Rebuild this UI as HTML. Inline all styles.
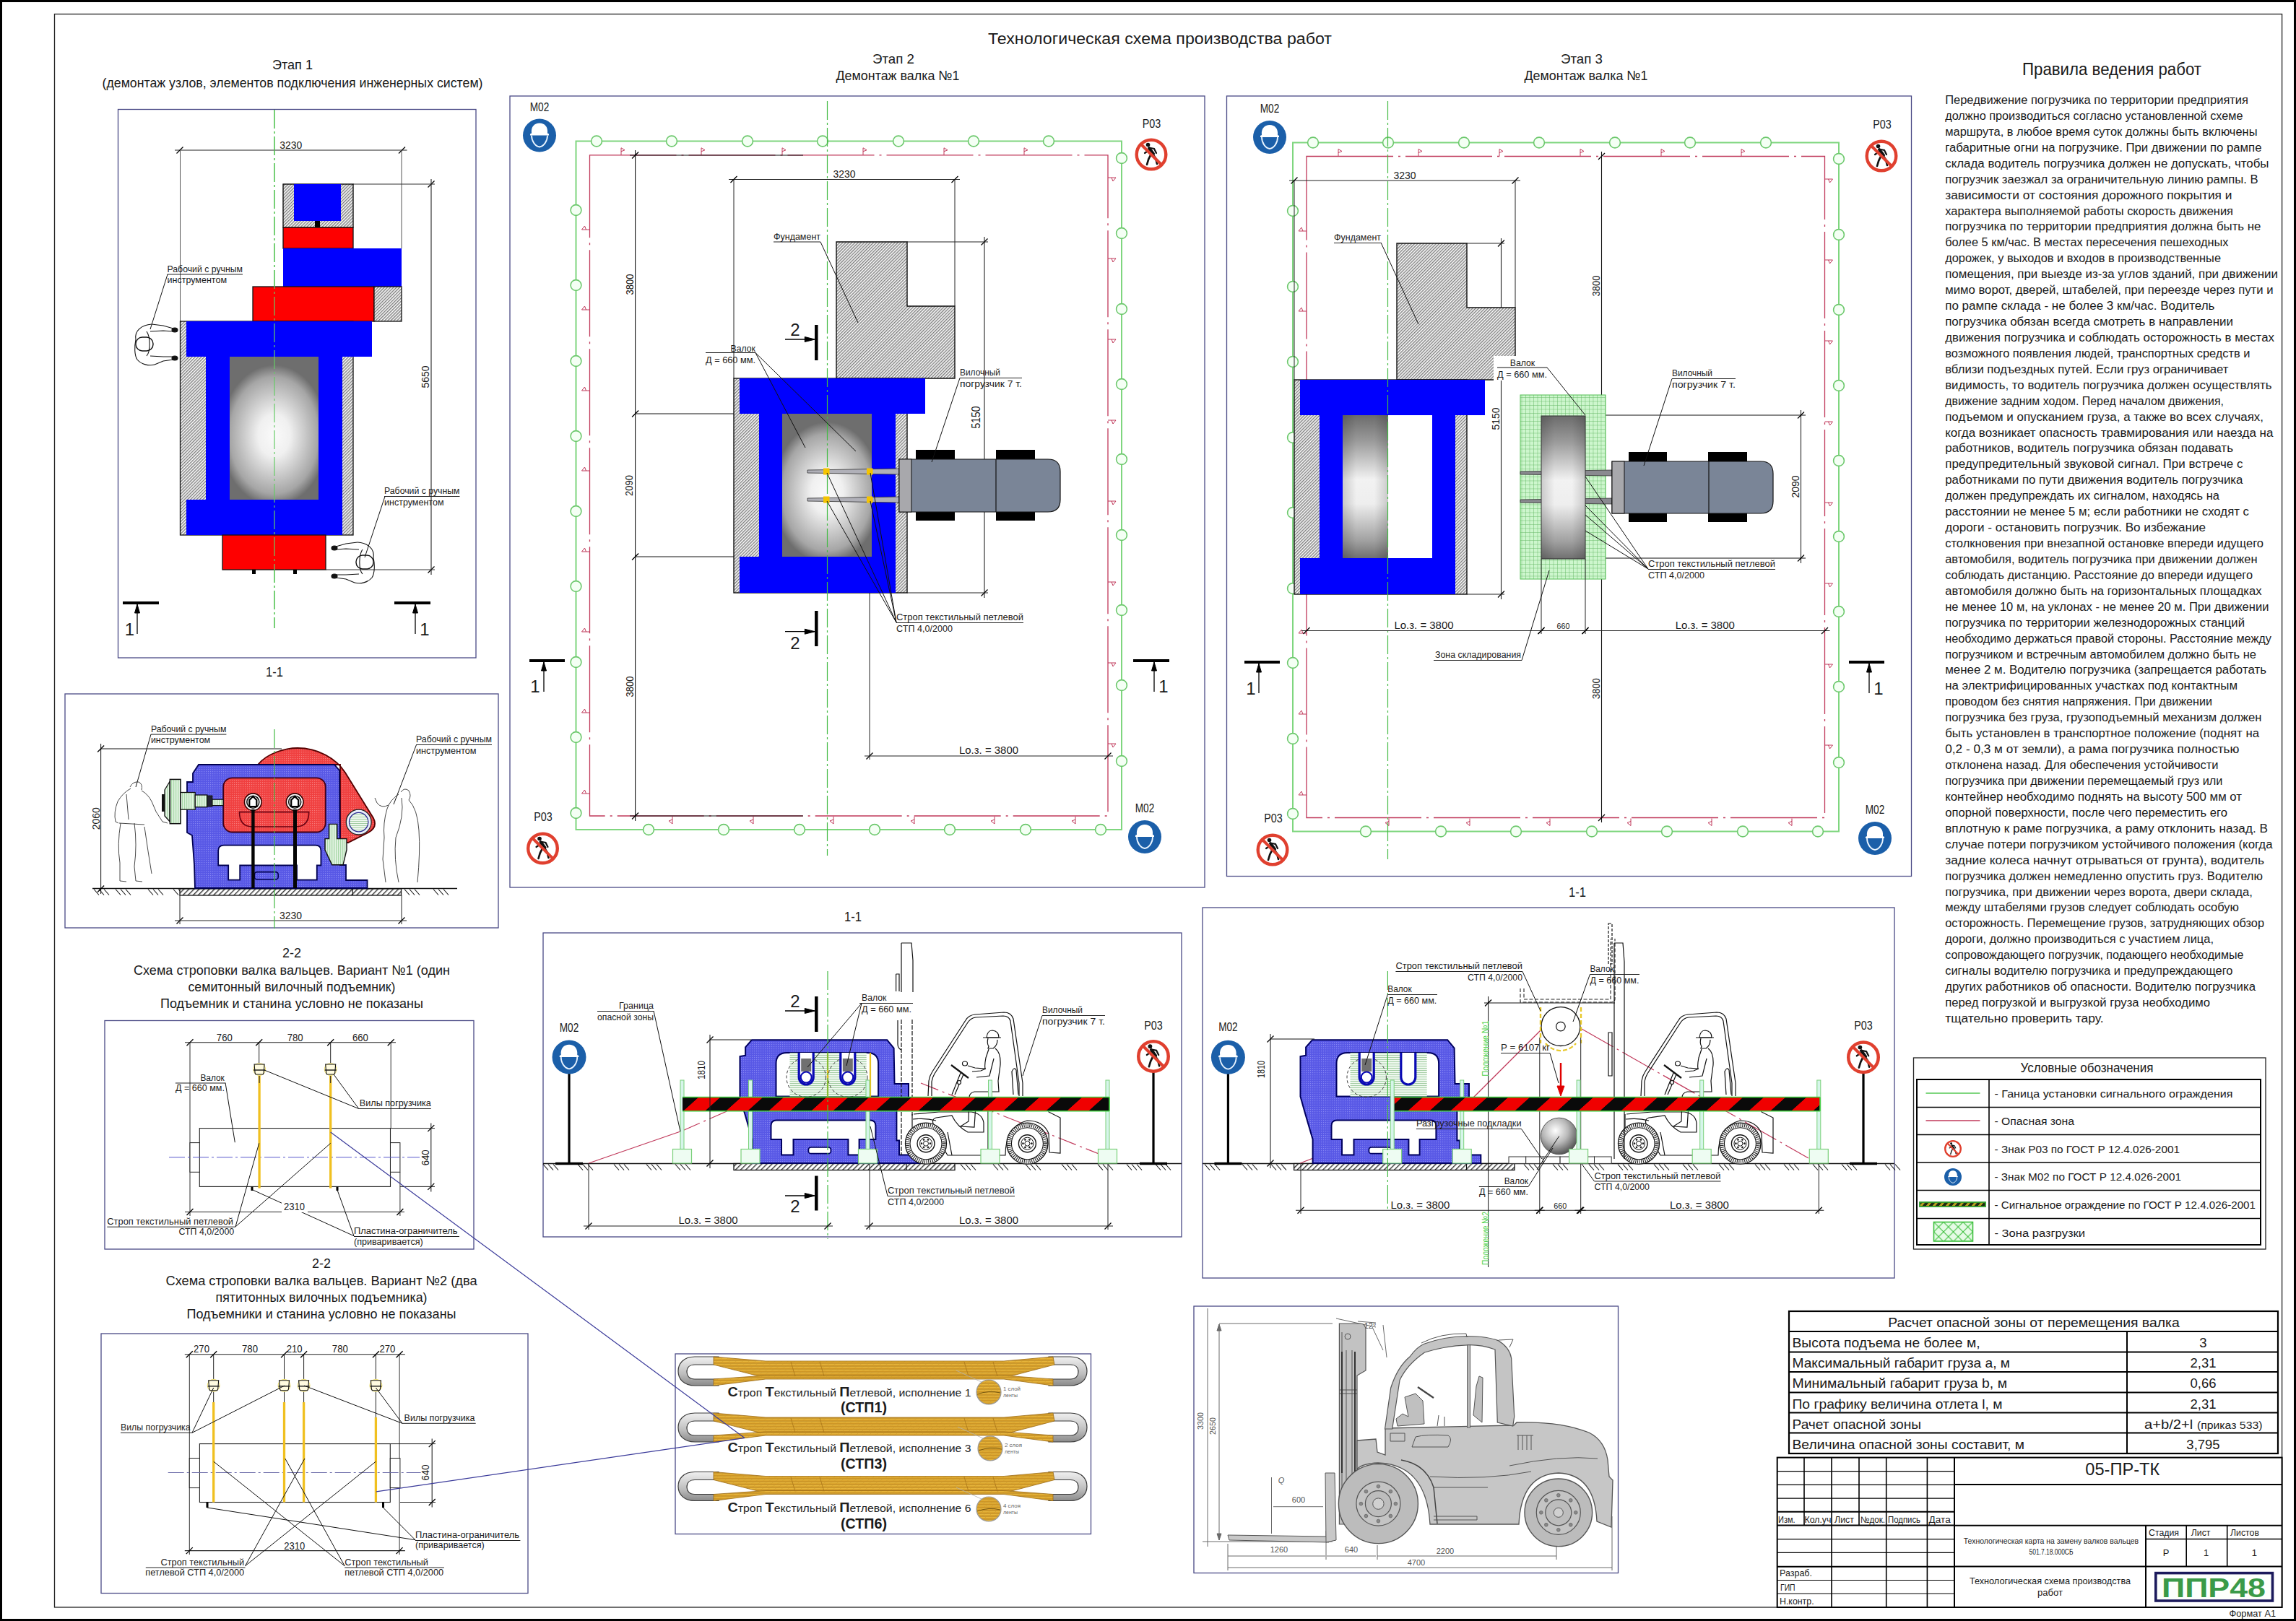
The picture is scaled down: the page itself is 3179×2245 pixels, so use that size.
<!DOCTYPE html>
<html><head><meta charset="utf-8"><style>
html,body{margin:0;padding:0;background:#fff;overflow:hidden;}
svg{display:block;}
text{font-family:"Liberation Sans",sans-serif;}
</style></head><body>
<svg width="3179" height="2245" viewBox="0 0 3179 2245">
<defs>
<pattern id="hatch" width="3" height="3" patternUnits="userSpaceOnUse" patternTransform="rotate(45)">
<rect width="3" height="3" fill="#ffffff"/><rect x="0" y="0" width="1.4" height="3" fill="#7c7c7c"/></pattern>
<radialGradient id="roll" cx="0.5" cy="0.55" r="0.6" gradientTransform="translate(0.5 0.55) scale(1 0.82) translate(-0.5 -0.55)"><stop offset="0" stop-color="#fafafa"/><stop offset="0.3" stop-color="#f0f0f0"/><stop offset="0.83" stop-color="#a6a6a6"/><stop offset="1" stop-color="#6e6e6e"/></radialGradient>
<linearGradient id="rollv" x1="0" y1="0" x2="0" y2="1"><stop offset="0" stop-color="#6c6c6c"/><stop offset="0.18" stop-color="#9a9a9a"/><stop offset="0.45" stop-color="#f2f2f2"/><stop offset="0.62" stop-color="#eeeeee"/><stop offset="0.88" stop-color="#a0a0a0"/><stop offset="1" stop-color="#707070"/></linearGradient>
<linearGradient id="rolledge" x1="0" y1="0" x2="1" y2="0"><stop offset="0" stop-color="#000" stop-opacity="0.16"/><stop offset="0.3" stop-color="#000" stop-opacity="0"/><stop offset="0.7" stop-color="#000" stop-opacity="0"/><stop offset="1" stop-color="#000" stop-opacity="0.16"/></linearGradient>
<linearGradient id="rollh" x1="0" y1="0" x2="1" y2="0"><stop offset="0" stop-color="#6a6a6a"/><stop offset="0.5" stop-color="#f6f6f6"/><stop offset="1" stop-color="#6a6a6a"/></linearGradient>
</defs>
<rect x="0" y="0" width="3179" height="2245" fill="#ffffff" stroke="none" stroke-width="1" />
<rect x="0" y="0" width="3179" height="3" fill="#000" stroke="none" stroke-width="1" />
<rect x="0" y="0" width="3" height="2245" fill="#000" stroke="none" stroke-width="1" />
<rect x="3176" y="0" width="3" height="2245" fill="#000" stroke="none" stroke-width="1" />
<rect x="0" y="2242" width="3179" height="3" fill="#000" stroke="none" stroke-width="1" />
<rect x="75.5" y="19.5" width="3084.1" height="2206.5" fill="none" stroke="#222" stroke-width="1.3" />
<text x="1606" y="60.5" font-size="22.5" font-family="Liberation Sans" text-anchor="middle" textLength="476" lengthAdjust="spacingAndGlyphs" fill="#1a1a1a" >Технологическая схема производства работ</text>
<text x="405" y="96" font-size="19" font-family="Liberation Sans" text-anchor="middle" textLength="56" lengthAdjust="spacingAndGlyphs" fill="#1a1a1a" >Этап 1</text>
<text x="405" y="121" font-size="19" font-family="Liberation Sans" text-anchor="middle" textLength="527" lengthAdjust="spacingAndGlyphs" fill="#1a1a1a" >(демонтаж узлов, элементов подключения инженерных систем)</text>
<text x="1237" y="88" font-size="19" font-family="Liberation Sans" text-anchor="middle" textLength="58" lengthAdjust="spacingAndGlyphs" fill="#1a1a1a" >Этап 2</text>
<text x="1243" y="111" font-size="19" font-family="Liberation Sans" text-anchor="middle" textLength="171" lengthAdjust="spacingAndGlyphs" fill="#1a1a1a" >Демонтаж валка №1</text>
<text x="2190" y="88" font-size="19" font-family="Liberation Sans" text-anchor="middle" textLength="58" lengthAdjust="spacingAndGlyphs" fill="#1a1a1a" >Этап 3</text>
<text x="2196" y="111" font-size="19" font-family="Liberation Sans" text-anchor="middle" textLength="171" lengthAdjust="spacingAndGlyphs" fill="#1a1a1a" >Демонтаж валка №1</text>
<text x="2924" y="104" font-size="24" font-family="Liberation Sans" text-anchor="middle" textLength="248" lengthAdjust="spacingAndGlyphs" fill="#1a1a1a" >Правила ведения работ</text>
<rect x="163.5" y="151.5" width="495.5" height="759.5" fill="none" stroke="#4a4a86" stroke-width="1.3" />
<rect x="90" y="961" width="600" height="324" fill="none" stroke="#4a4a86" stroke-width="1.3" />
<rect x="145" y="1413.5" width="511" height="316.5" fill="none" stroke="#4a4a86" stroke-width="1.3" />
<rect x="140" y="1847" width="591" height="359.5" fill="none" stroke="#4a4a86" stroke-width="1.3" />
<rect x="706" y="133" width="962" height="1096" fill="none" stroke="#4a4a86" stroke-width="1.3" />
<rect x="1698.5" y="133" width="948" height="1080.5" fill="none" stroke="#4a4a86" stroke-width="1.3" />
<rect x="752" y="1292" width="884" height="421" fill="none" stroke="#4a4a86" stroke-width="1.3" />
<rect x="1665" y="1257" width="958" height="513" fill="none" stroke="#4a4a86" stroke-width="1.3" />
<rect x="935" y="1875" width="575.5" height="249.5" fill="none" stroke="#4a4a86" stroke-width="1.3" />
<rect x="1653" y="1809" width="587.5" height="369.5" fill="none" stroke="#4a4a86" stroke-width="1.3" />
<line x1="380" y1="152" x2="380" y2="870" stroke="#44bb44" stroke-width="1.2" stroke-dasharray="26,4,3,4" />
<line x1="242" y1="208" x2="563.5" y2="208" stroke="#222" stroke-width="1.1" />
<line x1="244.5" y1="212.5" x2="253.5" y2="203.5" stroke="#000" stroke-width="1.3" />
<line x1="552" y1="212.5" x2="561" y2="203.5" stroke="#000" stroke-width="1.3" />
<text x="402.75" y="205.8" font-size="15.5" font-family="Liberation Sans" text-anchor="middle" textLength="31" lengthAdjust="spacingAndGlyphs" fill="#1a1a1a" >3230</text>
<line x1="249.5" y1="208" x2="249.5" y2="445" stroke="#555" stroke-width="1" />
<line x1="556" y1="208" x2="556" y2="344" stroke="#555" stroke-width="1" />
<line x1="597" y1="248" x2="597" y2="796" stroke="#222" stroke-width="1.1" />
<line x1="592.5" y1="259.5" x2="601.5" y2="250.5" stroke="#000" stroke-width="1.3" />
<line x1="592.5" y1="793.5" x2="601.5" y2="784.5" stroke="#000" stroke-width="1.3" />
<text x="594.2" y="522" font-size="15.5" font-family="Liberation Sans" text-anchor="middle" textLength="31" lengthAdjust="spacingAndGlyphs" transform="rotate(-90 594.2 522)" fill="#1a1a1a" >5650</text>
<line x1="489" y1="255" x2="602" y2="255" stroke="#333" stroke-width="1" />
<line x1="451" y1="789" x2="602" y2="789" stroke="#333" stroke-width="1" />
<rect x="392" y="255" width="97" height="60" fill="url(#hatch)" stroke="#000" stroke-width="1.3" />
<rect x="407" y="255" width="65" height="51" fill="#0000fe" stroke="none" stroke-width="1" />
<rect x="436" y="306" width="7" height="9" fill="#000" stroke="none" stroke-width="1" />
<rect x="392" y="315" width="97" height="29" fill="#fe0000" stroke="#111" stroke-width="1.3" />
<rect x="392" y="344" width="164" height="53" fill="#0000fe" stroke="none" stroke-width="1" />
<rect x="350" y="397" width="168" height="48" fill="#fe0000" stroke="#111" stroke-width="1.3" />
<rect x="518" y="397" width="38" height="48" fill="url(#hatch)" stroke="#111" stroke-width="1.3" />
<rect x="249.5" y="445" width="239.5" height="296" fill="url(#hatch)" stroke="#111" stroke-width="1.3" />
<rect x="258" y="445" width="257" height="49" fill="#0000fe" stroke="none" stroke-width="1" />
<rect x="285" y="494" width="33" height="198" fill="#0000fe" stroke="none" stroke-width="1" />
<rect x="441" y="494" width="33" height="198" fill="#0000fe" stroke="none" stroke-width="1" />
<rect x="318" y="494" width="123" height="198" fill="url(#roll)" stroke="none" stroke-width="1" />
<rect x="258" y="692" width="216" height="49" fill="#0000fe" stroke="none" stroke-width="1" />
<rect x="308" y="741" width="143" height="48" fill="#fe0000" stroke="#111" stroke-width="1.3" />
<rect x="349" y="789" width="5" height="6" fill="#000" stroke="none" stroke-width="1" />
<rect x="406" y="789" width="5" height="6" fill="#000" stroke="none" stroke-width="1" />
<line x1="380" y1="152" x2="380" y2="870" stroke="#66cc66" stroke-width="1.2" stroke-dasharray="26,4,3,4" />
<g transform="translate(200,476) scale(1,1)" fill="none" stroke="#111" stroke-width="1.1">
<path d="M 10,-27 C -4,-26 -14,-18 -12,-6 C -14,4 -14,16 -10,22 C -4,29 6,31 14,29"/>
<path d="M 10,-27 L 26,-25 L 40,-21 M 8,-17 L 26,-18 L 40,-17 M 14,29 L 26,24 L 40,22 M 8,17 L 26,18 L 40,18"/>
<rect x="-12" y="-9" width="24" height="19" rx="9" fill="#fff" stroke-width="1.4"/>
<path d="M 3,-17 C 8,-10 9,10 3,17" />
<ellipse cx="42" cy="-19" rx="4" ry="3" fill="#111"/><ellipse cx="42" cy="20" rx="4" ry="3" fill="#111"/>
</g>
<g transform="translate(505,778) scale(-1,1)" fill="none" stroke="#111" stroke-width="1.1">
<path d="M 10,-27 C -4,-26 -14,-18 -12,-6 C -14,4 -14,16 -10,22 C -4,29 6,31 14,29"/>
<path d="M 10,-27 L 26,-25 L 40,-21 M 8,-17 L 26,-18 L 40,-17 M 14,29 L 26,24 L 40,22 M 8,17 L 26,18 L 40,18"/>
<rect x="-12" y="-9" width="24" height="19" rx="9" fill="#fff" stroke-width="1.4"/>
<path d="M 3,-17 C 8,-10 9,10 3,17" />
<ellipse cx="42" cy="-19" rx="4" ry="3" fill="#111"/><ellipse cx="42" cy="20" rx="4" ry="3" fill="#111"/>
</g>
<text x="231.5" y="376.5" font-size="12.5" font-family="Liberation Sans" textLength="104.5" lengthAdjust="spacingAndGlyphs" fill="#1a1a1a" >Рабочий с ручным</text>
<text x="231.5" y="392" font-size="12.5" font-family="Liberation Sans" textLength="82.5" lengthAdjust="spacingAndGlyphs" fill="#1a1a1a" >инструментом</text>
<line x1="231.5" y1="380" x2="336" y2="380" stroke="#222" stroke-width="1" />
<line x1="232" y1="380" x2="208" y2="456" stroke="#111" stroke-width="1" />
<text x="532" y="684" font-size="12.5" font-family="Liberation Sans" textLength="104.5" lengthAdjust="spacingAndGlyphs" fill="#1a1a1a" >Рабочий с ручным</text>
<text x="532" y="699.5" font-size="12.5" font-family="Liberation Sans" textLength="82.5" lengthAdjust="spacingAndGlyphs" fill="#1a1a1a" >инструментом</text>
<line x1="532" y1="687.5" x2="636.5" y2="687.5" stroke="#222" stroke-width="1" />
<line x1="533" y1="687.5" x2="505" y2="772" stroke="#111" stroke-width="1" />
<line x1="170" y1="835" x2="220" y2="835" stroke="#000" stroke-width="4" />
<line x1="190" y1="837" x2="190" y2="878" stroke="#000" stroke-width="1.3" />
<polygon points="186.5,849 190,837 193.5,849" fill="#000" stroke="#000" stroke-width="1" />
<text x="179.5" y="880" font-size="24" font-family="Liberation Sans" text-anchor="middle" fill="#1a1a1a" >1</text>
<line x1="546" y1="835" x2="596" y2="835" stroke="#000" stroke-width="4" />
<line x1="575" y1="837" x2="575" y2="878" stroke="#000" stroke-width="1.3" />
<polygon points="571.5,849 575,837 578.5,849" fill="#000" stroke="#000" stroke-width="1" />
<text x="588" y="880" font-size="24" font-family="Liberation Sans" text-anchor="middle" fill="#1a1a1a" >1</text>
<text x="380" y="937" font-size="19" font-family="Liberation Sans" text-anchor="middle" textLength="24" lengthAdjust="spacingAndGlyphs" fill="#1a1a1a" >1-1</text>
<g transform="translate(747,187.5) scale(1.0)">
<circle r="23" fill="#1b5fa9"/>
<path d="M -11,-3 C -12,-12 -7,-17 0,-17 C 7,-17 12,-12 11,-3 L 13,-2 L 13,0 L -13,0 L -13,-2 Z" fill="#fff"/>
<path d="M -11,0 C -11,8 -6,15 0,16 C 6,15 11,8 11,0" fill="none" stroke="#e8f4ff" stroke-width="1.8"/>
</g>
<text x="747" y="154" font-size="16" font-family="Liberation Sans" text-anchor="middle" textLength="26.5" lengthAdjust="spacingAndGlyphs" fill="#1a1a1a" >М02</text>
<g transform="translate(1594,214) scale(1.0)">
<circle r="20.3" fill="#fff" stroke="#e0402f" stroke-width="4.4"/>
<g stroke="#111" stroke-linecap="round" fill="none"><path d="M -3,-9 L 3,-1" stroke-width="4"/><path d="M -1,-9 L 4,-8 L 7,-2" stroke-width="2.2"/><path d="M -3,-6 L -9,-2" stroke-width="2.2"/><path d="M 0,-1 C -3,4 -5,9 -6,14" stroke-width="2.6"/><path d="M 2,-1 L 6,5 L 8,13" stroke-width="2.6"/></g>
<circle cx="-4.5" cy="-13.5" r="2.8" fill="#111"/>
<line x1="-14" y1="-14" x2="14" y2="14" stroke="#e0402f" stroke-width="4"/>
</g>
<text x="1594.5" y="176.5" font-size="16" font-family="Liberation Sans" text-anchor="middle" textLength="25.5" lengthAdjust="spacingAndGlyphs" fill="#1a1a1a" >Р03</text>
<g transform="translate(751.5,1175) scale(1.0)">
<circle r="20.3" fill="#fff" stroke="#e0402f" stroke-width="4.4"/>
<g stroke="#111" stroke-linecap="round" fill="none"><path d="M -3,-9 L 3,-1" stroke-width="4"/><path d="M -1,-9 L 4,-8 L 7,-2" stroke-width="2.2"/><path d="M -3,-6 L -9,-2" stroke-width="2.2"/><path d="M 0,-1 C -3,4 -5,9 -6,14" stroke-width="2.6"/><path d="M 2,-1 L 6,5 L 8,13" stroke-width="2.6"/></g>
<circle cx="-4.5" cy="-13.5" r="2.8" fill="#111"/>
<line x1="-14" y1="-14" x2="14" y2="14" stroke="#e0402f" stroke-width="4"/>
</g>
<text x="752" y="1137" font-size="16" font-family="Liberation Sans" text-anchor="middle" textLength="25.5" lengthAdjust="spacingAndGlyphs" fill="#1a1a1a" >Р03</text>
<g transform="translate(1585,1159) scale(1.0)">
<circle r="23" fill="#1b5fa9"/>
<path d="M -11,-3 C -12,-12 -7,-17 0,-17 C 7,-17 12,-12 11,-3 L 13,-2 L 13,0 L -13,0 L -13,-2 Z" fill="#fff"/>
<path d="M -11,0 C -11,8 -6,15 0,16 C 6,15 11,8 11,0" fill="none" stroke="#e8f4ff" stroke-width="1.8"/>
</g>
<text x="1585" y="1125" font-size="16" font-family="Liberation Sans" text-anchor="middle" textLength="26.5" lengthAdjust="spacingAndGlyphs" fill="#1a1a1a" >М02</text>
<rect x="816.5" y="214.8" width="717.5" height="915.2" fill="none" stroke="#c0385a" stroke-width="1.3" stroke-dasharray="120,7,3,7"/>
<polyline points="860,214.8 860,204.8 865,207.8 860,209.8" fill="none" stroke="#c0385a" stroke-width="1" />
<polyline points="971,214.8 971,204.8 976,207.8 971,209.8" fill="none" stroke="#c0385a" stroke-width="1" />
<polyline points="1083,214.8 1083,204.8 1088,207.8 1083,209.8" fill="none" stroke="#c0385a" stroke-width="1" />
<polyline points="1195,214.8 1195,204.8 1200,207.8 1195,209.8" fill="none" stroke="#c0385a" stroke-width="1" />
<polyline points="1307,214.8 1307,204.8 1312,207.8 1307,209.8" fill="none" stroke="#c0385a" stroke-width="1" />
<polyline points="1418,214.8 1418,204.8 1423,207.8 1418,209.8" fill="none" stroke="#c0385a" stroke-width="1" />
<polyline points="931,1131 931,1141 926,1137 931,1135" fill="none" stroke="#c0385a" stroke-width="1" />
<polyline points="1043,1131 1043,1141 1038,1137 1043,1135" fill="none" stroke="#c0385a" stroke-width="1" />
<polyline points="1154,1131 1154,1141 1149,1137 1154,1135" fill="none" stroke="#c0385a" stroke-width="1" />
<polyline points="1266,1131 1266,1141 1261,1137 1266,1135" fill="none" stroke="#c0385a" stroke-width="1" />
<polyline points="1377,1131 1377,1141 1372,1137 1377,1135" fill="none" stroke="#c0385a" stroke-width="1" />
<polyline points="1489,1131 1489,1141 1484,1137 1489,1135" fill="none" stroke="#c0385a" stroke-width="1" />
<polyline points="816.5,318 805.5,318 809.5,313 811.5,318" fill="none" stroke="#c0385a" stroke-width="1" />
<polyline points="816.5,429 805.5,429 809.5,424 811.5,429" fill="none" stroke="#c0385a" stroke-width="1" />
<polyline points="816.5,541 805.5,541 809.5,536 811.5,541" fill="none" stroke="#c0385a" stroke-width="1" />
<polyline points="816.5,652 805.5,652 809.5,647 811.5,652" fill="none" stroke="#c0385a" stroke-width="1" />
<polyline points="816.5,764 805.5,764 809.5,759 811.5,764" fill="none" stroke="#c0385a" stroke-width="1" />
<polyline points="816.5,875 805.5,875 809.5,870 811.5,875" fill="none" stroke="#c0385a" stroke-width="1" />
<polyline points="816.5,987 805.5,987 809.5,982 811.5,987" fill="none" stroke="#c0385a" stroke-width="1" />
<polyline points="816.5,1099 805.5,1099 809.5,1094 811.5,1099" fill="none" stroke="#c0385a" stroke-width="1" />
<polyline points="1534,246 1545,246 1541,251 1539,246" fill="none" stroke="#c0385a" stroke-width="1" />
<polyline points="1534,358 1545,358 1541,363 1539,358" fill="none" stroke="#c0385a" stroke-width="1" />
<polyline points="1534,470 1545,470 1541,475 1539,470" fill="none" stroke="#c0385a" stroke-width="1" />
<polyline points="1534,582 1545,582 1541,587 1539,582" fill="none" stroke="#c0385a" stroke-width="1" />
<polyline points="1534,694 1545,694 1541,699 1539,694" fill="none" stroke="#c0385a" stroke-width="1" />
<polyline points="1534,806 1545,806 1541,811 1539,806" fill="none" stroke="#c0385a" stroke-width="1" />
<polyline points="1534,918 1545,918 1541,923 1539,918" fill="none" stroke="#c0385a" stroke-width="1" />
<polyline points="1534,1030 1545,1030 1541,1035 1539,1030" fill="none" stroke="#c0385a" stroke-width="1" />
<rect x="797.5" y="195.5" width="755.5" height="953.5" fill="none" stroke="#7fd67f" stroke-width="2" />
<circle cx="826" cy="195.5" r="7.4" fill="#f4fff4" stroke="#6cc86c" stroke-width="1.6" />
<circle cx="930" cy="195.5" r="7.4" fill="#f4fff4" stroke="#6cc86c" stroke-width="1.6" />
<circle cx="1035" cy="195.5" r="7.4" fill="#f4fff4" stroke="#6cc86c" stroke-width="1.6" />
<circle cx="1139" cy="195.5" r="7.4" fill="#f4fff4" stroke="#6cc86c" stroke-width="1.6" />
<circle cx="1244" cy="195.5" r="7.4" fill="#f4fff4" stroke="#6cc86c" stroke-width="1.6" />
<circle cx="1348" cy="195.5" r="7.4" fill="#f4fff4" stroke="#6cc86c" stroke-width="1.6" />
<circle cx="1452" cy="195.5" r="7.4" fill="#f4fff4" stroke="#6cc86c" stroke-width="1.6" />
<circle cx="898" cy="1149" r="7.4" fill="#f4fff4" stroke="#6cc86c" stroke-width="1.6" />
<circle cx="1002" cy="1149" r="7.4" fill="#f4fff4" stroke="#6cc86c" stroke-width="1.6" />
<circle cx="1107" cy="1149" r="7.4" fill="#f4fff4" stroke="#6cc86c" stroke-width="1.6" />
<circle cx="1211" cy="1149" r="7.4" fill="#f4fff4" stroke="#6cc86c" stroke-width="1.6" />
<circle cx="1315" cy="1149" r="7.4" fill="#f4fff4" stroke="#6cc86c" stroke-width="1.6" />
<circle cx="1420" cy="1149" r="7.4" fill="#f4fff4" stroke="#6cc86c" stroke-width="1.6" />
<circle cx="1524" cy="1149" r="7.4" fill="#f4fff4" stroke="#6cc86c" stroke-width="1.6" />
<circle cx="797.5" cy="291" r="7.4" fill="#f4fff4" stroke="#6cc86c" stroke-width="1.6" />
<circle cx="797.5" cy="395" r="7.4" fill="#f4fff4" stroke="#6cc86c" stroke-width="1.6" />
<circle cx="797.5" cy="500" r="7.4" fill="#f4fff4" stroke="#6cc86c" stroke-width="1.6" />
<circle cx="797.5" cy="604" r="7.4" fill="#f4fff4" stroke="#6cc86c" stroke-width="1.6" />
<circle cx="797.5" cy="708" r="7.4" fill="#f4fff4" stroke="#6cc86c" stroke-width="1.6" />
<circle cx="797.5" cy="812" r="7.4" fill="#f4fff4" stroke="#6cc86c" stroke-width="1.6" />
<circle cx="797.5" cy="917" r="7.4" fill="#f4fff4" stroke="#6cc86c" stroke-width="1.6" />
<circle cx="797.5" cy="1021" r="7.4" fill="#f4fff4" stroke="#6cc86c" stroke-width="1.6" />
<circle cx="797.5" cy="1126" r="7.4" fill="#f4fff4" stroke="#6cc86c" stroke-width="1.6" />
<circle cx="1553" cy="219" r="7.4" fill="#f4fff4" stroke="#6cc86c" stroke-width="1.6" />
<circle cx="1553" cy="323" r="7.4" fill="#f4fff4" stroke="#6cc86c" stroke-width="1.6" />
<circle cx="1553" cy="428" r="7.4" fill="#f4fff4" stroke="#6cc86c" stroke-width="1.6" />
<circle cx="1553" cy="532" r="7.4" fill="#f4fff4" stroke="#6cc86c" stroke-width="1.6" />
<circle cx="1553" cy="636" r="7.4" fill="#f4fff4" stroke="#6cc86c" stroke-width="1.6" />
<circle cx="1553" cy="741" r="7.4" fill="#f4fff4" stroke="#6cc86c" stroke-width="1.6" />
<circle cx="1553" cy="845" r="7.4" fill="#f4fff4" stroke="#6cc86c" stroke-width="1.6" />
<circle cx="1553" cy="949" r="7.4" fill="#f4fff4" stroke="#6cc86c" stroke-width="1.6" />
<circle cx="1553" cy="1054" r="7.4" fill="#f4fff4" stroke="#6cc86c" stroke-width="1.6" />
<line x1="872" y1="215" x2="1112" y2="215" stroke="#111" stroke-width="1.2" />
<line x1="872" y1="1130" x2="1112" y2="1130" stroke="#111" stroke-width="1.2" />
<line x1="879.6" y1="208" x2="879.6" y2="1137" stroke="#111" stroke-width="1.1" />
<line x1="875.1" y1="219.5" x2="884.1" y2="210.5" stroke="#000" stroke-width="1.3" />
<line x1="875.1" y1="577.5" x2="884.1" y2="568.5" stroke="#000" stroke-width="1.3" />
<line x1="875.1" y1="775.5" x2="884.1" y2="766.5" stroke="#000" stroke-width="1.3" />
<line x1="875.1" y1="1134.5" x2="884.1" y2="1125.5" stroke="#000" stroke-width="1.3" />
<text x="876.5" y="394" font-size="15" font-family="Liberation Sans" text-anchor="middle" textLength="29" lengthAdjust="spacingAndGlyphs" transform="rotate(-90 876.5 394)" fill="#1a1a1a" >3800</text>
<text x="876.5" y="672.4" font-size="15" font-family="Liberation Sans" text-anchor="middle" textLength="29" lengthAdjust="spacingAndGlyphs" transform="rotate(-90 876.5 672.4)" fill="#1a1a1a" >2090</text>
<text x="876.5" y="951" font-size="15" font-family="Liberation Sans" text-anchor="middle" textLength="29" lengthAdjust="spacingAndGlyphs" transform="rotate(-90 876.5 951)" fill="#1a1a1a" >3800</text>
<line x1="879.6" y1="573" x2="1024" y2="573" stroke="#111" stroke-width="1" />
<line x1="879.6" y1="771" x2="1016" y2="771" stroke="#111" stroke-width="1" />
<line x1="1009" y1="248.5" x2="1329" y2="248.5" stroke="#222" stroke-width="1.1" />
<line x1="1011.5" y1="253" x2="1020.5" y2="244" stroke="#000" stroke-width="1.3" />
<line x1="1317.5" y1="253" x2="1326.5" y2="244" stroke="#000" stroke-width="1.3" />
<text x="1169" y="246.2" font-size="15.5" font-family="Liberation Sans" text-anchor="middle" textLength="31" lengthAdjust="spacingAndGlyphs" fill="#1a1a1a" >3230</text>
<line x1="1016" y1="248.5" x2="1016" y2="524" stroke="#222" stroke-width="1" />
<line x1="1322" y1="248.5" x2="1322" y2="424" stroke="#222" stroke-width="1" />
<line x1="1363" y1="328" x2="1363" y2="828" stroke="#222" stroke-width="1.1" />
<line x1="1358.5" y1="339.5" x2="1367.5" y2="330.5" stroke="#000" stroke-width="1.3" />
<line x1="1358.5" y1="825.5" x2="1367.5" y2="816.5" stroke="#000" stroke-width="1.3" />
<text x="1357" y="578" font-size="16" font-family="Liberation Sans" text-anchor="middle" textLength="31" lengthAdjust="spacingAndGlyphs" transform="rotate(-90 1357 578)" fill="#1a1a1a" >5150</text>
<line x1="1256" y1="335" x2="1368" y2="335" stroke="#222" stroke-width="1" />
<line x1="1256" y1="821" x2="1368" y2="821" stroke="#222" stroke-width="1" />
<line x1="1197" y1="1047" x2="1541" y2="1047" stroke="#222" stroke-width="1.1" />
<line x1="1199.5" y1="1051.5" x2="1208.5" y2="1042.5" stroke="#000" stroke-width="1.3" />
<line x1="1529.5" y1="1051.5" x2="1538.5" y2="1042.5" stroke="#000" stroke-width="1.3" />
<text x="1369" y="1044" font-size="15" font-family="Liberation Sans" text-anchor="middle" textLength="82" lengthAdjust="spacingAndGlyphs" fill="#1a1a1a" >Lo.з. = 3800</text>
<line x1="1204" y1="720" x2="1204" y2="1052" stroke="#222" stroke-width="1" />
<polygon points="1158,335 1256,335 1256,424 1322,424 1322,524 1158,524" fill="url(#hatch)" stroke="#111" stroke-width="1.4" />
<rect x="1016" y="524" width="240" height="297" fill="url(#hatch)" stroke="#111" stroke-width="1.4" />
<rect x="1024" y="524" width="257" height="49" fill="#0000fe" stroke="none" stroke-width="1" />
<rect x="1051" y="573" width="32" height="198" fill="#0000fe" stroke="none" stroke-width="1" />
<rect x="1207" y="573" width="33" height="198" fill="#0000fe" stroke="none" stroke-width="1" />
<rect x="1083" y="573" width="124" height="198" fill="url(#roll)" stroke="none" stroke-width="1" />
<rect x="1024" y="771" width="216" height="50" fill="#0000fe" stroke="none" stroke-width="1" />
<line x1="1145.5" y1="140" x2="1145.5" y2="1185" stroke="#44bb44" stroke-width="1.2" stroke-dasharray="26,4,3,4" />
<polygon points="1118,651 1245,649 1245,657 1118,655" fill="#b0b0b8" stroke="#333" stroke-width="0.8" />
<polygon points="1118,690 1245,688 1245,696 1118,694" fill="#b0b0b8" stroke="#333" stroke-width="0.8" />
<rect x="1140" y="648.5" width="8.5" height="9" fill="#f5c400" stroke="none" stroke-width="1" />
<rect x="1200" y="648.5" width="8.5" height="9" fill="#f5c400" stroke="none" stroke-width="1" />
<rect x="1140" y="687.5" width="8.5" height="9" fill="#f5c400" stroke="none" stroke-width="1" />
<rect x="1200" y="687.5" width="8.5" height="9" fill="#f5c400" stroke="none" stroke-width="1" />
<rect x="1268" y="623" width="54" height="13" fill="#000" stroke="none" stroke-width="1" />
<rect x="1268" y="709" width="54" height="12" fill="#000" stroke="none" stroke-width="1" />
<rect x="1379" y="623" width="54" height="13" fill="#000" stroke="none" stroke-width="1" />
<rect x="1379" y="709" width="54" height="12" fill="#000" stroke="none" stroke-width="1" />
<path d="M 1245,636 L 1451,636 Q 1468,636 1468,653 L 1468,692 Q 1468,709 1451,709 L 1245,709 Z" fill="#7a8597" stroke="#111" stroke-width="1.2" />
<rect x="1245" y="636" width="17" height="73" fill="#a8a8ac" stroke="#111" stroke-width="1" />
<line x1="1379" y1="636" x2="1379" y2="709" stroke="#111" stroke-width="1.2" />
<text x="1071" y="331.5" font-size="12.5" font-family="Liberation Sans" textLength="65" lengthAdjust="spacingAndGlyphs" fill="#1a1a1a" >Фундамент</text>
<text x="1071" y="347" font-size="12.5" font-family="Liberation Sans" fill="#1a1a1a" ></text>
<line x1="1071" y1="335" x2="1136" y2="335" stroke="#222" stroke-width="1" />
<line x1="1136" y1="335" x2="1188" y2="447" stroke="#111" stroke-width="1" />
<text x="1011.5" y="486.5" font-size="12.5" font-family="Liberation Sans" textLength="34.5" lengthAdjust="spacingAndGlyphs" fill="#1a1a1a" >Валок</text>
<line x1="977" y1="488.5" x2="1046" y2="488.5" stroke="#111" stroke-width="1" />
<text x="977" y="503" font-size="12.5" font-family="Liberation Sans" textLength="69" lengthAdjust="spacingAndGlyphs" fill="#1a1a1a" >Д = 660 мм.</text>
<line x1="1046" y1="488.5" x2="1115" y2="620" stroke="#111" stroke-width="1" />
<line x1="1046" y1="488.5" x2="1185" y2="625" stroke="#111" stroke-width="1" />
<text x="1329" y="520" font-size="12.5" font-family="Liberation Sans" textLength="56" lengthAdjust="spacingAndGlyphs" fill="#1a1a1a" >Вилочный</text>
<text x="1329" y="535.5" font-size="12.5" font-family="Liberation Sans" textLength="86" lengthAdjust="spacingAndGlyphs" fill="#1a1a1a" >погрузчик 7 т.</text>
<line x1="1329" y1="523.5" x2="1415" y2="523.5" stroke="#222" stroke-width="1" />
<line x1="1329" y1="523.5" x2="1290" y2="640" stroke="#111" stroke-width="1" />
<text x="1241" y="859" font-size="12.5" font-family="Liberation Sans" textLength="176" lengthAdjust="spacingAndGlyphs" fill="#1a1a1a" >Строп текстильный петлевой</text>
<text x="1241" y="874.5" font-size="12.5" font-family="Liberation Sans" textLength="78" lengthAdjust="spacingAndGlyphs" fill="#1a1a1a" >СТП 4,0/2000</text>
<line x1="1241" y1="862.5" x2="1417" y2="862.5" stroke="#222" stroke-width="1" />
<line x1="1241" y1="862" x2="1145" y2="655" stroke="#111" stroke-width="1" />
<line x1="1241" y1="862" x2="1145" y2="694" stroke="#111" stroke-width="1" />
<line x1="1241" y1="862" x2="1205" y2="655" stroke="#111" stroke-width="1" />
<line x1="1241" y1="862" x2="1205" y2="694" stroke="#111" stroke-width="1" />
<line x1="733" y1="915" x2="782" y2="915" stroke="#000" stroke-width="4" />
<line x1="753" y1="917" x2="753" y2="958" stroke="#000" stroke-width="1.3" />
<polygon points="749.5,929 753,917 756.5,929" fill="#000" stroke="#000" stroke-width="1" />
<text x="741" y="958.5" font-size="24" font-family="Liberation Sans" text-anchor="middle" fill="#1a1a1a" >1</text>
<line x1="1569" y1="915" x2="1619" y2="915" stroke="#000" stroke-width="4" />
<line x1="1598" y1="917" x2="1598" y2="958" stroke="#000" stroke-width="1.3" />
<polygon points="1594.5,929 1598,917 1601.5,929" fill="#000" stroke="#000" stroke-width="1" />
<text x="1611" y="958.5" font-size="24" font-family="Liberation Sans" text-anchor="middle" fill="#1a1a1a" >1</text>
<line x1="1130.3" y1="450" x2="1130.3" y2="499" stroke="#000" stroke-width="4.5" />
<line x1="1087" y1="470" x2="1127.3" y2="470" stroke="#000" stroke-width="1.3" />
<polygon points="1114.3,466.5 1128.3,470 1114.3,473.5" fill="#000" stroke="#000" stroke-width="1" />
<text x="1101" y="465" font-size="24" font-family="Liberation Sans" text-anchor="middle" fill="#1a1a1a" >2</text>
<line x1="1130.3" y1="846" x2="1130.3" y2="895" stroke="#000" stroke-width="4.5" />
<line x1="1087" y1="874.7" x2="1127.3" y2="874.7" stroke="#000" stroke-width="1.3" />
<polygon points="1114.3,871.2 1128.3,874.7 1114.3,878.2" fill="#000" stroke="#000" stroke-width="1" />
<text x="1101" y="898.6" font-size="24" font-family="Liberation Sans" text-anchor="middle" fill="#1a1a1a" >2</text>
<g transform="translate(1758,190) scale(1.0)">
<circle r="23" fill="#1b5fa9"/>
<path d="M -11,-3 C -12,-12 -7,-17 0,-17 C 7,-17 12,-12 11,-3 L 13,-2 L 13,0 L -13,0 L -13,-2 Z" fill="#fff"/>
<path d="M -11,0 C -11,8 -6,15 0,16 C 6,15 11,8 11,0" fill="none" stroke="#e8f4ff" stroke-width="1.8"/>
</g>
<text x="1758" y="156" font-size="16" font-family="Liberation Sans" text-anchor="middle" textLength="26.5" lengthAdjust="spacingAndGlyphs" fill="#1a1a1a" >М02</text>
<g transform="translate(2605,216) scale(1.0)">
<circle r="20.3" fill="#fff" stroke="#e0402f" stroke-width="4.4"/>
<g stroke="#111" stroke-linecap="round" fill="none"><path d="M -3,-9 L 3,-1" stroke-width="4"/><path d="M -1,-9 L 4,-8 L 7,-2" stroke-width="2.2"/><path d="M -3,-6 L -9,-2" stroke-width="2.2"/><path d="M 0,-1 C -3,4 -5,9 -6,14" stroke-width="2.6"/><path d="M 2,-1 L 6,5 L 8,13" stroke-width="2.6"/></g>
<circle cx="-4.5" cy="-13.5" r="2.8" fill="#111"/>
<line x1="-14" y1="-14" x2="14" y2="14" stroke="#e0402f" stroke-width="4"/>
</g>
<text x="2606" y="178" font-size="16" font-family="Liberation Sans" text-anchor="middle" textLength="25.5" lengthAdjust="spacingAndGlyphs" fill="#1a1a1a" >Р03</text>
<g transform="translate(1762,1177) scale(1.0)">
<circle r="20.3" fill="#fff" stroke="#e0402f" stroke-width="4.4"/>
<g stroke="#111" stroke-linecap="round" fill="none"><path d="M -3,-9 L 3,-1" stroke-width="4"/><path d="M -1,-9 L 4,-8 L 7,-2" stroke-width="2.2"/><path d="M -3,-6 L -9,-2" stroke-width="2.2"/><path d="M 0,-1 C -3,4 -5,9 -6,14" stroke-width="2.6"/><path d="M 2,-1 L 6,5 L 8,13" stroke-width="2.6"/></g>
<circle cx="-4.5" cy="-13.5" r="2.8" fill="#111"/>
<line x1="-14" y1="-14" x2="14" y2="14" stroke="#e0402f" stroke-width="4"/>
</g>
<text x="1763" y="1139" font-size="16" font-family="Liberation Sans" text-anchor="middle" textLength="25.5" lengthAdjust="spacingAndGlyphs" fill="#1a1a1a" >Р03</text>
<g transform="translate(2596,1161) scale(1.0)">
<circle r="23" fill="#1b5fa9"/>
<path d="M -11,-3 C -12,-12 -7,-17 0,-17 C 7,-17 12,-12 11,-3 L 13,-2 L 13,0 L -13,0 L -13,-2 Z" fill="#fff"/>
<path d="M -11,0 C -11,8 -6,15 0,16 C 6,15 11,8 11,0" fill="none" stroke="#e8f4ff" stroke-width="1.8"/>
</g>
<text x="2596" y="1127" font-size="16" font-family="Liberation Sans" text-anchor="middle" textLength="26.5" lengthAdjust="spacingAndGlyphs" fill="#1a1a1a" >М02</text>
<rect x="1809" y="216.5" width="717.5" height="916" fill="none" stroke="#c0385a" stroke-width="1.3" stroke-dasharray="120,7,3,7"/>
<polyline points="1853,216.5 1853,206.5 1858,209.5 1853,211.5" fill="none" stroke="#c0385a" stroke-width="1" />
<polyline points="1964,216.5 1964,206.5 1969,209.5 1964,211.5" fill="none" stroke="#c0385a" stroke-width="1" />
<polyline points="2076,216.5 2076,206.5 2081,209.5 2076,211.5" fill="none" stroke="#c0385a" stroke-width="1" />
<polyline points="2188,216.5 2188,206.5 2193,209.5 2188,211.5" fill="none" stroke="#c0385a" stroke-width="1" />
<polyline points="2300,216.5 2300,206.5 2305,209.5 2300,211.5" fill="none" stroke="#c0385a" stroke-width="1" />
<polyline points="2411,216.5 2411,206.5 2416,209.5 2411,211.5" fill="none" stroke="#c0385a" stroke-width="1" />
<polyline points="1923,1133.5 1923,1143.5 1918,1139.5 1923,1137.5" fill="none" stroke="#c0385a" stroke-width="1" />
<polyline points="2035,1133.5 2035,1143.5 2030,1139.5 2035,1137.5" fill="none" stroke="#c0385a" stroke-width="1" />
<polyline points="2146,1133.5 2146,1143.5 2141,1139.5 2146,1137.5" fill="none" stroke="#c0385a" stroke-width="1" />
<polyline points="2258,1133.5 2258,1143.5 2253,1139.5 2258,1137.5" fill="none" stroke="#c0385a" stroke-width="1" />
<polyline points="2370,1133.5 2370,1143.5 2365,1139.5 2370,1137.5" fill="none" stroke="#c0385a" stroke-width="1" />
<polyline points="2481,1133.5 2481,1143.5 2476,1139.5 2481,1137.5" fill="none" stroke="#c0385a" stroke-width="1" />
<polyline points="1809,320 1798,320 1802,315 1804,320" fill="none" stroke="#c0385a" stroke-width="1" />
<polyline points="1809,431 1798,431 1802,426 1804,431" fill="none" stroke="#c0385a" stroke-width="1" />
<polyline points="1809,543 1798,543 1802,538 1804,543" fill="none" stroke="#c0385a" stroke-width="1" />
<polyline points="1809,654 1798,654 1802,649 1804,654" fill="none" stroke="#c0385a" stroke-width="1" />
<polyline points="1809,766 1798,766 1802,761 1804,766" fill="none" stroke="#c0385a" stroke-width="1" />
<polyline points="1809,877 1798,877 1802,872 1804,877" fill="none" stroke="#c0385a" stroke-width="1" />
<polyline points="1809,989 1798,989 1802,984 1804,989" fill="none" stroke="#c0385a" stroke-width="1" />
<polyline points="1809,1101 1798,1101 1802,1096 1804,1101" fill="none" stroke="#c0385a" stroke-width="1" />
<polyline points="2526.5,248 2537.5,248 2533.5,253 2531.5,248" fill="none" stroke="#c0385a" stroke-width="1" />
<polyline points="2526.5,360 2537.5,360 2533.5,365 2531.5,360" fill="none" stroke="#c0385a" stroke-width="1" />
<polyline points="2526.5,472 2537.5,472 2533.5,477 2531.5,472" fill="none" stroke="#c0385a" stroke-width="1" />
<polyline points="2526.5,584 2537.5,584 2533.5,589 2531.5,584" fill="none" stroke="#c0385a" stroke-width="1" />
<polyline points="2526.5,696 2537.5,696 2533.5,701 2531.5,696" fill="none" stroke="#c0385a" stroke-width="1" />
<polyline points="2526.5,808 2537.5,808 2533.5,813 2531.5,808" fill="none" stroke="#c0385a" stroke-width="1" />
<polyline points="2526.5,920 2537.5,920 2533.5,925 2531.5,920" fill="none" stroke="#c0385a" stroke-width="1" />
<polyline points="2526.5,1032 2537.5,1032 2533.5,1037 2531.5,1032" fill="none" stroke="#c0385a" stroke-width="1" />
<rect x="1790" y="197.5" width="756" height="954" fill="none" stroke="#7fd67f" stroke-width="2" />
<circle cx="1818" cy="197.5" r="7.4" fill="#f4fff4" stroke="#6cc86c" stroke-width="1.6" />
<circle cx="1922" cy="197.5" r="7.4" fill="#f4fff4" stroke="#6cc86c" stroke-width="1.6" />
<circle cx="2027" cy="197.5" r="7.4" fill="#f4fff4" stroke="#6cc86c" stroke-width="1.6" />
<circle cx="2131" cy="197.5" r="7.4" fill="#f4fff4" stroke="#6cc86c" stroke-width="1.6" />
<circle cx="2236" cy="197.5" r="7.4" fill="#f4fff4" stroke="#6cc86c" stroke-width="1.6" />
<circle cx="2340" cy="197.5" r="7.4" fill="#f4fff4" stroke="#6cc86c" stroke-width="1.6" />
<circle cx="2445" cy="197.5" r="7.4" fill="#f4fff4" stroke="#6cc86c" stroke-width="1.6" />
<circle cx="1891" cy="1151.5" r="7.4" fill="#f4fff4" stroke="#6cc86c" stroke-width="1.6" />
<circle cx="1995" cy="1151.5" r="7.4" fill="#f4fff4" stroke="#6cc86c" stroke-width="1.6" />
<circle cx="2099" cy="1151.5" r="7.4" fill="#f4fff4" stroke="#6cc86c" stroke-width="1.6" />
<circle cx="2204" cy="1151.5" r="7.4" fill="#f4fff4" stroke="#6cc86c" stroke-width="1.6" />
<circle cx="2308" cy="1151.5" r="7.4" fill="#f4fff4" stroke="#6cc86c" stroke-width="1.6" />
<circle cx="2413" cy="1151.5" r="7.4" fill="#f4fff4" stroke="#6cc86c" stroke-width="1.6" />
<circle cx="2517" cy="1151.5" r="7.4" fill="#f4fff4" stroke="#6cc86c" stroke-width="1.6" />
<circle cx="1790" cy="292" r="7.4" fill="#f4fff4" stroke="#6cc86c" stroke-width="1.6" />
<circle cx="1790" cy="397" r="7.4" fill="#f4fff4" stroke="#6cc86c" stroke-width="1.6" />
<circle cx="1790" cy="501" r="7.4" fill="#f4fff4" stroke="#6cc86c" stroke-width="1.6" />
<circle cx="1790" cy="606" r="7.4" fill="#f4fff4" stroke="#6cc86c" stroke-width="1.6" />
<circle cx="1790" cy="710" r="7.4" fill="#f4fff4" stroke="#6cc86c" stroke-width="1.6" />
<circle cx="1790" cy="815" r="7.4" fill="#f4fff4" stroke="#6cc86c" stroke-width="1.6" />
<circle cx="1790" cy="918" r="7.4" fill="#f4fff4" stroke="#6cc86c" stroke-width="1.6" />
<circle cx="1790" cy="1023" r="7.4" fill="#f4fff4" stroke="#6cc86c" stroke-width="1.6" />
<circle cx="1790" cy="1127" r="7.4" fill="#f4fff4" stroke="#6cc86c" stroke-width="1.6" />
<circle cx="2546" cy="220" r="7.4" fill="#f4fff4" stroke="#6cc86c" stroke-width="1.6" />
<circle cx="2546" cy="325" r="7.4" fill="#f4fff4" stroke="#6cc86c" stroke-width="1.6" />
<circle cx="2546" cy="429" r="7.4" fill="#f4fff4" stroke="#6cc86c" stroke-width="1.6" />
<circle cx="2546" cy="534" r="7.4" fill="#f4fff4" stroke="#6cc86c" stroke-width="1.6" />
<circle cx="2546" cy="638" r="7.4" fill="#f4fff4" stroke="#6cc86c" stroke-width="1.6" />
<circle cx="2546" cy="743" r="7.4" fill="#f4fff4" stroke="#6cc86c" stroke-width="1.6" />
<circle cx="2546" cy="847" r="7.4" fill="#f4fff4" stroke="#6cc86c" stroke-width="1.6" />
<circle cx="2546" cy="951" r="7.4" fill="#f4fff4" stroke="#6cc86c" stroke-width="1.6" />
<circle cx="2546" cy="1056" r="7.4" fill="#f4fff4" stroke="#6cc86c" stroke-width="1.6" />
<line x1="2217.5" y1="210" x2="2217.5" y2="1139" stroke="#111" stroke-width="1.1" />
<line x1="2213" y1="221" x2="2222" y2="212" stroke="#000" stroke-width="1.3" />
<line x1="2213" y1="579.5" x2="2222" y2="570.5" stroke="#000" stroke-width="1.3" />
<line x1="2213" y1="1137" x2="2222" y2="1128" stroke="#000" stroke-width="1.3" />
<text x="2215" y="396" font-size="15" font-family="Liberation Sans" text-anchor="middle" textLength="29" lengthAdjust="spacingAndGlyphs" transform="rotate(-90 2215 396)" fill="#1a1a1a" >3800</text>
<text x="2215" y="953.7" font-size="15" font-family="Liberation Sans" text-anchor="middle" textLength="29" lengthAdjust="spacingAndGlyphs" transform="rotate(-90 2215 953.7)" fill="#1a1a1a" >3800</text>
<line x1="2195" y1="575" x2="2500" y2="575" stroke="#111" stroke-width="1" />
<line x1="2195" y1="773" x2="2500" y2="773" stroke="#111" stroke-width="1" />
<line x1="2493.5" y1="568" x2="2493.5" y2="780" stroke="#222" stroke-width="1.1" />
<line x1="2489" y1="579.5" x2="2498" y2="570.5" stroke="#000" stroke-width="1.3" />
<line x1="2489" y1="777.5" x2="2498" y2="768.5" stroke="#000" stroke-width="1.3" />
<text x="2490.5" y="674" font-size="15.5" font-family="Liberation Sans" text-anchor="middle" textLength="31" lengthAdjust="spacingAndGlyphs" transform="rotate(-90 2490.5 674)" fill="#1a1a1a" >2090</text>
<line x1="1785" y1="250" x2="2105" y2="250" stroke="#222" stroke-width="1.1" />
<line x1="1787.5" y1="254.5" x2="1796.5" y2="245.5" stroke="#000" stroke-width="1.3" />
<line x1="2093.5" y1="254.5" x2="2102.5" y2="245.5" stroke="#000" stroke-width="1.3" />
<text x="1945" y="247.5" font-size="15.5" font-family="Liberation Sans" text-anchor="middle" textLength="31" lengthAdjust="spacingAndGlyphs" fill="#1a1a1a" >3230</text>
<line x1="1792" y1="250" x2="1792" y2="526" stroke="#222" stroke-width="1" />
<line x1="2098" y1="250" x2="2098" y2="426" stroke="#222" stroke-width="1" />
<line x1="2078.5" y1="330" x2="2078.5" y2="830" stroke="#222" stroke-width="1.1" />
<line x1="2074" y1="341.5" x2="2083" y2="332.5" stroke="#000" stroke-width="1.3" />
<line x1="2074" y1="827.5" x2="2083" y2="818.5" stroke="#000" stroke-width="1.3" />
<text x="2076.3" y="580" font-size="15.5" font-family="Liberation Sans" text-anchor="middle" textLength="31" lengthAdjust="spacingAndGlyphs" transform="rotate(-90 2076.3 580)" fill="#1a1a1a" >5150</text>
<line x1="2031" y1="337" x2="2083" y2="337" stroke="#222" stroke-width="1" />
<line x1="2031" y1="823" x2="2083" y2="823" stroke="#222" stroke-width="1" />
<polygon points="1934,337 2031,337 2031,426 2098,426 2098,526 1934,526" fill="url(#hatch)" stroke="#111" stroke-width="1.4" />
<rect x="1792" y="526" width="239" height="297" fill="url(#hatch)" stroke="#111" stroke-width="1.4" />
<rect x="1800" y="526" width="256" height="49" fill="#0000fe" stroke="none" stroke-width="1" />
<rect x="1827" y="575" width="32" height="198" fill="#0000fe" stroke="none" stroke-width="1" />
<rect x="1983" y="575" width="32" height="198" fill="#0000fe" stroke="none" stroke-width="1" />
<rect x="1859" y="575" width="63" height="198" fill="url(#rollv)" stroke="none" stroke-width="1" />
<rect x="1859" y="575" width="63" height="198" fill="url(#rolledge)" stroke="none" stroke-width="1" />
<rect x="1922" y="575" width="61" height="198" fill="#fff" stroke="none" stroke-width="1" />
<rect x="1800" y="773" width="215" height="50" fill="#0000fe" stroke="none" stroke-width="1" />
<line x1="1921.5" y1="140" x2="1921.5" y2="1190" stroke="#44bb44" stroke-width="1.2" stroke-dasharray="26,4,3,4" />
<pattern id="ggrid" width="5.5" height="5.5" patternUnits="userSpaceOnUse"><rect width="5.5" height="5.5" fill="#cdf6cd"/><path d="M0,0 H5.5 M0,0 V5.5" stroke="#62b862" stroke-width="0.9"/></pattern>
<rect x="2105" y="547" width="118" height="255" fill="url(#ggrid)" stroke="#55c055" stroke-width="1" />
<polygon points="2105,653 2232,651 2232,659 2105,657" fill="#8a8a90" stroke="#333" stroke-width="0.8" />
<polygon points="2105,692 2232,690 2232,698 2105,696" fill="#8a8a90" stroke="#333" stroke-width="0.8" />
<rect x="2134" y="576" width="61" height="198" fill="url(#rollv)" stroke="none" stroke-width="1" />
<rect x="2134" y="576" width="61" height="198" fill="url(#rolledge)" stroke="#333" stroke-width="1" />
<rect x="2255" y="626" width="53" height="13" fill="#000" stroke="none" stroke-width="1" />
<rect x="2255" y="711" width="53" height="12" fill="#000" stroke="none" stroke-width="1" />
<rect x="2365" y="626" width="54" height="13" fill="#000" stroke="none" stroke-width="1" />
<rect x="2365" y="711" width="54" height="12" fill="#000" stroke="none" stroke-width="1" />
<path d="M 2232,639 L 2438,639 Q 2455,639 2455,656 L 2455,694 Q 2455,711 2438,711 L 2232,711 Z" fill="#7a8597" stroke="#111" stroke-width="1.2" />
<rect x="2232" y="639" width="17" height="72" fill="#a8a8ac" stroke="#111" stroke-width="1" />
<line x1="2366" y1="639" x2="2366" y2="711" stroke="#111" stroke-width="1.2" />
<line x1="1802" y1="873.5" x2="2141" y2="873.5" stroke="#222" stroke-width="1.1" />
<line x1="1804.5" y1="878" x2="1813.5" y2="869" stroke="#000" stroke-width="1.3" />
<line x1="2129.5" y1="878" x2="2138.5" y2="869" stroke="#000" stroke-width="1.3" />
<text x="1971.5" y="870.5" font-size="15" font-family="Liberation Sans" text-anchor="middle" textLength="82" lengthAdjust="spacingAndGlyphs" fill="#1a1a1a" >Lo.з. = 3800</text>
<line x1="2127" y1="873.5" x2="2202" y2="873.5" stroke="#222" stroke-width="1.1" />
<line x1="2129.5" y1="878" x2="2138.5" y2="869" stroke="#000" stroke-width="1.3" />
<line x1="2190.5" y1="878" x2="2199.5" y2="869" stroke="#000" stroke-width="1.3" />
<text x="2164.5" y="870.5" font-size="11" font-family="Liberation Sans" text-anchor="middle" textLength="18" lengthAdjust="spacingAndGlyphs" fill="#1a1a1a" >660</text>
<line x1="2188" y1="873.5" x2="2533.5" y2="873.5" stroke="#222" stroke-width="1.1" />
<line x1="2190.5" y1="878" x2="2199.5" y2="869" stroke="#000" stroke-width="1.3" />
<line x1="2522" y1="878" x2="2531" y2="869" stroke="#000" stroke-width="1.3" />
<text x="2360.75" y="870.5" font-size="15" font-family="Liberation Sans" text-anchor="middle" textLength="82" lengthAdjust="spacingAndGlyphs" fill="#1a1a1a" >Lo.з. = 3800</text>
<line x1="2134" y1="774" x2="2134" y2="878" stroke="#222" stroke-width="1" />
<line x1="2195" y1="774" x2="2195" y2="878" stroke="#222" stroke-width="1" />
<text x="1987" y="911" font-size="12.5" font-family="Liberation Sans" textLength="119" lengthAdjust="spacingAndGlyphs" fill="#1a1a1a" >Зона складирования</text>
<text x="1987" y="926.5" font-size="12.5" font-family="Liberation Sans" fill="#1a1a1a" ></text>
<line x1="1985" y1="914.5" x2="2107" y2="914.5" stroke="#222" stroke-width="1" />
<line x1="2107" y1="914.5" x2="2145" y2="790" stroke="#111" stroke-width="1" />
<rect x="2068" y="493" width="78" height="34" fill="#fff" stroke="none" stroke-width="1" />
<text x="2108" y="507" font-size="12.5" font-family="Liberation Sans" text-anchor="middle" textLength="34.5" lengthAdjust="spacingAndGlyphs" fill="#1a1a1a" >Валок</text>
<line x1="2073" y1="509" x2="2142" y2="509" stroke="#111" stroke-width="1" />
<text x="2073" y="523" font-size="12.5" font-family="Liberation Sans" textLength="69" lengthAdjust="spacingAndGlyphs" fill="#1a1a1a" >Д = 660 мм.</text>
<line x1="2142" y1="509" x2="2195" y2="575" stroke="#111" stroke-width="1" />
<text x="2315" y="521" font-size="12.5" font-family="Liberation Sans" textLength="56" lengthAdjust="spacingAndGlyphs" fill="#1a1a1a" >Вилочный</text>
<text x="2315" y="536.5" font-size="12.5" font-family="Liberation Sans" textLength="88" lengthAdjust="spacingAndGlyphs" fill="#1a1a1a" >погрузчик 7 т.</text>
<line x1="2315" y1="524.5" x2="2403" y2="524.5" stroke="#222" stroke-width="1" />
<line x1="2315" y1="524.5" x2="2276" y2="645" stroke="#111" stroke-width="1" />
<text x="2282" y="785" font-size="12.5" font-family="Liberation Sans" textLength="176" lengthAdjust="spacingAndGlyphs" fill="#1a1a1a" >Строп текстильный петлевой</text>
<text x="2282" y="800.5" font-size="12.5" font-family="Liberation Sans" textLength="78" lengthAdjust="spacingAndGlyphs" fill="#1a1a1a" >СТП 4,0/2000</text>
<line x1="2282" y1="788.5" x2="2458" y2="788.5" stroke="#222" stroke-width="1" />
<line x1="2282" y1="788" x2="2195" y2="660" stroke="#111" stroke-width="1" />
<line x1="2282" y1="788" x2="2195" y2="700" stroke="#111" stroke-width="1" />
<line x1="2282" y1="788" x2="2195" y2="713" stroke="#111" stroke-width="1" />
<line x1="2282" y1="788" x2="2195" y2="735" stroke="#111" stroke-width="1" />
<text x="1847" y="333" font-size="12.5" font-family="Liberation Sans" textLength="65" lengthAdjust="spacingAndGlyphs" fill="#1a1a1a" >Фундамент</text>
<text x="1847" y="348.5" font-size="12.5" font-family="Liberation Sans" fill="#1a1a1a" ></text>
<line x1="1847" y1="336.5" x2="1912" y2="336.5" stroke="#222" stroke-width="1" />
<line x1="1912" y1="336" x2="1964" y2="449" stroke="#111" stroke-width="1" />
<line x1="1723" y1="917" x2="1772" y2="917" stroke="#000" stroke-width="4" />
<line x1="1743" y1="919" x2="1743" y2="960" stroke="#000" stroke-width="1.3" />
<polygon points="1739.5,931 1743,919 1746.5,931" fill="#000" stroke="#000" stroke-width="1" />
<text x="1732" y="962" font-size="24" font-family="Liberation Sans" text-anchor="middle" fill="#1a1a1a" >1</text>
<line x1="2560" y1="917" x2="2609" y2="917" stroke="#000" stroke-width="4" />
<line x1="2588" y1="919" x2="2588" y2="960" stroke="#000" stroke-width="1.3" />
<polygon points="2584.5,931 2588,919 2591.5,931" fill="#000" stroke="#000" stroke-width="1" />
<text x="2601" y="962" font-size="24" font-family="Liberation Sans" text-anchor="middle" fill="#1a1a1a" >1</text>
<text x="2693.2" y="144" font-size="15.8" font-family="Liberation Sans" textLength="419.8" lengthAdjust="spacingAndGlyphs" fill="#1a1a1a" >Передвижение погрузчика по территории предприятия</text>
<text x="2693.2" y="165.93" font-size="15.8" font-family="Liberation Sans" textLength="412.3" lengthAdjust="spacingAndGlyphs" fill="#1a1a1a" >должно производиться согласно установленной схеме</text>
<text x="2693.2" y="187.86" font-size="15.8" font-family="Liberation Sans" textLength="432.3" lengthAdjust="spacingAndGlyphs" fill="#1a1a1a" >маршрута, в любое время суток должны быть включены</text>
<text x="2693.2" y="209.79" font-size="15.8" font-family="Liberation Sans" textLength="438.3" lengthAdjust="spacingAndGlyphs" fill="#1a1a1a" >габаритные огни на погрузчике. При движении по рампе</text>
<text x="2693.2" y="231.72" font-size="15.8" font-family="Liberation Sans" textLength="448.3" lengthAdjust="spacingAndGlyphs" fill="#1a1a1a" >склада водитель погрузчика должен не допускать, чтобы</text>
<text x="2693.2" y="253.65" font-size="15.8" font-family="Liberation Sans" textLength="433.3" lengthAdjust="spacingAndGlyphs" fill="#1a1a1a" >погрузчик заезжал за ограничительную линию рампы. В</text>
<text x="2693.2" y="275.58" font-size="15.8" font-family="Liberation Sans" textLength="397.3" lengthAdjust="spacingAndGlyphs" fill="#1a1a1a" >зависимости от состояния дорожного покрытия и</text>
<text x="2693.2" y="297.51" font-size="15.8" font-family="Liberation Sans" textLength="398.8" lengthAdjust="spacingAndGlyphs" fill="#1a1a1a" >характера выполняемой работы скорость движения</text>
<text x="2693.2" y="319.44" font-size="15.8" font-family="Liberation Sans" textLength="437.3" lengthAdjust="spacingAndGlyphs" fill="#1a1a1a" >погрузчика по территории предприятия должна быть не</text>
<text x="2693.2" y="341.37" font-size="15.8" font-family="Liberation Sans" textLength="392.3" lengthAdjust="spacingAndGlyphs" fill="#1a1a1a" >более 5 км/час. В местах пересечения пешеходных</text>
<text x="2693.2" y="363.3" font-size="15.8" font-family="Liberation Sans" textLength="381.8" lengthAdjust="spacingAndGlyphs" fill="#1a1a1a" >дорожек, у выходов и входов в производственные</text>
<text x="2693.2" y="385.23" font-size="15.8" font-family="Liberation Sans" textLength="460.8" lengthAdjust="spacingAndGlyphs" fill="#1a1a1a" >помещения, при выезде из-за углов зданий, при движении</text>
<text x="2693.2" y="407.16" font-size="15.8" font-family="Liberation Sans" textLength="454.3" lengthAdjust="spacingAndGlyphs" fill="#1a1a1a" >мимо ворот, дверей, штабелей, при переезде через пути и</text>
<text x="2693.2" y="429.09" font-size="15.8" font-family="Liberation Sans" textLength="373.3" lengthAdjust="spacingAndGlyphs" fill="#1a1a1a" >по рампе склада - не более 3 км/час. Водитель</text>
<text x="2693.2" y="451.02" font-size="15.8" font-family="Liberation Sans" textLength="398.8" lengthAdjust="spacingAndGlyphs" fill="#1a1a1a" >погрузчика обязан всегда смотреть в направлении</text>
<text x="2693.2" y="472.95" font-size="15.8" font-family="Liberation Sans" textLength="455.8" lengthAdjust="spacingAndGlyphs" fill="#1a1a1a" >движения погрузчика и соблюдать осторожность в местах</text>
<text x="2693.2" y="494.88" font-size="15.8" font-family="Liberation Sans" textLength="422.3" lengthAdjust="spacingAndGlyphs" fill="#1a1a1a" >возможного появления людей, транспортных средств и</text>
<text x="2693.2" y="516.81" font-size="15.8" font-family="Liberation Sans" textLength="392.3" lengthAdjust="spacingAndGlyphs" fill="#1a1a1a" >вблизи подъездных путей. Если груз ограничивает</text>
<text x="2693.2" y="538.74" font-size="15.8" font-family="Liberation Sans" textLength="452.3" lengthAdjust="spacingAndGlyphs" fill="#1a1a1a" >видимость, то водитель погрузчика должен осуществлять</text>
<text x="2693.2" y="560.67" font-size="15.8" font-family="Liberation Sans" textLength="385.8" lengthAdjust="spacingAndGlyphs" fill="#1a1a1a" >движение задним ходом. Перед началом движения,</text>
<text x="2693.2" y="582.6" font-size="15.8" font-family="Liberation Sans" textLength="440.8" lengthAdjust="spacingAndGlyphs" fill="#1a1a1a" >подъемом и опусканием груза, а также во всех случаях,</text>
<text x="2693.2" y="604.53" font-size="15.8" font-family="Liberation Sans" textLength="454.3" lengthAdjust="spacingAndGlyphs" fill="#1a1a1a" >когда возникает опасность травмирования или наезда на</text>
<text x="2693.2" y="626.46" font-size="15.8" font-family="Liberation Sans" textLength="398.8" lengthAdjust="spacingAndGlyphs" fill="#1a1a1a" >работников, водитель погрузчика обязан подавать</text>
<text x="2693.2" y="648.39" font-size="15.8" font-family="Liberation Sans" textLength="412.3" lengthAdjust="spacingAndGlyphs" fill="#1a1a1a" >предупредительный звуковой сигнал. При встрече с</text>
<text x="2693.2" y="670.32" font-size="15.8" font-family="Liberation Sans" textLength="412.3" lengthAdjust="spacingAndGlyphs" fill="#1a1a1a" >работниками по пути движения водитель погрузчика</text>
<text x="2693.2" y="692.25" font-size="15.8" font-family="Liberation Sans" textLength="379.8" lengthAdjust="spacingAndGlyphs" fill="#1a1a1a" >должен предупреждать их сигналом, находясь на</text>
<text x="2693.2" y="714.18" font-size="15.8" font-family="Liberation Sans" textLength="420.8" lengthAdjust="spacingAndGlyphs" fill="#1a1a1a" >расстоянии не менее 5 м; если работники не сходят с</text>
<text x="2693.2" y="736.11" font-size="15.8" font-family="Liberation Sans" textLength="360.8" lengthAdjust="spacingAndGlyphs" fill="#1a1a1a" >дороги - остановить погрузчик. Во избежание</text>
<text x="2693.2" y="758.04" font-size="15.8" font-family="Liberation Sans" textLength="440.8" lengthAdjust="spacingAndGlyphs" fill="#1a1a1a" >столкновения при внезапной остановке впереди идущего</text>
<text x="2693.2" y="779.97" font-size="15.8" font-family="Liberation Sans" textLength="432.3" lengthAdjust="spacingAndGlyphs" fill="#1a1a1a" >автомобиля, водитель погрузчика при движении должен</text>
<text x="2693.2" y="801.9" font-size="15.8" font-family="Liberation Sans" textLength="425.8" lengthAdjust="spacingAndGlyphs" fill="#1a1a1a" >соблюдать дистанцию. Расстояние до впереди идущего</text>
<text x="2693.2" y="823.83" font-size="15.8" font-family="Liberation Sans" textLength="438.3" lengthAdjust="spacingAndGlyphs" fill="#1a1a1a" >автомобиля должно быть на горизонтальных площадках</text>
<text x="2693.2" y="845.76" font-size="15.8" font-family="Liberation Sans" textLength="448.3" lengthAdjust="spacingAndGlyphs" fill="#1a1a1a" >не менее 10 м, на уклонах - не менее 20 м. При движении</text>
<text x="2693.2" y="867.69" font-size="15.8" font-family="Liberation Sans" textLength="414.8" lengthAdjust="spacingAndGlyphs" fill="#1a1a1a" >погрузчика по территории железнодорожных станций</text>
<text x="2693.2" y="889.62" font-size="15.8" font-family="Liberation Sans" textLength="451.8" lengthAdjust="spacingAndGlyphs" fill="#1a1a1a" >необходимо держаться правой стороны. Расстояние между</text>
<text x="2693.2" y="911.55" font-size="15.8" font-family="Liberation Sans" textLength="430.8" lengthAdjust="spacingAndGlyphs" fill="#1a1a1a" >погрузчиком и встречным автомобилем должно быть не</text>
<text x="2693.2" y="933.48" font-size="15.8" font-family="Liberation Sans" textLength="444.8" lengthAdjust="spacingAndGlyphs" fill="#1a1a1a" >менее 2 м. Водителю погрузчика (запрещается работать</text>
<text x="2693.2" y="955.41" font-size="15.8" font-family="Liberation Sans" textLength="404.8" lengthAdjust="spacingAndGlyphs" fill="#1a1a1a" >на электрифицированных участках под контактным</text>
<text x="2693.2" y="977.34" font-size="15.8" font-family="Liberation Sans" textLength="369.8" lengthAdjust="spacingAndGlyphs" fill="#1a1a1a" >проводом без снятия напряжения. При движении</text>
<text x="2693.2" y="999.27" font-size="15.8" font-family="Liberation Sans" textLength="438.3" lengthAdjust="spacingAndGlyphs" fill="#1a1a1a" >погрузчика без груза, грузоподъемный механизм должен</text>
<text x="2693.2" y="1021.2" font-size="15.8" font-family="Liberation Sans" textLength="434.8" lengthAdjust="spacingAndGlyphs" fill="#1a1a1a" >быть установлен в транспортное положение (поднят на</text>
<text x="2693.2" y="1043.13" font-size="15.8" font-family="Liberation Sans" textLength="407.3" lengthAdjust="spacingAndGlyphs" fill="#1a1a1a" >0,2 - 0,3 м от земли), а рама погрузчика полностью</text>
<text x="2693.2" y="1065.06" font-size="15.8" font-family="Liberation Sans" textLength="378.3" lengthAdjust="spacingAndGlyphs" fill="#1a1a1a" >отклонена назад. Для обеспечения устойчивости</text>
<text x="2693.2" y="1086.99" font-size="15.8" font-family="Liberation Sans" textLength="384.3" lengthAdjust="spacingAndGlyphs" fill="#1a1a1a" >погрузчика при движении перемещаемый груз или</text>
<text x="2693.2" y="1108.92" font-size="15.8" font-family="Liberation Sans" textLength="410.8" lengthAdjust="spacingAndGlyphs" fill="#1a1a1a" >контейнер необходимо поднять на высоту 500 мм от</text>
<text x="2693.2" y="1130.85" font-size="15.8" font-family="Liberation Sans" textLength="390.8" lengthAdjust="spacingAndGlyphs" fill="#1a1a1a" >опорной поверхности, после чего переместить его</text>
<text x="2693.2" y="1152.78" font-size="15.8" font-family="Liberation Sans" textLength="446.8" lengthAdjust="spacingAndGlyphs" fill="#1a1a1a" >вплотную к раме погрузчика, а раму отклонить назад. В</text>
<text x="2693.2" y="1174.71" font-size="15.8" font-family="Liberation Sans" textLength="453.3" lengthAdjust="spacingAndGlyphs" fill="#1a1a1a" >случае потери погрузчиком устойчивого положения (когда</text>
<text x="2693.2" y="1196.64" font-size="15.8" font-family="Liberation Sans" textLength="441.8" lengthAdjust="spacingAndGlyphs" fill="#1a1a1a" >задние колеса начнут отрываться от грунта), водитель</text>
<text x="2693.2" y="1218.57" font-size="15.8" font-family="Liberation Sans" textLength="439.8" lengthAdjust="spacingAndGlyphs" fill="#1a1a1a" >погрузчика должен немедленно опустить груз. Водителю</text>
<text x="2693.2" y="1240.5" font-size="15.8" font-family="Liberation Sans" textLength="425.8" lengthAdjust="spacingAndGlyphs" fill="#1a1a1a" >погрузчика, при движении через ворота, двери склада,</text>
<text x="2693.2" y="1262.43" font-size="15.8" font-family="Liberation Sans" textLength="406.8" lengthAdjust="spacingAndGlyphs" fill="#1a1a1a" >между штабелями грузов следует соблюдать особую</text>
<text x="2693.2" y="1284.36" font-size="15.8" font-family="Liberation Sans" textLength="441.8" lengthAdjust="spacingAndGlyphs" fill="#1a1a1a" >осторожность. Перемещение грузов, затрудняющих обзор</text>
<text x="2693.2" y="1306.29" font-size="15.8" font-family="Liberation Sans" textLength="371.8" lengthAdjust="spacingAndGlyphs" fill="#1a1a1a" >дороги, должно производиться с участием лица,</text>
<text x="2693.2" y="1328.22" font-size="15.8" font-family="Liberation Sans" textLength="413.3" lengthAdjust="spacingAndGlyphs" fill="#1a1a1a" >сопровождающего погрузчик, подающего необходимые</text>
<text x="2693.2" y="1350.15" font-size="15.8" font-family="Liberation Sans" textLength="398.3" lengthAdjust="spacingAndGlyphs" fill="#1a1a1a" >сигналы водителю погрузчика и предупреждающего</text>
<text x="2693.2" y="1372.08" font-size="15.8" font-family="Liberation Sans" textLength="429.8" lengthAdjust="spacingAndGlyphs" fill="#1a1a1a" >других работников об опасности. Водителю погрузчика</text>
<text x="2693.2" y="1394.01" font-size="15.8" font-family="Liberation Sans" textLength="366.8" lengthAdjust="spacingAndGlyphs" fill="#1a1a1a" >перед погрузкой и выгрузкой груза необходимо</text>
<text x="2693.2" y="1415.94" font-size="15.8" font-family="Liberation Sans" textLength="219.3" lengthAdjust="spacingAndGlyphs" fill="#1a1a1a" >тщательно проверить тару.</text>
<rect x="2649.5" y="1465" width="487.5" height="265" fill="none" stroke="#222" stroke-width="1.3" />
<text x="2889.5" y="1485" font-size="17.5" font-family="Liberation Sans" text-anchor="middle" textLength="184" lengthAdjust="spacingAndGlyphs" fill="#1a1a1a" >Условные обозначения</text>
<rect x="2654" y="1495" width="476" height="229" fill="none" stroke="#000" stroke-width="2" />
<line x1="2654" y1="1533.5" x2="3130" y2="1533.5" stroke="#000" stroke-width="1.6" />
<line x1="2654" y1="1571.5" x2="3130" y2="1571.5" stroke="#000" stroke-width="1.6" />
<line x1="2654" y1="1610" x2="3130" y2="1610" stroke="#000" stroke-width="1.6" />
<line x1="2654" y1="1648.5" x2="3130" y2="1648.5" stroke="#000" stroke-width="1.6" />
<line x1="2654" y1="1687.5" x2="3130" y2="1687.5" stroke="#000" stroke-width="1.6" />
<line x1="2754" y1="1495" x2="2754" y2="1724" stroke="#000" stroke-width="1.6" />
<text x="2761.5" y="1520" font-size="15.5" font-family="Liberation Sans" textLength="330" lengthAdjust="spacingAndGlyphs" fill="#1a1a1a" >- Ганица установки сигнального ограждения</text>
<text x="2761.5" y="1558" font-size="15.5" font-family="Liberation Sans" textLength="110.5" lengthAdjust="spacingAndGlyphs" fill="#1a1a1a" >- Опасная зона</text>
<text x="2761.5" y="1597" font-size="15.5" font-family="Liberation Sans" textLength="256.5" lengthAdjust="spacingAndGlyphs" fill="#1a1a1a" >- Знак Р03 по ГОСТ Р 12.4.026-2001</text>
<text x="2761.5" y="1635" font-size="15.5" font-family="Liberation Sans" textLength="258.5" lengthAdjust="spacingAndGlyphs" fill="#1a1a1a" >- Знак М02 по ГОСТ Р 12.4.026-2001</text>
<text x="2761.5" y="1674" font-size="15.5" font-family="Liberation Sans" textLength="361.5" lengthAdjust="spacingAndGlyphs" fill="#1a1a1a" >- Сигнальное ограждение по ГОСТ Р 12.4.026-2001</text>
<text x="2761.5" y="1712.5" font-size="15.5" font-family="Liberation Sans" textLength="125.5" lengthAdjust="spacingAndGlyphs" fill="#1a1a1a" >- Зона разгрузки</text>
<line x1="2666.5" y1="1514" x2="2741.5" y2="1514" stroke="#7fd67f" stroke-width="2" />
<line x1="2666.5" y1="1552" x2="2741.5" y2="1552" stroke="#c0385a" stroke-width="1.3" />
<g transform="translate(2704,1591) scale(0.5333333333333333)">
<circle r="20.3" fill="#fff" stroke="#e0402f" stroke-width="4.4"/>
<g stroke="#111" stroke-linecap="round" fill="none"><path d="M -3,-9 L 3,-1" stroke-width="4"/><path d="M -1,-9 L 4,-8 L 7,-2" stroke-width="2.2"/><path d="M -3,-6 L -9,-2" stroke-width="2.2"/><path d="M 0,-1 C -3,4 -5,9 -6,14" stroke-width="2.6"/><path d="M 2,-1 L 6,5 L 8,13" stroke-width="2.6"/></g>
<circle cx="-4.5" cy="-13.5" r="2.8" fill="#111"/>
<line x1="-14" y1="-14" x2="14" y2="14" stroke="#e0402f" stroke-width="4"/>
</g>
<g transform="translate(2704,1630) scale(0.5217391304347826)">
<circle r="23" fill="#1b5fa9"/>
<path d="M -11,-3 C -12,-12 -7,-17 0,-17 C 7,-17 12,-12 11,-3 L 13,-2 L 13,0 L -13,0 L -13,-2 Z" fill="#fff"/>
<path d="M -11,0 C -11,8 -6,15 0,16 C 6,15 11,8 11,0" fill="none" stroke="#e8f4ff" stroke-width="1.8"/>
</g>
<pattern id="lbar" width="9" height="6" patternUnits="userSpaceOnUse" patternTransform="skewX(-40)"><rect width="9" height="6" fill="#1e2a12"/><rect width="4" height="6" fill="#b8a020"/></pattern>
<rect x="2658" y="1665" width="91" height="6" fill="url(#lbar)" stroke="#2f9f2f" stroke-width="1.8" />
<pattern id="xgrid" width="13.5" height="13.5" patternUnits="userSpaceOnUse" x="2677.5" y="1692.5"><rect width="13.5" height="13.5" fill="#e6fbe6"/><path d="M0,0 L13.5,13.5 M13.5,0 L0,13.5" stroke="#3cc03c" stroke-width="1.1"/></pattern>
<rect x="2677.5" y="1692.5" width="54" height="26.5" fill="url(#xgrid)" stroke="#3cc03c" stroke-width="1.6" />
<rect x="2477" y="1816" width="677" height="197" fill="none" stroke="#000" stroke-width="2.2" />
<line x1="2477" y1="1844" x2="3154" y2="1844" stroke="#000" stroke-width="2" />
<line x1="2477" y1="1872.5" x2="3154" y2="1872.5" stroke="#000" stroke-width="2" />
<line x1="2477" y1="1900" x2="3154" y2="1900" stroke="#000" stroke-width="2" />
<line x1="2477" y1="1928.5" x2="3154" y2="1928.5" stroke="#000" stroke-width="2" />
<line x1="2477" y1="1956.5" x2="3154" y2="1956.5" stroke="#000" stroke-width="2" />
<line x1="2477" y1="1984.5" x2="3154" y2="1984.5" stroke="#000" stroke-width="2" />
<line x1="2945" y1="1844" x2="2945" y2="2013" stroke="#000" stroke-width="2" />
<text x="2816" y="1837.5" font-size="18.5" font-family="Liberation Sans" text-anchor="middle" textLength="403.5" lengthAdjust="spacingAndGlyphs" fill="#1a1a1a" >Расчет опасной зоны от перемещения валка</text>
<text x="2481.5" y="1866" font-size="18.5" font-family="Liberation Sans" textLength="260" lengthAdjust="spacingAndGlyphs" fill="#1a1a1a" >Высота подъема не более м,</text>
<text x="3050.5" y="1866" font-size="18.5" font-family="Liberation Sans" text-anchor="middle" fill="#1a1a1a" >3</text>
<text x="2481.5" y="1894" font-size="18.5" font-family="Liberation Sans" textLength="301.5" lengthAdjust="spacingAndGlyphs" fill="#1a1a1a" >Максимальный габарит груза а, м</text>
<text x="3050.5" y="1894" font-size="18.5" font-family="Liberation Sans" text-anchor="middle" fill="#1a1a1a" >2,31</text>
<text x="2481.5" y="1922" font-size="18.5" font-family="Liberation Sans" textLength="297.5" lengthAdjust="spacingAndGlyphs" fill="#1a1a1a" >Минимальный габарит груза b, м</text>
<text x="3050.5" y="1922" font-size="18.5" font-family="Liberation Sans" text-anchor="middle" fill="#1a1a1a" >0,66</text>
<text x="2481.5" y="1950.5" font-size="18.5" font-family="Liberation Sans" textLength="291" lengthAdjust="spacingAndGlyphs" fill="#1a1a1a" >По графику величина отлета l, м</text>
<text x="3050.5" y="1950.5" font-size="18.5" font-family="Liberation Sans" text-anchor="middle" fill="#1a1a1a" >2,31</text>
<text x="2481.5" y="1978.5" font-size="18.5" font-family="Liberation Sans" textLength="178.5" lengthAdjust="spacingAndGlyphs" fill="#1a1a1a" >Рачет опасной зоны</text>
<text x="2481.5" y="2006.5" font-size="18.5" font-family="Liberation Sans" textLength="321.5" lengthAdjust="spacingAndGlyphs" fill="#1a1a1a" >Величина опасной зоны составит, м</text>
<text x="3050.5" y="2006.5" font-size="18.5" font-family="Liberation Sans" text-anchor="middle" fill="#1a1a1a" >3,795</text>
<text x="2969" y="1978.5" font-size="18.5" font-family="Liberation Sans" fill="#1a1a1a" textLength="163.5" lengthAdjust="spacingAndGlyphs">a+b/2+l <tspan font-size="14.5">(приказ 533)</tspan></text>
<rect x="2460.7" y="2018.6" width="698.9" height="207.4" fill="none" stroke="#000" stroke-width="2" />
<line x1="2460.7" y1="2037.6" x2="2706" y2="2037.6" stroke="#000" stroke-width="1.2" />
<line x1="2460.7" y1="2056.4" x2="2706" y2="2056.4" stroke="#000" stroke-width="1.2" />
<line x1="2460.7" y1="2075.2" x2="2706" y2="2075.2" stroke="#000" stroke-width="1.2" />
<line x1="2460.7" y1="2093.8" x2="2706" y2="2093.8" stroke="#000" stroke-width="2" />
<line x1="2460.7" y1="2112.6" x2="2706" y2="2112.6" stroke="#000" stroke-width="2" />
<line x1="2460.7" y1="2131.6" x2="2706" y2="2131.6" stroke="#000" stroke-width="1.2" />
<line x1="2460.7" y1="2150.4" x2="2706" y2="2150.4" stroke="#000" stroke-width="1.2" />
<line x1="2460.7" y1="2169.7" x2="2706" y2="2169.7" stroke="#000" stroke-width="2" />
<line x1="2460.7" y1="2188.5" x2="2706" y2="2188.5" stroke="#000" stroke-width="1.2" />
<line x1="2460.7" y1="2207" x2="2706" y2="2207" stroke="#000" stroke-width="1.2" />
<line x1="2498" y1="2018.6" x2="2498" y2="2112.6" stroke="#000" stroke-width="1.6" />
<line x1="2574" y1="2018.6" x2="2574" y2="2112.6" stroke="#000" stroke-width="1.6" />
<line x1="2536" y1="2018.6" x2="2536" y2="2226" stroke="#000" stroke-width="1.6" />
<line x1="2611.7" y1="2018.6" x2="2611.7" y2="2226" stroke="#000" stroke-width="1.6" />
<line x1="2668.4" y1="2018.6" x2="2668.4" y2="2226" stroke="#000" stroke-width="1.6" />
<line x1="2706" y1="2018.6" x2="2706" y2="2226" stroke="#000" stroke-width="2" />
<line x1="2706" y1="2056.1" x2="3159.6" y2="2056.1" stroke="#000" stroke-width="2" />
<line x1="2706" y1="2112.7" x2="3159.6" y2="2112.7" stroke="#000" stroke-width="2" />
<line x1="2706" y1="2169.5" x2="3159.6" y2="2169.5" stroke="#000" stroke-width="2" />
<line x1="2971" y1="2112.7" x2="2971" y2="2226" stroke="#000" stroke-width="2" />
<line x1="3027.2" y1="2112.7" x2="3027.2" y2="2169.5" stroke="#000" stroke-width="1.6" />
<line x1="3083.7" y1="2112.7" x2="3083.7" y2="2169.5" stroke="#000" stroke-width="1.6" />
<line x1="2971" y1="2131.5" x2="3159.6" y2="2131.5" stroke="#000" stroke-width="1.6" />
<text x="2462" y="2108.5" font-size="12.5" font-family="Liberation Sans" textLength="23.6" lengthAdjust="spacingAndGlyphs" fill="#1a1a1a" >Изм.</text>
<text x="2498.5" y="2108.5" font-size="12.5" font-family="Liberation Sans" textLength="36.9" lengthAdjust="spacingAndGlyphs" fill="#1a1a1a" >Кол.уч</text>
<text x="2540" y="2108.5" font-size="12.5" font-family="Liberation Sans" textLength="27" lengthAdjust="spacingAndGlyphs" fill="#1a1a1a" >Лист</text>
<text x="2576" y="2108.5" font-size="12.5" font-family="Liberation Sans" textLength="34" lengthAdjust="spacingAndGlyphs" fill="#1a1a1a" >№док.</text>
<text x="2614" y="2108.5" font-size="12.5" font-family="Liberation Sans" textLength="45" lengthAdjust="spacingAndGlyphs" fill="#1a1a1a" >Подпись</text>
<text x="2670.6" y="2108.5" font-size="12.5" font-family="Liberation Sans" textLength="30.1" lengthAdjust="spacingAndGlyphs" fill="#1a1a1a" >Дата</text>
<text x="2464" y="2183" font-size="13" font-family="Liberation Sans" textLength="45" lengthAdjust="spacingAndGlyphs" fill="#1a1a1a" >Разраб.</text>
<text x="2465" y="2202.5" font-size="13" font-family="Liberation Sans" textLength="20.6" lengthAdjust="spacingAndGlyphs" fill="#1a1a1a" >ГИП</text>
<text x="2464" y="2221.8" font-size="13" font-family="Liberation Sans" textLength="47.6" lengthAdjust="spacingAndGlyphs" fill="#1a1a1a" >Н.контр.</text>
<text x="2887.3" y="2043" font-size="23" font-family="Liberation Sans" textLength="102.9" lengthAdjust="spacingAndGlyphs" fill="#1a1a1a" >05-ПР-ТК</text>
<text x="2840" y="2138" font-size="10.5" font-family="Liberation Sans" text-anchor="middle" textLength="242.3" lengthAdjust="spacingAndGlyphs" fill="#1a1a1a" >Технологическая карта на замену валков вальцев</text>
<text x="2840" y="2153" font-size="10.5" font-family="Liberation Sans" text-anchor="middle" textLength="61" lengthAdjust="spacingAndGlyphs" fill="#1a1a1a" >501.7.18.000СБ</text>
<text x="2838.5" y="2194" font-size="13.5" font-family="Liberation Sans" text-anchor="middle" textLength="223.2" lengthAdjust="spacingAndGlyphs" fill="#1a1a1a" >Технологическая схема производства</text>
<text x="2838.5" y="2209.8" font-size="13.5" font-family="Liberation Sans" text-anchor="middle" textLength="35" lengthAdjust="spacingAndGlyphs" fill="#1a1a1a" >работ</text>
<text x="2975" y="2126.7" font-size="12.5" font-family="Liberation Sans" textLength="42" lengthAdjust="spacingAndGlyphs" fill="#1a1a1a" >Стадия</text>
<text x="3033.7" y="2126.7" font-size="12.5" font-family="Liberation Sans" textLength="26.8" lengthAdjust="spacingAndGlyphs" fill="#1a1a1a" >Лист</text>
<text x="3088" y="2126.7" font-size="12.5" font-family="Liberation Sans" textLength="40" lengthAdjust="spacingAndGlyphs" fill="#1a1a1a" >Листов</text>
<text x="2999" y="2155" font-size="13" font-family="Liberation Sans" text-anchor="middle" fill="#1a1a1a" >Р</text>
<text x="3054.7" y="2155" font-size="13" font-family="Liberation Sans" text-anchor="middle" fill="#1a1a1a" >1</text>
<text x="3121.4" y="2155" font-size="13" font-family="Liberation Sans" text-anchor="middle" fill="#1a1a1a" >1</text>
<rect x="2984.8" y="2178.6" width="161.7" height="38.4" fill="#fcfffc" stroke="#1c1a5c" stroke-width="3.6" />
<text x="3065" y="2211.6" font-size="36" font-family="Liberation Sans" text-anchor="middle" textLength="144" lengthAdjust="spacingAndGlyphs" font-weight="bold" fill="#3a9a48" >ППР48</text>
<text x="3086.6" y="2238.6" font-size="13" font-family="Liberation Sans" textLength="64.4" lengthAdjust="spacingAndGlyphs" fill="#1a1a1a" >Формат А1</text>
<pattern id="bluetex" width="3" height="3" patternUnits="userSpaceOnUse"><rect width="3" height="3" fill="#5858e6"/><rect x="0" y="0" width="1.2" height="1.2" fill="#8484f4"/></pattern>
<pattern id="redtex" width="3" height="3" patternUnits="userSpaceOnUse"><rect width="3" height="3" fill="#f04040"/><rect x="0" y="0" width="1.2" height="1.2" fill="#f87a7a"/></pattern>
<pattern id="grntex" width="3" height="3" patternUnits="userSpaceOnUse"><rect width="3" height="3" fill="#e4f4e4"/><rect x="0" y="0" width="1.3" height="3" fill="#a8d8a8"/></pattern>
<pattern id="hgrn" width="4" height="3" patternUnits="userSpaceOnUse"><rect width="4" height="3" fill="#eef8ee"/><rect x="0" y="0" width="4" height="0.9" fill="#9cc89c"/></pattern>
<pattern id="barr" width="59" height="20" patternUnits="userSpaceOnUse" patternTransform="skewX(-48)"><rect width="59" height="20" fill="#0a0a0a"/><rect x="0" width="30" height="20" fill="#f00000"/></pattern>
<pattern id="ghatch" width="5" height="5" patternUnits="userSpaceOnUse" patternTransform="rotate(45)"><rect width="5" height="5" fill="#fff"/><rect width="1.4" height="5" fill="#333"/></pattern>
<radialGradient id="ball" cx="0.4" cy="0.35" r="0.7"><stop offset="0" stop-color="#ffffff"/><stop offset="0.5" stop-color="#b8b8b8"/><stop offset="1" stop-color="#4a4a4a"/></radialGradient>
<line x1="752" y1="1611.5" x2="1636" y2="1611.5" stroke="#111" stroke-width="1.3" />
<line x1="752" y1="1612.5" x2="759" y2="1620.5" stroke="#111" stroke-width="1.1" />
<line x1="759" y1="1612.5" x2="766" y2="1620.5" stroke="#111" stroke-width="1.1" />
<line x1="766" y1="1612.5" x2="773" y2="1620.5" stroke="#111" stroke-width="1.1" />
<line x1="800" y1="1612.5" x2="807" y2="1620.5" stroke="#111" stroke-width="1.1" />
<line x1="807" y1="1612.5" x2="814" y2="1620.5" stroke="#111" stroke-width="1.1" />
<line x1="814" y1="1612.5" x2="821" y2="1620.5" stroke="#111" stroke-width="1.1" />
<line x1="850" y1="1612.5" x2="857" y2="1620.5" stroke="#111" stroke-width="1.1" />
<line x1="857" y1="1612.5" x2="864" y2="1620.5" stroke="#111" stroke-width="1.1" />
<line x1="864" y1="1612.5" x2="871" y2="1620.5" stroke="#111" stroke-width="1.1" />
<line x1="895" y1="1612.5" x2="902" y2="1620.5" stroke="#111" stroke-width="1.1" />
<line x1="902" y1="1612.5" x2="909" y2="1620.5" stroke="#111" stroke-width="1.1" />
<line x1="909" y1="1612.5" x2="916" y2="1620.5" stroke="#111" stroke-width="1.1" />
<line x1="935" y1="1612.5" x2="942" y2="1620.5" stroke="#111" stroke-width="1.1" />
<line x1="942" y1="1612.5" x2="949" y2="1620.5" stroke="#111" stroke-width="1.1" />
<line x1="949" y1="1612.5" x2="956" y2="1620.5" stroke="#111" stroke-width="1.1" />
<line x1="1288" y1="1612.5" x2="1295" y2="1620.5" stroke="#111" stroke-width="1.1" />
<line x1="1295" y1="1612.5" x2="1302" y2="1620.5" stroke="#111" stroke-width="1.1" />
<line x1="1302" y1="1612.5" x2="1309" y2="1620.5" stroke="#111" stroke-width="1.1" />
<line x1="1330" y1="1612.5" x2="1337" y2="1620.5" stroke="#111" stroke-width="1.1" />
<line x1="1337" y1="1612.5" x2="1344" y2="1620.5" stroke="#111" stroke-width="1.1" />
<line x1="1344" y1="1612.5" x2="1351" y2="1620.5" stroke="#111" stroke-width="1.1" />
<line x1="1375" y1="1612.5" x2="1382" y2="1620.5" stroke="#111" stroke-width="1.1" />
<line x1="1382" y1="1612.5" x2="1389" y2="1620.5" stroke="#111" stroke-width="1.1" />
<line x1="1389" y1="1612.5" x2="1396" y2="1620.5" stroke="#111" stroke-width="1.1" />
<line x1="1420" y1="1612.5" x2="1427" y2="1620.5" stroke="#111" stroke-width="1.1" />
<line x1="1427" y1="1612.5" x2="1434" y2="1620.5" stroke="#111" stroke-width="1.1" />
<line x1="1434" y1="1612.5" x2="1441" y2="1620.5" stroke="#111" stroke-width="1.1" />
<line x1="1470" y1="1612.5" x2="1477" y2="1620.5" stroke="#111" stroke-width="1.1" />
<line x1="1477" y1="1612.5" x2="1484" y2="1620.5" stroke="#111" stroke-width="1.1" />
<line x1="1484" y1="1612.5" x2="1491" y2="1620.5" stroke="#111" stroke-width="1.1" />
<line x1="1520" y1="1612.5" x2="1527" y2="1620.5" stroke="#111" stroke-width="1.1" />
<line x1="1527" y1="1612.5" x2="1534" y2="1620.5" stroke="#111" stroke-width="1.1" />
<line x1="1534" y1="1612.5" x2="1541" y2="1620.5" stroke="#111" stroke-width="1.1" />
<line x1="1560" y1="1612.5" x2="1567" y2="1620.5" stroke="#111" stroke-width="1.1" />
<line x1="1567" y1="1612.5" x2="1574" y2="1620.5" stroke="#111" stroke-width="1.1" />
<line x1="1574" y1="1612.5" x2="1581" y2="1620.5" stroke="#111" stroke-width="1.1" />
<line x1="1600" y1="1612.5" x2="1607" y2="1620.5" stroke="#111" stroke-width="1.1" />
<line x1="1607" y1="1612.5" x2="1614" y2="1620.5" stroke="#111" stroke-width="1.1" />
<line x1="1614" y1="1612.5" x2="1621" y2="1620.5" stroke="#111" stroke-width="1.1" />
<rect x="1016" y="1611.5" width="306" height="9" fill="url(#ghatch)" stroke="#111" stroke-width="1.3" />
<line x1="1255" y1="1611.5" x2="1255" y2="1620.5" stroke="#111" stroke-width="1.2" />
<path d="M 815,1611 L 945,1566" stroke="#c0385a" stroke-width="1.2"/><path d="M 945,1566 L 1118,1490" stroke="#c0385a" stroke-width="1.2" stroke-dasharray="26,6,3,6"/>
<path d="M 1275,1500 L 1534,1603" stroke="#c0385a" stroke-width="1.2" stroke-dasharray="26,6,3,6"/>
<g transform="translate(0,0)">
<path d="M 1041,1440.2 L 1228.2,1440.2 L 1237.6,1451.6 L 1238.5,1501 L 1258,1501 L 1258,1520 L 1241.4,1520 L 1241.4,1579.4 L 1245,1579.4 L 1245,1599.6 L 1274.3,1599.6 L 1274.3,1611 L 1041.6,1611 L 1041.6,1578 L 1030.2,1539 L 1024.5,1518.6 L 1024.5,1463 L 1032.1,1461.7 L 1032.1,1450.4 Z" fill="url(#bluetex)" stroke="#000060" stroke-width="2"/>
<path d="M 1074.5,1518.6 L 1074.5,1473 Q 1074.5,1458 1089.5,1458 L 1201,1458 Q 1216.1,1458 1216.1,1473 L 1216.1,1518.6 Z" fill="#fff" stroke="#000060" stroke-width="2"/>
<rect x="1093.5" y="1458" width="106.2" height="60.6" fill="url(#hgrn)" stroke="none" stroke-width="1" />
<path d="M 1067.5,1578 L 1067.5,1559 Q 1067.5,1551.5 1075,1551.5 L 1205,1551.5 Q 1212.4,1551.5 1212.4,1559 L 1212.4,1578 L 1189.6,1578 L 1189.6,1599.6 L 1174.4,1599.6 L 1174.4,1578 L 1098.5,1578 L 1098.5,1599.6 L 1082,1599.6 L 1082,1578 Z" fill="#fff" stroke="#000060" stroke-width="2"/>
<rect x="1119.4" y="1588.8" width="31" height="8.9" rx="3.5" fill="#fff" stroke="#000060" stroke-width="1.8"/>
<circle cx="1116.2" cy="1492.1" r="27.2" fill="none" stroke="#333" stroke-width="1" stroke-dasharray="4,3"/>
<path d="M 1106.2,1458 L 1106.2,1492 A 10,10 0 0 0 1126.2,1492 L 1126.2,1458" fill="#fff" stroke="#0a0ab4" stroke-width="3.2"/>
<rect x="1109.2" y="1466" width="14" height="18" fill="#707070"/>
<circle cx="1116.2" cy="1492" r="7.5" fill="#fff" stroke="#0a0ab4" stroke-width="2.2"/>
<circle cx="1173.8" cy="1492.1" r="27.2" fill="none" stroke="#333" stroke-width="1" stroke-dasharray="4,3"/>
<path d="M 1163.8,1458 L 1163.8,1492 A 10,10 0 0 0 1183.8,1492 L 1183.8,1458" fill="#fff" stroke="#0a0ab4" stroke-width="3.2"/>
<rect x="1166.8" y="1466" width="14" height="18" fill="#707070"/>
<circle cx="1173.8" cy="1492" r="7.5" fill="#fff" stroke="#0a0ab4" stroke-width="2.2"/>
</g>
<line x1="1146" y1="1458" x2="1146" y2="1519" stroke="#e8c020" stroke-width="2.2" />
<line x1="1205" y1="1458" x2="1205" y2="1519" stroke="#e8c020" stroke-width="2.2" />
<g transform="translate(0,0)" fill="none" stroke="#111" stroke-width="1.2">
<path d="M 1285,1518 L 1286,1497 Q 1287,1490 1291,1484 L 1337,1413 Q 1341,1406 1350,1405 L 1390,1402 Q 1400,1402 1403,1411 L 1416,1500 L 1416,1518"/>
<path d="M 1290,1518 L 1290,1498 Q 1291,1492 1294,1487 L 1340,1416 Q 1344,1410 1351,1409 L 1389,1407 Q 1397,1407 1399,1414 L 1411,1500 L 1411,1518"/>
<path d="M 1403,1516 L 1401,1484 Q 1404,1477 1407,1482 L 1410,1516"/>
<path d="M 1366,1437 Q 1367,1427 1374,1427 Q 1383,1428 1383,1437 Z" fill="#fff"/>
<path d="M 1361,1437 L 1386,1437 M 1368,1438 Q 1366,1445 1369,1449 L 1368,1452 L 1375,1452 Q 1381,1448 1381,1440"/>
<path d="M 1369,1453 L 1365,1465 Q 1363,1475 1364,1480 L 1350,1479 L 1340,1476 M 1378,1452 Q 1386,1458 1385,1475 L 1382,1497 L 1383,1512 L 1349,1512 Q 1341,1514 1342,1522 L 1341,1553 L 1330,1560 L 1349,1561 L 1351,1530 Q 1356,1522 1368,1522 L 1385,1520"/>
<path d="M 1365,1480 L 1358,1483 L 1346,1484 M 1376,1466 L 1370,1490 L 1352,1492"/>
<ellipse cx="1336" cy="1473" rx="3.5" ry="3" fill="#fff"/>
<path d="M 1317,1475 L 1341,1493" stroke-width="2.2"/><path d="M 1330,1486 L 1318,1516 M 1334,1488 L 1322,1516"/>
<circle cx="1328" cy="1499" r="2.5" fill="#fff"/>
<path d="M 1265,1543 L 1300,1540 L 1345,1540 Q 1360,1542 1362,1555 L 1362,1568 L 1340,1568 Q 1325,1560 1318,1545 L 1296,1548 Q 1290,1550 1292,1556 L 1300,1580 L 1312,1600 L 1370,1600 L 1392,1600 Q 1392,1560 1422,1552 Q 1445,1552 1452,1570 L 1453,1596 L 1468,1597 L 1468,1548 L 1452,1540 L 1452,1528"/>
<path d="M 1264,1550 Q 1282,1548 1296,1552 M 1263,1543 L 1263,1600 L 1270,1604"/>
<path d="M 1368,1538 L 1368,1600 M 1312,1568 L 1318,1600"/>
<path d="M 1248,1306 L 1262,1306 L 1264,1330 L 1264,1374 M 1248,1306 L 1248,1374"/>
<path d="M 1240.6,1349 L 1245,1349 L 1245,1373 M 1240.6,1349 L 1240.6,1373"/>
<path d="M 1248,1412 L 1248,1600 M 1263,1412 L 1263,1545" stroke-dasharray="6,2"/>
<path d="M 1243,1413 L 1243,1446 Q 1243,1452 1248,1454"/>
</g>
<circle cx="1282" cy="1583.7" r="28.5" fill="#fff" stroke="#111" stroke-width="1.3" />
<circle cx="1282" cy="1583.7" r="25.3" fill="none" stroke="#222" stroke-width="5" stroke-dasharray="1.1,1.6"/>
<circle cx="1282" cy="1583.7" r="22" fill="#fff" stroke="#111" stroke-width="1.1" />
<circle cx="1282" cy="1583.7" r="12" fill="none" stroke="#111" stroke-width="1.4" />
<circle cx="1282" cy="1583.7" r="8.5" fill="none" stroke="#111" stroke-width="1" />
<circle cx="1282" cy="1583.7" r="3.5" fill="none" stroke="#111" stroke-width="1" />
<circle cx="1288" cy="1583.7" r="1.1" fill="#111" stroke="#111" stroke-width="0.5" />
<circle cx="1285" cy="1588.9" r="1.1" fill="#111" stroke="#111" stroke-width="0.5" />
<circle cx="1279" cy="1588.9" r="1.1" fill="#111" stroke="#111" stroke-width="0.5" />
<circle cx="1276" cy="1583.7" r="1.1" fill="#111" stroke="#111" stroke-width="0.5" />
<circle cx="1279" cy="1578.5" r="1.1" fill="#111" stroke="#111" stroke-width="0.5" />
<circle cx="1285" cy="1578.5" r="1.1" fill="#111" stroke="#111" stroke-width="0.5" />
<circle cx="1422.4" cy="1583.7" r="28.5" fill="#fff" stroke="#111" stroke-width="1.3" />
<circle cx="1422.4" cy="1583.7" r="25.3" fill="none" stroke="#222" stroke-width="5" stroke-dasharray="1.1,1.6"/>
<circle cx="1422.4" cy="1583.7" r="22" fill="#fff" stroke="#111" stroke-width="1.1" />
<circle cx="1422.4" cy="1583.7" r="12" fill="none" stroke="#111" stroke-width="1.4" />
<circle cx="1422.4" cy="1583.7" r="8.5" fill="none" stroke="#111" stroke-width="1" />
<circle cx="1422.4" cy="1583.7" r="3.5" fill="none" stroke="#111" stroke-width="1" />
<circle cx="1428.4" cy="1583.7" r="1.1" fill="#111" stroke="#111" stroke-width="0.5" />
<circle cx="1425.4" cy="1588.9" r="1.1" fill="#111" stroke="#111" stroke-width="0.5" />
<circle cx="1419.4" cy="1588.9" r="1.1" fill="#111" stroke="#111" stroke-width="0.5" />
<circle cx="1416.4" cy="1583.7" r="1.1" fill="#111" stroke="#111" stroke-width="0.5" />
<circle cx="1419.4" cy="1578.5" r="1.1" fill="#111" stroke="#111" stroke-width="0.5" />
<circle cx="1425.4" cy="1578.5" r="1.1" fill="#111" stroke="#111" stroke-width="0.5" />
<rect x="942" y="1496" width="5" height="96" fill="#d6f5ea" stroke="#7ad07a" stroke-width="1" />
<rect x="931.5" y="1591.5" width="26" height="19.5" fill="#eefcf2" stroke="#7ad07a" stroke-width="1.2" />
<rect x="1036.5" y="1496" width="5" height="96" fill="#d6f5ea" stroke="#7ad07a" stroke-width="1" />
<rect x="1026" y="1591.5" width="26" height="19.5" fill="#eefcf2" stroke="#7ad07a" stroke-width="1.2" />
<rect x="1199" y="1496" width="5" height="96" fill="#d6f5ea" stroke="#7ad07a" stroke-width="1" />
<rect x="1188.5" y="1591.5" width="26" height="19.5" fill="#eefcf2" stroke="#7ad07a" stroke-width="1.2" />
<rect x="1368.5" y="1496" width="5" height="96" fill="#d6f5ea" stroke="#7ad07a" stroke-width="1" />
<rect x="1358" y="1591.5" width="26" height="19.5" fill="#eefcf2" stroke="#7ad07a" stroke-width="1.2" />
<rect x="1531" y="1496" width="5" height="96" fill="#d6f5ea" stroke="#7ad07a" stroke-width="1" />
<rect x="1520.5" y="1591.5" width="26" height="19.5" fill="#eefcf2" stroke="#7ad07a" stroke-width="1.2" />
<rect x="945" y="1519.5" width="591" height="19.2" fill="url(#barr)" stroke="none" stroke-width="1" />
<line x1="945" y1="1519.5" x2="1536" y2="1519.5" stroke="#3ccf3c" stroke-width="1.6" />
<line x1="945" y1="1538.7" x2="1536" y2="1538.7" stroke="#3ccf3c" stroke-width="1.6" />
<line x1="1536" y1="1519.5" x2="1536" y2="1538.7" stroke="#3ccf3c" stroke-width="1.6" />
<line x1="1146" y1="1345" x2="1146" y2="1716" stroke="#44bb44" stroke-width="1.2" stroke-dasharray="26,4,3,4" />
<line x1="788" y1="1484" x2="788" y2="1611.5" stroke="#000" stroke-width="3.2" />
<line x1="769" y1="1611.5" x2="807" y2="1611.5" stroke="#000" stroke-width="3.5" />
<g transform="translate(788,1464) scale(1.0217391304347827)">
<circle r="23" fill="#1b5fa9"/>
<path d="M -11,-3 C -12,-12 -7,-17 0,-17 C 7,-17 12,-12 11,-3 L 13,-2 L 13,0 L -13,0 L -13,-2 Z" fill="#fff"/>
<path d="M -11,0 C -11,8 -6,15 0,16 C 6,15 11,8 11,0" fill="none" stroke="#e8f4ff" stroke-width="1.8"/>
</g>
<text x="788" y="1429" font-size="16" font-family="Liberation Sans" text-anchor="middle" textLength="26.5" lengthAdjust="spacingAndGlyphs" fill="#1a1a1a" >М02</text>
<line x1="1597" y1="1483" x2="1597" y2="1611.5" stroke="#000" stroke-width="3.2" />
<line x1="1578" y1="1611.5" x2="1616" y2="1611.5" stroke="#000" stroke-width="3.5" />
<g transform="translate(1597,1463) scale(1.0222222222222221)">
<circle r="20.3" fill="#fff" stroke="#e0402f" stroke-width="4.4"/>
<g stroke="#111" stroke-linecap="round" fill="none"><path d="M -3,-9 L 3,-1" stroke-width="4"/><path d="M -1,-9 L 4,-8 L 7,-2" stroke-width="2.2"/><path d="M -3,-6 L -9,-2" stroke-width="2.2"/><path d="M 0,-1 C -3,4 -5,9 -6,14" stroke-width="2.6"/><path d="M 2,-1 L 6,5 L 8,13" stroke-width="2.6"/></g>
<circle cx="-4.5" cy="-13.5" r="2.8" fill="#111"/>
<line x1="-14" y1="-14" x2="14" y2="14" stroke="#e0402f" stroke-width="4"/>
</g>
<text x="1597" y="1426" font-size="16" font-family="Liberation Sans" text-anchor="middle" textLength="25.5" lengthAdjust="spacingAndGlyphs" fill="#1a1a1a" >Р03</text>
<line x1="983" y1="1433" x2="983" y2="1618" stroke="#222" stroke-width="1.1" />
<line x1="978.5" y1="1444.5" x2="987.5" y2="1435.5" stroke="#000" stroke-width="1.3" />
<line x1="978.5" y1="1615.5" x2="987.5" y2="1606.5" stroke="#000" stroke-width="1.3" />
<text x="975.5" y="1482" font-size="15" font-family="Liberation Sans" text-anchor="middle" textLength="26" lengthAdjust="spacingAndGlyphs" transform="rotate(-90 975.5 1482)" fill="#1a1a1a" >1810</text>
<line x1="983" y1="1440" x2="1040" y2="1440" stroke="#111" stroke-width="1" />
<line x1="808" y1="1698" x2="1153" y2="1698" stroke="#222" stroke-width="1.1" />
<line x1="810.5" y1="1702.5" x2="819.5" y2="1693.5" stroke="#000" stroke-width="1.3" />
<line x1="1141.5" y1="1702.5" x2="1150.5" y2="1693.5" stroke="#000" stroke-width="1.3" />
<text x="980.5" y="1695" font-size="15" font-family="Liberation Sans" text-anchor="middle" textLength="82" lengthAdjust="spacingAndGlyphs" fill="#1a1a1a" >Lo.з. = 3800</text>
<line x1="1197" y1="1698" x2="1541" y2="1698" stroke="#222" stroke-width="1.1" />
<line x1="1199.5" y1="1702.5" x2="1208.5" y2="1693.5" stroke="#000" stroke-width="1.3" />
<line x1="1529.5" y1="1702.5" x2="1538.5" y2="1693.5" stroke="#000" stroke-width="1.3" />
<text x="1369" y="1695" font-size="15" font-family="Liberation Sans" text-anchor="middle" textLength="82" lengthAdjust="spacingAndGlyphs" fill="#1a1a1a" >Lo.з. = 3800</text>
<line x1="815" y1="1612" x2="815" y2="1703" stroke="#222" stroke-width="1" />
<line x1="1204" y1="1612" x2="1204" y2="1703" stroke="#222" stroke-width="1" />
<line x1="1534" y1="1612" x2="1534" y2="1703" stroke="#222" stroke-width="1" />
<text x="857" y="1397" font-size="12.5" font-family="Liberation Sans" textLength="48" lengthAdjust="spacingAndGlyphs" fill="#1a1a1a" >Граница</text>
<text x="857" y="1412.5" font-size="12.5" font-family="Liberation Sans" fill="#1a1a1a" ></text>
<line x1="827" y1="1400.5" x2="905" y2="1400.5" stroke="#222" stroke-width="1" />
<line x1="905" y1="1400" x2="942" y2="1567" stroke="#111" stroke-width="1" />
<text x="827" y="1412.5" font-size="12.5" font-family="Liberation Sans" textLength="78" lengthAdjust="spacingAndGlyphs" fill="#1a1a1a" >опасной зоны</text>
<text x="1181" y="1276" font-size="19" font-family="Liberation Sans" text-anchor="middle" textLength="24" lengthAdjust="spacingAndGlyphs" fill="#1a1a1a" >1-1</text>
<text x="2184" y="1242" font-size="19" font-family="Liberation Sans" text-anchor="middle" textLength="24" lengthAdjust="spacingAndGlyphs" fill="#1a1a1a" >1-1</text>
<text x="1193" y="1386" font-size="12.5" font-family="Liberation Sans" textLength="34.5" lengthAdjust="spacingAndGlyphs" fill="#1a1a1a" >Валок</text>
<text x="1193" y="1401.5" font-size="12.5" font-family="Liberation Sans" textLength="69" lengthAdjust="spacingAndGlyphs" fill="#1a1a1a" >Д = 660 мм.</text>
<line x1="1190" y1="1389.5" x2="1264" y2="1389.5" stroke="#222" stroke-width="1" />
<line x1="1193" y1="1389.5" x2="1118" y2="1478" stroke="#111" stroke-width="1" />
<line x1="1193" y1="1389.5" x2="1172" y2="1476" stroke="#111" stroke-width="1" />
<text x="1443" y="1403" font-size="12.5" font-family="Liberation Sans" textLength="56" lengthAdjust="spacingAndGlyphs" fill="#1a1a1a" >Вилочный</text>
<text x="1443" y="1418.5" font-size="12.5" font-family="Liberation Sans" textLength="87" lengthAdjust="spacingAndGlyphs" fill="#1a1a1a" >погрузчик 7 т.</text>
<line x1="1443" y1="1406.5" x2="1530" y2="1406.5" stroke="#222" stroke-width="1" />
<line x1="1443" y1="1406.5" x2="1416" y2="1490" stroke="#111" stroke-width="1" />
<text x="1229" y="1653" font-size="12.5" font-family="Liberation Sans" textLength="176" lengthAdjust="spacingAndGlyphs" fill="#1a1a1a" >Строп текстильный петлевой</text>
<text x="1229" y="1668.5" font-size="12.5" font-family="Liberation Sans" textLength="78" lengthAdjust="spacingAndGlyphs" fill="#1a1a1a" >СТП 4,0/2000</text>
<line x1="1229" y1="1656.5" x2="1405" y2="1656.5" stroke="#222" stroke-width="1" />
<line x1="1229" y1="1656.5" x2="1205" y2="1560" stroke="#111" stroke-width="1" />
<line x1="1130.3" y1="1380" x2="1130.3" y2="1429" stroke="#000" stroke-width="4.5" />
<line x1="1087" y1="1400" x2="1127.3" y2="1400" stroke="#000" stroke-width="1.3" />
<polygon points="1114.3,1396.5 1128.3,1400 1114.3,1403.5" fill="#000" stroke="#000" stroke-width="1" />
<text x="1101" y="1394.8" font-size="24" font-family="Liberation Sans" text-anchor="middle" fill="#1a1a1a" >2</text>
<line x1="1130.3" y1="1628.5" x2="1130.3" y2="1676.5" stroke="#000" stroke-width="4.5" />
<line x1="1087" y1="1656" x2="1127.3" y2="1656" stroke="#000" stroke-width="1.3" />
<polygon points="1114.3,1652.5 1128.3,1656 1114.3,1659.5" fill="#000" stroke="#000" stroke-width="1" />
<text x="1101" y="1678.6" font-size="24" font-family="Liberation Sans" text-anchor="middle" fill="#1a1a1a" >2</text>
<line x1="1665" y1="1611.5" x2="2623" y2="1611.5" stroke="#111" stroke-width="1.3" />
<line x1="1668" y1="1612.5" x2="1675" y2="1620.5" stroke="#111" stroke-width="1.1" />
<line x1="1675" y1="1612.5" x2="1682" y2="1620.5" stroke="#111" stroke-width="1.1" />
<line x1="1682" y1="1612.5" x2="1689" y2="1620.5" stroke="#111" stroke-width="1.1" />
<line x1="1720" y1="1612.5" x2="1727" y2="1620.5" stroke="#111" stroke-width="1.1" />
<line x1="1727" y1="1612.5" x2="1734" y2="1620.5" stroke="#111" stroke-width="1.1" />
<line x1="1734" y1="1612.5" x2="1741" y2="1620.5" stroke="#111" stroke-width="1.1" />
<line x1="1760" y1="1612.5" x2="1767" y2="1620.5" stroke="#111" stroke-width="1.1" />
<line x1="1767" y1="1612.5" x2="1774" y2="1620.5" stroke="#111" stroke-width="1.1" />
<line x1="1774" y1="1612.5" x2="1781" y2="1620.5" stroke="#111" stroke-width="1.1" />
<line x1="1860" y1="1612.5" x2="1867" y2="1620.5" stroke="#111" stroke-width="1.1" />
<line x1="1867" y1="1612.5" x2="1874" y2="1620.5" stroke="#111" stroke-width="1.1" />
<line x1="1874" y1="1612.5" x2="1881" y2="1620.5" stroke="#111" stroke-width="1.1" />
<line x1="2110" y1="1612.5" x2="2117" y2="1620.5" stroke="#111" stroke-width="1.1" />
<line x1="2117" y1="1612.5" x2="2124" y2="1620.5" stroke="#111" stroke-width="1.1" />
<line x1="2124" y1="1612.5" x2="2131" y2="1620.5" stroke="#111" stroke-width="1.1" />
<line x1="2150" y1="1612.5" x2="2157" y2="1620.5" stroke="#111" stroke-width="1.1" />
<line x1="2157" y1="1612.5" x2="2164" y2="1620.5" stroke="#111" stroke-width="1.1" />
<line x1="2164" y1="1612.5" x2="2171" y2="1620.5" stroke="#111" stroke-width="1.1" />
<line x1="2200" y1="1612.5" x2="2207" y2="1620.5" stroke="#111" stroke-width="1.1" />
<line x1="2207" y1="1612.5" x2="2214" y2="1620.5" stroke="#111" stroke-width="1.1" />
<line x1="2214" y1="1612.5" x2="2221" y2="1620.5" stroke="#111" stroke-width="1.1" />
<line x1="2240" y1="1612.5" x2="2247" y2="1620.5" stroke="#111" stroke-width="1.1" />
<line x1="2247" y1="1612.5" x2="2254" y2="1620.5" stroke="#111" stroke-width="1.1" />
<line x1="2254" y1="1612.5" x2="2261" y2="1620.5" stroke="#111" stroke-width="1.1" />
<line x1="2290" y1="1612.5" x2="2297" y2="1620.5" stroke="#111" stroke-width="1.1" />
<line x1="2297" y1="1612.5" x2="2304" y2="1620.5" stroke="#111" stroke-width="1.1" />
<line x1="2304" y1="1612.5" x2="2311" y2="1620.5" stroke="#111" stroke-width="1.1" />
<line x1="2330" y1="1612.5" x2="2337" y2="1620.5" stroke="#111" stroke-width="1.1" />
<line x1="2337" y1="1612.5" x2="2344" y2="1620.5" stroke="#111" stroke-width="1.1" />
<line x1="2344" y1="1612.5" x2="2351" y2="1620.5" stroke="#111" stroke-width="1.1" />
<line x1="2380" y1="1612.5" x2="2387" y2="1620.5" stroke="#111" stroke-width="1.1" />
<line x1="2387" y1="1612.5" x2="2394" y2="1620.5" stroke="#111" stroke-width="1.1" />
<line x1="2394" y1="1612.5" x2="2401" y2="1620.5" stroke="#111" stroke-width="1.1" />
<line x1="2430" y1="1612.5" x2="2437" y2="1620.5" stroke="#111" stroke-width="1.1" />
<line x1="2437" y1="1612.5" x2="2444" y2="1620.5" stroke="#111" stroke-width="1.1" />
<line x1="2444" y1="1612.5" x2="2451" y2="1620.5" stroke="#111" stroke-width="1.1" />
<line x1="2470" y1="1612.5" x2="2477" y2="1620.5" stroke="#111" stroke-width="1.1" />
<line x1="2477" y1="1612.5" x2="2484" y2="1620.5" stroke="#111" stroke-width="1.1" />
<line x1="2484" y1="1612.5" x2="2491" y2="1620.5" stroke="#111" stroke-width="1.1" />
<line x1="2510" y1="1612.5" x2="2517" y2="1620.5" stroke="#111" stroke-width="1.1" />
<line x1="2517" y1="1612.5" x2="2524" y2="1620.5" stroke="#111" stroke-width="1.1" />
<line x1="2524" y1="1612.5" x2="2531" y2="1620.5" stroke="#111" stroke-width="1.1" />
<line x1="2550" y1="1612.5" x2="2557" y2="1620.5" stroke="#111" stroke-width="1.1" />
<line x1="2557" y1="1612.5" x2="2564" y2="1620.5" stroke="#111" stroke-width="1.1" />
<line x1="2564" y1="1612.5" x2="2571" y2="1620.5" stroke="#111" stroke-width="1.1" />
<line x1="2610" y1="1612.5" x2="2617" y2="1620.5" stroke="#111" stroke-width="1.1" />
<line x1="2617" y1="1612.5" x2="2624" y2="1620.5" stroke="#111" stroke-width="1.1" />
<line x1="2624" y1="1612.5" x2="2631" y2="1620.5" stroke="#111" stroke-width="1.1" />
<rect x="1791.6" y="1611.5" width="305.4" height="9" fill="url(#ghatch)" stroke="#111" stroke-width="1.3" />
<line x1="2030.5" y1="1611.5" x2="2030.5" y2="1620.5" stroke="#111" stroke-width="1.2" />
<path d="M 1800,1611 L 1920,1565 L 2040,1520" stroke="#c0385a" stroke-width="1.2" stroke-dasharray="40,6,3,6"/><path d="M 2040,1520 L 2135,1425" stroke="#c0385a" stroke-width="1.2"/>
<path d="M 2190,1425 L 2504,1604" stroke="#c0385a" stroke-width="1.2" stroke-dasharray="50,6,3,6"/>
<g transform="translate(776,0)">
<path d="M 1041,1440.2 L 1228.2,1440.2 L 1237.6,1451.6 L 1238.5,1501 L 1258,1501 L 1258,1520 L 1241.4,1520 L 1241.4,1579.4 L 1245,1579.4 L 1245,1599.6 L 1274.3,1599.6 L 1274.3,1611 L 1041.6,1611 L 1041.6,1578 L 1030.2,1539 L 1024.5,1518.6 L 1024.5,1463 L 1032.1,1461.7 L 1032.1,1450.4 Z" fill="url(#bluetex)" stroke="#000060" stroke-width="2"/>
<path d="M 1074.5,1518.6 L 1074.5,1473 Q 1074.5,1458 1089.5,1458 L 1201,1458 Q 1216.1,1458 1216.1,1473 L 1216.1,1518.6 Z" fill="#fff" stroke="#000060" stroke-width="2"/>
<rect x="1093.5" y="1458" width="106.2" height="60.6" fill="url(#hgrn)" stroke="none" stroke-width="1" />
<path d="M 1067.5,1578 L 1067.5,1559 Q 1067.5,1551.5 1075,1551.5 L 1205,1551.5 Q 1212.4,1551.5 1212.4,1559 L 1212.4,1578 L 1189.6,1578 L 1189.6,1599.6 L 1174.4,1599.6 L 1174.4,1578 L 1098.5,1578 L 1098.5,1599.6 L 1082,1599.6 L 1082,1578 Z" fill="#fff" stroke="#000060" stroke-width="2"/>
<rect x="1119.4" y="1588.8" width="31" height="8.9" rx="3.5" fill="#fff" stroke="#000060" stroke-width="1.8"/>
<circle cx="1116.2" cy="1492.1" r="27.2" fill="none" stroke="#333" stroke-width="1" stroke-dasharray="4,3"/>
<path d="M 1106.2,1458 L 1106.2,1492 A 10,10 0 0 0 1126.2,1492 L 1126.2,1458" fill="#fff" stroke="#0a0ab4" stroke-width="3.2"/>
<rect x="1109.2" y="1466" width="14" height="18" fill="#707070"/>
<circle cx="1116.2" cy="1492" r="7.5" fill="#fff" stroke="#0a0ab4" stroke-width="2.2"/>
<path d="M 1163.8,1458 L 1163.8,1492 A 10,10 0 0 0 1183.8,1492 L 1183.8,1458" fill="#fff" stroke="#0a0ab4" stroke-width="3.2"/>
</g>
<rect x="2089" y="1602" width="23.7" height="9.4" fill="#fff" stroke="#333" stroke-width="1" />
<rect x="2112.7" y="1602" width="23.7" height="9.4" fill="#fff" stroke="#333" stroke-width="1" />
<rect x="2136.4" y="1602" width="23.7" height="9.4" fill="#fff" stroke="#333" stroke-width="1" />
<rect x="2160.1" y="1602" width="23.7" height="9.4" fill="#fff" stroke="#333" stroke-width="1" />
<rect x="2183.8" y="1602" width="23.7" height="9.4" fill="#fff" stroke="#333" stroke-width="1" />
<rect x="2207.5" y="1602" width="23.7" height="9.4" fill="#fff" stroke="#333" stroke-width="1" />
<circle cx="2158.7" cy="1573.5" r="25.3" fill="url(#ball)" stroke="#555" stroke-width="1" />
<line x1="2158.7" y1="1573.5" x2="2128" y2="1620" stroke="#111" stroke-width="1" />
<path d="M 2105,1369 L 2105,1388 L 2231.5,1388 Q 2236,1388 2236,1383 L 2236,1300" fill="none" stroke="#222" stroke-width="1.1" stroke-dasharray="5,2.5"/>
<path d="M 2110,1369 L 2110,1384 L 2230,1384 L 2230,1300" fill="none" stroke="#222" stroke-width="1.1" stroke-dasharray="5,2.5"/>
<circle cx="2160.9" cy="1421.6" r="26.9" fill="#fff" stroke="#111" stroke-width="1.3" />
<circle cx="2160.9" cy="1421.6" r="6.3" fill="#fff" stroke="#111" stroke-width="1.2" />
<path d="M 2133,1395 L 2133,1445 M 2189,1395 L 2189,1445" stroke="#e8c82a" stroke-width="2.4" stroke-dasharray="6,3"/>
<path d="M 2140,1445 A 27,27 0 0 0 2182,1445" fill="none" stroke="#e8c82a" stroke-width="2.2" stroke-dasharray="6,3"/>
<line x1="2131.8" y1="1437" x2="2131.8" y2="1681" stroke="#222" stroke-width="1" />
<line x1="2188.7" y1="1437" x2="2188.7" y2="1681" stroke="#222" stroke-width="1" />
<line x1="2060.6" y1="1380" x2="2060.6" y2="1755" stroke="#111" stroke-width="1" />
<line x1="2055" y1="1389" x2="2236" y2="1389" stroke="#111" stroke-width="1" />
<line x1="2056.1" y1="1393.5" x2="2065.1" y2="1384.5" stroke="#000" stroke-width="1.3" />
<line x1="2161" y1="1472" x2="2161" y2="1506" stroke="#e00000" stroke-width="2.4" />
<polygon points="2156,1504 2161,1518 2166,1504" fill="#e00000" stroke="#e00000" stroke-width="1" />
<g transform="translate(987,0)" fill="none" stroke="#111" stroke-width="1.2">
<path d="M 1285,1518 L 1286,1497 Q 1287,1490 1291,1484 L 1337,1413 Q 1341,1406 1350,1405 L 1390,1402 Q 1400,1402 1403,1411 L 1416,1500 L 1416,1518"/>
<path d="M 1290,1518 L 1290,1498 Q 1291,1492 1294,1487 L 1340,1416 Q 1344,1410 1351,1409 L 1389,1407 Q 1397,1407 1399,1414 L 1411,1500 L 1411,1518"/>
<path d="M 1403,1516 L 1401,1484 Q 1404,1477 1407,1482 L 1410,1516"/>
<path d="M 1366,1437 Q 1367,1427 1374,1427 Q 1383,1428 1383,1437 Z" fill="#fff"/>
<path d="M 1361,1437 L 1386,1437 M 1368,1438 Q 1366,1445 1369,1449 L 1368,1452 L 1375,1452 Q 1381,1448 1381,1440"/>
<path d="M 1369,1453 L 1365,1465 Q 1363,1475 1364,1480 L 1350,1479 L 1340,1476 M 1378,1452 Q 1386,1458 1385,1475 L 1382,1497 L 1383,1512 L 1349,1512 Q 1341,1514 1342,1522 L 1341,1553 L 1330,1560 L 1349,1561 L 1351,1530 Q 1356,1522 1368,1522 L 1385,1520"/>
<path d="M 1365,1480 L 1358,1483 L 1346,1484 M 1376,1466 L 1370,1490 L 1352,1492"/>
<ellipse cx="1336" cy="1473" rx="3.5" ry="3" fill="#fff"/>
<path d="M 1317,1475 L 1341,1493" stroke-width="2.2"/><path d="M 1330,1486 L 1318,1516 M 1334,1488 L 1322,1516"/>
<circle cx="1328" cy="1499" r="2.5" fill="#fff"/>
<path d="M 1265,1543 L 1300,1540 L 1345,1540 Q 1360,1542 1362,1555 L 1362,1568 L 1340,1568 Q 1325,1560 1318,1545 L 1296,1548 Q 1290,1550 1292,1556 L 1300,1580 L 1312,1600 L 1370,1600 L 1392,1600 Q 1392,1560 1422,1552 Q 1445,1552 1452,1570 L 1453,1596 L 1468,1597 L 1468,1548 L 1452,1540 L 1452,1528"/>
<path d="M 1264,1550 Q 1282,1548 1296,1552 M 1263,1543 L 1263,1600 L 1270,1604"/>
<path d="M 1368,1538 L 1368,1600 M 1312,1568 L 1318,1600"/>
</g>
<circle cx="2269" cy="1583.7" r="28.5" fill="#fff" stroke="#111" stroke-width="1.3" />
<circle cx="2269" cy="1583.7" r="25.3" fill="none" stroke="#222" stroke-width="5" stroke-dasharray="1.1,1.6"/>
<circle cx="2269" cy="1583.7" r="22" fill="#fff" stroke="#111" stroke-width="1.1" />
<circle cx="2269" cy="1583.7" r="12" fill="none" stroke="#111" stroke-width="1.4" />
<circle cx="2269" cy="1583.7" r="8.5" fill="none" stroke="#111" stroke-width="1" />
<circle cx="2269" cy="1583.7" r="3.5" fill="none" stroke="#111" stroke-width="1" />
<circle cx="2275" cy="1583.7" r="1.1" fill="#111" stroke="#111" stroke-width="0.5" />
<circle cx="2272" cy="1588.9" r="1.1" fill="#111" stroke="#111" stroke-width="0.5" />
<circle cx="2266" cy="1588.9" r="1.1" fill="#111" stroke="#111" stroke-width="0.5" />
<circle cx="2263" cy="1583.7" r="1.1" fill="#111" stroke="#111" stroke-width="0.5" />
<circle cx="2266" cy="1578.5" r="1.1" fill="#111" stroke="#111" stroke-width="0.5" />
<circle cx="2272" cy="1578.5" r="1.1" fill="#111" stroke="#111" stroke-width="0.5" />
<circle cx="2409.4" cy="1583.7" r="28.5" fill="#fff" stroke="#111" stroke-width="1.3" />
<circle cx="2409.4" cy="1583.7" r="25.3" fill="none" stroke="#222" stroke-width="5" stroke-dasharray="1.1,1.6"/>
<circle cx="2409.4" cy="1583.7" r="22" fill="#fff" stroke="#111" stroke-width="1.1" />
<circle cx="2409.4" cy="1583.7" r="12" fill="none" stroke="#111" stroke-width="1.4" />
<circle cx="2409.4" cy="1583.7" r="8.5" fill="none" stroke="#111" stroke-width="1" />
<circle cx="2409.4" cy="1583.7" r="3.5" fill="none" stroke="#111" stroke-width="1" />
<circle cx="2415.4" cy="1583.7" r="1.1" fill="#111" stroke="#111" stroke-width="0.5" />
<circle cx="2412.4" cy="1588.9" r="1.1" fill="#111" stroke="#111" stroke-width="0.5" />
<circle cx="2406.4" cy="1588.9" r="1.1" fill="#111" stroke="#111" stroke-width="0.5" />
<circle cx="2403.4" cy="1583.7" r="1.1" fill="#111" stroke="#111" stroke-width="0.5" />
<circle cx="2406.4" cy="1578.5" r="1.1" fill="#111" stroke="#111" stroke-width="0.5" />
<circle cx="2412.4" cy="1578.5" r="1.1" fill="#111" stroke="#111" stroke-width="0.5" />
<g fill="none" stroke="#111" stroke-width="1.2"><path d="M 2235,1306 L 2247,1306 L 2249,1332 L 2249,1605 M 2235,1306 L 2235,1605"/><path d="M 2227,1279 L 2232,1279 L 2232,1335 L 2227,1335 Z" stroke-dasharray="4,2"/><path d="M 2227,1430 L 2232,1430 L 2232,1490 L 2227,1490 Z"/></g>
<rect x="1925.2" y="1496" width="5" height="96" fill="#d6f5ea" stroke="#7ad07a" stroke-width="1" />
<rect x="1914.7" y="1591.5" width="26" height="19.5" fill="#eefcf2" stroke="#7ad07a" stroke-width="1.2" />
<rect x="2021.7" y="1496" width="5" height="96" fill="#d6f5ea" stroke="#7ad07a" stroke-width="1" />
<rect x="2011.2" y="1591.5" width="26" height="19.5" fill="#eefcf2" stroke="#7ad07a" stroke-width="1.2" />
<rect x="2183.1" y="1496" width="5" height="96" fill="#d6f5ea" stroke="#7ad07a" stroke-width="1" />
<rect x="2172.6" y="1591.5" width="26" height="19.5" fill="#eefcf2" stroke="#7ad07a" stroke-width="1.2" />
<rect x="2353.7" y="1496" width="5" height="96" fill="#d6f5ea" stroke="#7ad07a" stroke-width="1" />
<rect x="2343.2" y="1591.5" width="26" height="19.5" fill="#eefcf2" stroke="#7ad07a" stroke-width="1.2" />
<rect x="2515.8" y="1496" width="5" height="96" fill="#d6f5ea" stroke="#7ad07a" stroke-width="1" />
<rect x="2505.3" y="1591.5" width="26" height="19.5" fill="#eefcf2" stroke="#7ad07a" stroke-width="1.2" />
<rect x="1930.8" y="1519.5" width="589.2" height="19.2" fill="url(#barr)" stroke="none" stroke-width="1" />
<line x1="1930.8" y1="1519.5" x2="2520" y2="1519.5" stroke="#3ccf3c" stroke-width="1.6" />
<line x1="1930.8" y1="1538.7" x2="2520" y2="1538.7" stroke="#3ccf3c" stroke-width="1.6" />
<line x1="2520" y1="1519.5" x2="2520" y2="1538.7" stroke="#3ccf3c" stroke-width="1.6" />
<line x1="1921.4" y1="1345" x2="1921.4" y2="1675" stroke="#44bb44" stroke-width="1.2" stroke-dasharray="26,4,3,4" />
<line x1="1700.4" y1="1484.3" x2="1700.4" y2="1611.5" stroke="#000" stroke-width="3.2" />
<line x1="1681.4" y1="1611.5" x2="1719.4" y2="1611.5" stroke="#000" stroke-width="3.5" />
<g transform="translate(1700.4,1464.3) scale(1.0217391304347827)">
<circle r="23" fill="#1b5fa9"/>
<path d="M -11,-3 C -12,-12 -7,-17 0,-17 C 7,-17 12,-12 11,-3 L 13,-2 L 13,0 L -13,0 L -13,-2 Z" fill="#fff"/>
<path d="M -11,0 C -11,8 -6,15 0,16 C 6,15 11,8 11,0" fill="none" stroke="#e8f4ff" stroke-width="1.8"/>
</g>
<text x="1700.4" y="1428" font-size="16" font-family="Liberation Sans" text-anchor="middle" textLength="26.5" lengthAdjust="spacingAndGlyphs" fill="#1a1a1a" >М02</text>
<line x1="2580" y1="1484.3" x2="2580" y2="1611.5" stroke="#000" stroke-width="3.2" />
<line x1="2561" y1="1611.5" x2="2599" y2="1611.5" stroke="#000" stroke-width="3.5" />
<g transform="translate(2580,1464.3) scale(1.0222222222222221)">
<circle r="20.3" fill="#fff" stroke="#e0402f" stroke-width="4.4"/>
<g stroke="#111" stroke-linecap="round" fill="none"><path d="M -3,-9 L 3,-1" stroke-width="4"/><path d="M -1,-9 L 4,-8 L 7,-2" stroke-width="2.2"/><path d="M -3,-6 L -9,-2" stroke-width="2.2"/><path d="M 0,-1 C -3,4 -5,9 -6,14" stroke-width="2.6"/><path d="M 2,-1 L 6,5 L 8,13" stroke-width="2.6"/></g>
<circle cx="-4.5" cy="-13.5" r="2.8" fill="#111"/>
<line x1="-14" y1="-14" x2="14" y2="14" stroke="#e0402f" stroke-width="4"/>
</g>
<text x="2580" y="1426" font-size="16" font-family="Liberation Sans" text-anchor="middle" textLength="25.5" lengthAdjust="spacingAndGlyphs" fill="#1a1a1a" >Р03</text>
<line x1="1759" y1="1432" x2="1759" y2="1618" stroke="#222" stroke-width="1.1" />
<line x1="1754.5" y1="1443.5" x2="1763.5" y2="1434.5" stroke="#000" stroke-width="1.3" />
<line x1="1754.5" y1="1615.5" x2="1763.5" y2="1606.5" stroke="#000" stroke-width="1.3" />
<text x="1750.5" y="1481" font-size="15" font-family="Liberation Sans" text-anchor="middle" textLength="24" lengthAdjust="spacingAndGlyphs" transform="rotate(-90 1750.5 1481)" fill="#1a1a1a" >1810</text>
<line x1="1759" y1="1439" x2="1820" y2="1439" stroke="#111" stroke-width="1" />
<line x1="1794" y1="1676.3" x2="2138.8" y2="1676.3" stroke="#222" stroke-width="1.1" />
<line x1="1796.5" y1="1680.8" x2="1805.5" y2="1671.8" stroke="#000" stroke-width="1.3" />
<line x1="2127.3" y1="1680.8" x2="2136.3" y2="1671.8" stroke="#000" stroke-width="1.3" />
<text x="1966.4" y="1673.5" font-size="15" font-family="Liberation Sans" text-anchor="middle" textLength="82" lengthAdjust="spacingAndGlyphs" fill="#1a1a1a" >Lo.з. = 3800</text>
<line x1="2124.8" y1="1676.3" x2="2195.7" y2="1676.3" stroke="#222" stroke-width="1.1" />
<line x1="2127.3" y1="1680.8" x2="2136.3" y2="1671.8" stroke="#000" stroke-width="1.3" />
<line x1="2184.2" y1="1680.8" x2="2193.2" y2="1671.8" stroke="#000" stroke-width="1.3" />
<text x="2160.25" y="1673.5" font-size="11" font-family="Liberation Sans" text-anchor="middle" textLength="18" lengthAdjust="spacingAndGlyphs" fill="#1a1a1a" >660</text>
<line x1="2180.5" y1="1676.3" x2="2525.3" y2="1676.3" stroke="#222" stroke-width="1.1" />
<line x1="2183" y1="1680.8" x2="2192" y2="1671.8" stroke="#000" stroke-width="1.3" />
<line x1="2513.8" y1="1680.8" x2="2522.8" y2="1671.8" stroke="#000" stroke-width="1.3" />
<text x="2352.9" y="1673.5" font-size="15" font-family="Liberation Sans" text-anchor="middle" textLength="82" lengthAdjust="spacingAndGlyphs" fill="#1a1a1a" >Lo.з. = 3800</text>
<line x1="1801" y1="1612" x2="1801" y2="1681" stroke="#222" stroke-width="1" />
<line x1="2518.3" y1="1612" x2="2518.3" y2="1681" stroke="#222" stroke-width="1" />
<text x="2061" y="1452" font-size="13.5" font-family="Liberation Sans" text-anchor="middle" textLength="77" lengthAdjust="spacingAndGlyphs" transform="rotate(-90 2061 1452)" fill="#52d452" >Положение №1</text>
<text x="2061" y="1715" font-size="13.5" font-family="Liberation Sans" text-anchor="middle" textLength="74" lengthAdjust="spacingAndGlyphs" transform="rotate(-90 2061 1715)" fill="#52d452" >Положение №2</text>
<text x="2078" y="1455" font-size="12.5" font-family="Liberation Sans" textLength="68" lengthAdjust="spacingAndGlyphs" fill="#1a1a1a" >Р = 6107 кг</text>
<text x="2078" y="1470.5" font-size="12.5" font-family="Liberation Sans" fill="#1a1a1a" ></text>
<line x1="2078" y1="1458.5" x2="2146" y2="1458.5" stroke="#222" stroke-width="1" />
<line x1="2146" y1="1458.5" x2="2158" y2="1500" stroke="#111" stroke-width="1" />
<text x="1932.4" y="1342" font-size="12.5" font-family="Liberation Sans" textLength="175.6" lengthAdjust="spacingAndGlyphs" fill="#1a1a1a" >Строп текстильный петлевой</text>
<text x="1932.4" y="1357.5" font-size="12.5" font-family="Liberation Sans" fill="#1a1a1a" ></text>
<line x1="1932.4" y1="1345.5" x2="2108" y2="1345.5" stroke="#222" stroke-width="1" />
<line x1="2108" y1="1345.5" x2="2133" y2="1400" stroke="#111" stroke-width="1" />
<text x="2032" y="1357.7" font-size="12.5" font-family="Liberation Sans" textLength="76" lengthAdjust="spacingAndGlyphs" fill="#1a1a1a" >СТП 4,0/2000</text>
<text x="1921.3" y="1374" font-size="12.5" font-family="Liberation Sans" textLength="33.3" lengthAdjust="spacingAndGlyphs" fill="#1a1a1a" >Валок</text>
<text x="1921.3" y="1389.5" font-size="12.5" font-family="Liberation Sans" textLength="68" lengthAdjust="spacingAndGlyphs" fill="#1a1a1a" >Д = 660 мм.</text>
<line x1="1921.3" y1="1377.5" x2="1990" y2="1377.5" stroke="#222" stroke-width="1" />
<line x1="1921.3" y1="1377.5" x2="1890" y2="1475" stroke="#111" stroke-width="1" />
<text x="2201.4" y="1346" font-size="12.5" font-family="Liberation Sans" textLength="33.3" lengthAdjust="spacingAndGlyphs" fill="#1a1a1a" >Валок</text>
<text x="2201.4" y="1361.5" font-size="12.5" font-family="Liberation Sans" textLength="68" lengthAdjust="spacingAndGlyphs" fill="#1a1a1a" >Д = 660 мм.</text>
<line x1="2201.4" y1="1349.5" x2="2270" y2="1349.5" stroke="#222" stroke-width="1" />
<line x1="2201.4" y1="1349.5" x2="2178" y2="1415" stroke="#111" stroke-width="1" />
<text x="1960.9" y="1560" font-size="12.5" font-family="Liberation Sans" textLength="145.6" lengthAdjust="spacingAndGlyphs" fill="#1a1a1a" >Разгрузочные подкладки</text>
<text x="1960.9" y="1575.5" font-size="12.5" font-family="Liberation Sans" fill="#1a1a1a" ></text>
<line x1="1960.9" y1="1563.5" x2="2106.5" y2="1563.5" stroke="#222" stroke-width="1" />
<line x1="2106.5" y1="1563.5" x2="2135" y2="1605" stroke="#111" stroke-width="1" />
<text x="2082.7" y="1640" font-size="12.5" font-family="Liberation Sans" textLength="33.3" lengthAdjust="spacingAndGlyphs" fill="#1a1a1a" >Валок</text>
<text x="2082.7" y="1655.5" font-size="12.5" font-family="Liberation Sans" fill="#1a1a1a" ></text>
<line x1="2047.9" y1="1643.5" x2="2116" y2="1643.5" stroke="#222" stroke-width="1" />
<line x1="2116" y1="1643.5" x2="2150" y2="1590" stroke="#111" stroke-width="1" />
<text x="2047.9" y="1655" font-size="12.5" font-family="Liberation Sans" textLength="68" lengthAdjust="spacingAndGlyphs" fill="#1a1a1a" >Д = 660 мм.</text>
<text x="2207.5" y="1632.5" font-size="12.5" font-family="Liberation Sans" textLength="175" lengthAdjust="spacingAndGlyphs" fill="#1a1a1a" >Строп текстильный петлевой</text>
<text x="2207.5" y="1648" font-size="12.5" font-family="Liberation Sans" textLength="76.5" lengthAdjust="spacingAndGlyphs" fill="#1a1a1a" >СТП 4,0/2000</text>
<line x1="2207.5" y1="1636" x2="2382.5" y2="1636" stroke="#222" stroke-width="1" />
<line x1="2207.5" y1="1636" x2="2190" y2="1612" stroke="#111" stroke-width="1" />
<line x1="128" y1="1230.5" x2="633" y2="1230.5" stroke="#111" stroke-width="1.3" />
<line x1="130" y1="1231.5" x2="137" y2="1239.5" stroke="#111" stroke-width="1.1" />
<line x1="137" y1="1231.5" x2="144" y2="1239.5" stroke="#111" stroke-width="1.1" />
<line x1="144" y1="1231.5" x2="151" y2="1239.5" stroke="#111" stroke-width="1.1" />
<line x1="160" y1="1231.5" x2="167" y2="1239.5" stroke="#111" stroke-width="1.1" />
<line x1="167" y1="1231.5" x2="174" y2="1239.5" stroke="#111" stroke-width="1.1" />
<line x1="174" y1="1231.5" x2="181" y2="1239.5" stroke="#111" stroke-width="1.1" />
<line x1="205" y1="1231.5" x2="212" y2="1239.5" stroke="#111" stroke-width="1.1" />
<line x1="212" y1="1231.5" x2="219" y2="1239.5" stroke="#111" stroke-width="1.1" />
<line x1="219" y1="1231.5" x2="226" y2="1239.5" stroke="#111" stroke-width="1.1" />
<line x1="240" y1="1231.5" x2="247" y2="1239.5" stroke="#111" stroke-width="1.1" />
<line x1="247" y1="1231.5" x2="254" y2="1239.5" stroke="#111" stroke-width="1.1" />
<line x1="254" y1="1231.5" x2="261" y2="1239.5" stroke="#111" stroke-width="1.1" />
<line x1="270" y1="1231.5" x2="277" y2="1239.5" stroke="#111" stroke-width="1.1" />
<line x1="277" y1="1231.5" x2="284" y2="1239.5" stroke="#111" stroke-width="1.1" />
<line x1="284" y1="1231.5" x2="291" y2="1239.5" stroke="#111" stroke-width="1.1" />
<line x1="560" y1="1231.5" x2="567" y2="1239.5" stroke="#111" stroke-width="1.1" />
<line x1="567" y1="1231.5" x2="574" y2="1239.5" stroke="#111" stroke-width="1.1" />
<line x1="574" y1="1231.5" x2="581" y2="1239.5" stroke="#111" stroke-width="1.1" />
<line x1="600" y1="1231.5" x2="607" y2="1239.5" stroke="#111" stroke-width="1.1" />
<line x1="607" y1="1231.5" x2="614" y2="1239.5" stroke="#111" stroke-width="1.1" />
<line x1="614" y1="1231.5" x2="621" y2="1239.5" stroke="#111" stroke-width="1.1" />
<rect x="249" y="1231" width="306.5" height="9" fill="url(#ghatch)" stroke="#111" stroke-width="1.3" />
<line x1="488.3" y1="1231" x2="488.3" y2="1240" stroke="#111" stroke-width="1.2" />
<line x1="139.6" y1="1030" x2="139.6" y2="1238" stroke="#222" stroke-width="1.1" />
<line x1="135.1" y1="1041.5" x2="144.1" y2="1032.5" stroke="#000" stroke-width="1.3" />
<line x1="135.1" y1="1235.5" x2="144.1" y2="1226.5" stroke="#000" stroke-width="1.3" />
<text x="138.2" y="1133.7" font-size="15.5" font-family="Liberation Sans" text-anchor="middle" textLength="31" lengthAdjust="spacingAndGlyphs" transform="rotate(-90 138.2 1133.7)" fill="#1a1a1a" >2060</text>
<line x1="139.6" y1="1037" x2="390" y2="1037" stroke="#111" stroke-width="1" />
<line x1="242" y1="1275" x2="563" y2="1275" stroke="#222" stroke-width="1.1" />
<line x1="244.5" y1="1279.5" x2="253.5" y2="1270.5" stroke="#000" stroke-width="1.3" />
<line x1="551.5" y1="1279.5" x2="560.5" y2="1270.5" stroke="#000" stroke-width="1.3" />
<text x="402.5" y="1273.3" font-size="15.5" font-family="Liberation Sans" text-anchor="middle" textLength="31" lengthAdjust="spacingAndGlyphs" fill="#1a1a1a" >3230</text>
<line x1="249" y1="1240" x2="249" y2="1280" stroke="#222" stroke-width="1" />
<line x1="556" y1="1240" x2="556" y2="1280" stroke="#222" stroke-width="1" />
<path d="M 357,1059 C 370,1043 395,1036 412,1036 C 440,1036 465,1050 478,1070 L 517,1133 C 521,1141 519,1148 510,1153 L 482,1167 L 471,1167 L 471,1059 Z" fill="url(#redtex)" stroke="#500" stroke-width="1.8"/>
<path d="M 275,1059 L 463,1059 L 470,1067 L 471,1198 L 479,1198 L 479,1219 L 508.5,1219 L 508.5,1230 L 270,1230 L 269,1198 L 266,1157 L 259,1153 L 259,1083 L 267,1083 L 267,1071 Z" fill="url(#bluetex)" stroke="#000050" stroke-width="1.8"/>
<rect x="309.2" y="1077.3" width="141.5" height="75.2" rx="12.5" fill="url(#redtex)" stroke="#400018" stroke-width="1.8"/>
<path d="M 331.5,1124.6 L 427.7,1124.6 Q 427.7,1145 410,1145 L 349,1145 Q 331.5,1145 331.5,1124.6 Z" fill="none" stroke="#6a0010" stroke-width="1.6"/>
<path d="M 302.2,1198.5 L 302.2,1178 Q 302.2,1170.6 310,1170.6 L 437,1170.6 Q 444.4,1170.6 444.4,1178 L 444.4,1198.5 L 438.8,1198.5 L 438.8,1218.7 L 411,1218.7 L 411,1198.5 L 332.2,1198.5 L 332.2,1218.7 L 316.2,1218.7 L 316.2,1198.5 Z" fill="#fff" stroke="#000050" stroke-width="1.8"/>
<rect x="352.4" y="1207.6" width="32.8" height="10.4" rx="3.5" fill="url(#bluetex)" stroke="#000050" stroke-width="1.6"/>
<circle cx="350.3" cy="1110.7" r="11.8" fill="#fff" stroke="#300" stroke-width="1.6" />
<circle cx="350.3" cy="1110.7" r="8.5" fill="none" stroke="#111" stroke-width="1.6" />
<path d="M 345.3,1117 L 345.3,1108 L 350.3,1103 L 355.3,1108 L 355.3,1117 Z" fill="#fff" stroke="#000" stroke-width="2.2"/>
<circle cx="408.2" cy="1110.7" r="11.8" fill="#fff" stroke="#300" stroke-width="1.6" />
<circle cx="408.2" cy="1110.7" r="8.5" fill="none" stroke="#111" stroke-width="1.6" />
<path d="M 403.2,1117 L 403.2,1108 L 408.2,1103 L 413.2,1108 L 413.2,1117 Z" fill="#fff" stroke="#000" stroke-width="2.2"/>
<rect x="348.2" y="1121" width="4.4" height="109" fill="#050505" stroke="none" stroke-width="1" />
<rect x="406" y="1121" width="5" height="109" fill="#050505" stroke="none" stroke-width="1" />
<path d="M 228,1094 L 235.3,1082 L 235.3,1138 L 228,1130 Z" fill="url(#grntex)" stroke="#111" stroke-width="1.3"/>
<rect x="224" y="1100" width="4" height="24" fill="#111" stroke="none" stroke-width="1" />
<rect x="235.3" y="1079.4" width="14.7" height="61.3" fill="url(#grntex)" stroke="#111" stroke-width="1.5" />
<rect x="250" y="1097.5" width="20.2" height="23.7" fill="url(#grntex)" stroke="#111" stroke-width="1.3" />
<rect x="270.2" y="1101" width="16.7" height="16.7" fill="url(#grntex)" stroke="#111" stroke-width="1.3" />
<rect x="286.9" y="1102" width="7" height="15" fill="#223" stroke="#111" stroke-width="1" />
<rect x="293.9" y="1107.2" width="15.1" height="8.4" fill="url(#grntex)" stroke="#111" stroke-width="1.2" />
<circle cx="496.7" cy="1138.6" r="17.4" fill="#e8eefa" stroke="#222" stroke-width="1.3" />
<circle cx="496.7" cy="1138.6" r="13.2" fill="url(#hgrn)" stroke="#2a2a90" stroke-width="1.3" />
<path d="M 455.5,1141.4 L 466.7,1141.4 L 466.7,1161.6 L 480,1161.6 L 480,1177 L 475,1197.8 L 459.7,1197.8 L 450,1177 L 450,1161.6 L 455.5,1161.6 Z" fill="url(#grntex)" stroke="#111" stroke-width="1.4"/>
<line x1="380" y1="1010" x2="380" y2="1286" stroke="#44bb44" stroke-width="1.2" stroke-dasharray="26,4,3,4" />
<g fill="none" stroke="#333" stroke-width="0.9">
<path d="M 180,1090 Q 184,1082 192,1083 Q 198,1086 196,1094 M 181,1092 Q 170,1098 163,1110 Q 157,1125 160,1138 L 164,1140 M 196,1095 Q 205,1100 210,1110 Q 215,1125 225,1138 L 232,1140 M 167,1140 Q 162,1170 166,1195 L 166,1220 L 175,1221 M 186,1140 Q 190,1170 186,1200 L 188,1220 L 197,1221 M 165,1140 L 200,1142 M 175,1100 L 178,1135 M 200,1145 Q 205,1180 210,1210" />
<path d="M 555,1097 Q 560,1090 566,1095 Q 570,1102 566,1108 M 552,1100 Q 540,1108 536,1120 Q 530,1140 532,1160 L 530,1190 L 534,1222 M 566,1108 Q 578,1120 580,1150 Q 582,1180 578,1222 M 556,1105 Q 560,1130 548,1160 Q 545,1190 552,1222 M 538,1115 Q 528,1120 522,1112 L 519,1105" />
</g>
<text x="208.9" y="1013.6" font-size="12.5" font-family="Liberation Sans" textLength="104.5" lengthAdjust="spacingAndGlyphs" fill="#1a1a1a" >Рабочий с ручным</text>
<text x="208.9" y="1029.1" font-size="12.5" font-family="Liberation Sans" textLength="82.3" lengthAdjust="spacingAndGlyphs" fill="#1a1a1a" >инструментом</text>
<line x1="208.9" y1="1017.1" x2="313.4" y2="1017.1" stroke="#222" stroke-width="1" />
<line x1="209" y1="1017" x2="188" y2="1090" stroke="#111" stroke-width="1" />
<text x="576" y="1028" font-size="12.5" font-family="Liberation Sans" textLength="105" lengthAdjust="spacingAndGlyphs" fill="#1a1a1a" >Рабочий с ручным</text>
<text x="576" y="1043.5" font-size="12.5" font-family="Liberation Sans" textLength="83.6" lengthAdjust="spacingAndGlyphs" fill="#1a1a1a" >инструментом</text>
<line x1="576" y1="1031.5" x2="681" y2="1031.5" stroke="#222" stroke-width="1" />
<line x1="576.5" y1="1031.5" x2="545" y2="1114" stroke="#111" stroke-width="1" />
<text x="404" y="1326" font-size="19" font-family="Liberation Sans" text-anchor="middle" textLength="26" lengthAdjust="spacingAndGlyphs" fill="#1a1a1a" >2-2</text>
<text x="404" y="1350" font-size="19" font-family="Liberation Sans" text-anchor="middle" textLength="438" lengthAdjust="spacingAndGlyphs" fill="#1a1a1a" >Схема строповки валка вальцев. Вариант №1 (один</text>
<text x="404" y="1373" font-size="19" font-family="Liberation Sans" text-anchor="middle" textLength="287" lengthAdjust="spacingAndGlyphs" fill="#1a1a1a" >семитонный вилочный подъемник)</text>
<text x="404" y="1395.5" font-size="19" font-family="Liberation Sans" text-anchor="middle" textLength="364" lengthAdjust="spacingAndGlyphs" fill="#1a1a1a" >Подъемник и станина условно не показаны</text>
<text x="445" y="1756" font-size="19" font-family="Liberation Sans" text-anchor="middle" textLength="26" lengthAdjust="spacingAndGlyphs" fill="#1a1a1a" >2-2</text>
<text x="445" y="1780" font-size="19" font-family="Liberation Sans" text-anchor="middle" textLength="431" lengthAdjust="spacingAndGlyphs" fill="#1a1a1a" >Схема строповки валка вальцев. Вариант №2 (два</text>
<text x="445" y="1803" font-size="19" font-family="Liberation Sans" text-anchor="middle" textLength="293" lengthAdjust="spacingAndGlyphs" fill="#1a1a1a" >пятитонных вилочных подъемника)</text>
<text x="445" y="1825.5" font-size="19" font-family="Liberation Sans" text-anchor="middle" textLength="373" lengthAdjust="spacingAndGlyphs" fill="#1a1a1a" >Подъемники и станина условно не показаны</text>
<line x1="256" y1="1443.7" x2="548" y2="1443.7" stroke="#222" stroke-width="1.1" />
<line x1="258.5" y1="1448.2" x2="267.5" y2="1439.2" stroke="#000" stroke-width="1.3" />
<line x1="354.2" y1="1448.2" x2="363.2" y2="1439.2" stroke="#000" stroke-width="1.3" />
<line x1="453.2" y1="1448.2" x2="462.2" y2="1439.2" stroke="#000" stroke-width="1.3" />
<line x1="536.7" y1="1448.2" x2="545.7" y2="1439.2" stroke="#000" stroke-width="1.3" />
<text x="310.8" y="1441.5" font-size="15" font-family="Liberation Sans" text-anchor="middle" textLength="22" lengthAdjust="spacingAndGlyphs" fill="#1a1a1a" >760</text>
<text x="408.7" y="1441.5" font-size="15" font-family="Liberation Sans" text-anchor="middle" textLength="22" lengthAdjust="spacingAndGlyphs" fill="#1a1a1a" >780</text>
<text x="498.9" y="1441.5" font-size="15" font-family="Liberation Sans" text-anchor="middle" textLength="22" lengthAdjust="spacingAndGlyphs" fill="#1a1a1a" >660</text>
<line x1="263" y1="1443.7" x2="263" y2="1684" stroke="#333" stroke-width="1" />
<line x1="358.7" y1="1443.7" x2="358.7" y2="1478" stroke="#222" stroke-width="1" />
<line x1="457.7" y1="1443.7" x2="457.7" y2="1478" stroke="#222" stroke-width="1" />
<line x1="541.2" y1="1443.7" x2="541.2" y2="1562" stroke="#333" stroke-width="1" />
<rect x="276.3" y="1562.6" width="264.2" height="80.8" fill="#fff" stroke="#222" stroke-width="1.1" />
<rect x="263" y="1582.6" width="13.3" height="40.7" fill="#fff" stroke="#222" stroke-width="1" />
<rect x="540.5" y="1582.6" width="13.4" height="40.7" fill="#fff" stroke="#222" stroke-width="1" />
<line x1="234" y1="1602.8" x2="581" y2="1602.8" stroke="#5858cc" stroke-width="1.1" stroke-dasharray="22,4,3,4" />
<line x1="359.1" y1="1488" x2="359.1" y2="1645.6" stroke="#f0c020" stroke-width="3.3" />
<line x1="359.1" y1="1478" x2="359.1" y2="1500" stroke="#222" stroke-width="1" />
<circle cx="359.1" cy="1481" r="8.5" fill="#fffbe0" stroke="#f0e070" stroke-width="1" />
<path d="M 352.1,1474 L 366.1,1474 L 365.1,1486 L 364.1,1488 L 354.1,1488 L 353.1,1486 Z" fill="none" stroke="#111" stroke-width="1.1"/>
<line x1="351.1" y1="1482" x2="367.1" y2="1482" stroke="#111" stroke-width="1.4" />
<line x1="457.7" y1="1488" x2="457.7" y2="1645.6" stroke="#f0c020" stroke-width="3.3" />
<line x1="457.7" y1="1478" x2="457.7" y2="1500" stroke="#222" stroke-width="1" />
<circle cx="457.7" cy="1481" r="8.5" fill="#fffbe0" stroke="#f0e070" stroke-width="1" />
<path d="M 450.7,1474 L 464.7,1474 L 463.7,1486 L 462.7,1488 L 452.7,1488 L 451.7,1486 Z" fill="none" stroke="#111" stroke-width="1.1"/>
<line x1="449.7" y1="1482" x2="465.7" y2="1482" stroke="#111" stroke-width="1.4" />
<line x1="596.8" y1="1555.6" x2="596.8" y2="1650.4" stroke="#222" stroke-width="1.1" />
<line x1="592.3" y1="1567.1" x2="601.3" y2="1558.1" stroke="#000" stroke-width="1.3" />
<line x1="592.3" y1="1647.9" x2="601.3" y2="1638.9" stroke="#000" stroke-width="1.3" />
<text x="594.5" y="1603.3" font-size="15" font-family="Liberation Sans" text-anchor="middle" textLength="22" lengthAdjust="spacingAndGlyphs" transform="rotate(-90 594.5 1603.3)" fill="#1a1a1a" >640</text>
<line x1="540.5" y1="1562.6" x2="602" y2="1562.6" stroke="#222" stroke-width="1" />
<line x1="553.9" y1="1643.4" x2="602" y2="1643.4" stroke="#222" stroke-width="1" />
<line x1="256" y1="1678.5" x2="560" y2="1678.5" stroke="#222" stroke-width="1.1" />
<line x1="258.5" y1="1683" x2="267.5" y2="1674" stroke="#000" stroke-width="1.3" />
<line x1="549.4" y1="1683" x2="558.4" y2="1674" stroke="#000" stroke-width="1.3" />
<line x1="553.9" y1="1623.3" x2="553.9" y2="1684" stroke="#333" stroke-width="1" />
<rect x="347.5" y="1643.5" width="3" height="5.5" fill="#000" stroke="none" stroke-width="1" />
<rect x="465.5" y="1643.5" width="3" height="5.5" fill="#000" stroke="none" stroke-width="1" />
<line x1="490" y1="1711.7" x2="350" y2="1648" stroke="#111" stroke-width="1" />
<line x1="490" y1="1711.7" x2="467" y2="1648" stroke="#111" stroke-width="1" />
<rect x="390" y="1664" width="36" height="15" fill="#fff" stroke="none" stroke-width="1" />
<text x="407.6" y="1676" font-size="15" font-family="Liberation Sans" text-anchor="middle" textLength="29" lengthAdjust="spacingAndGlyphs" fill="#1a1a1a" >2310</text>
<text x="277.4" y="1496.5" font-size="12.5" font-family="Liberation Sans" textLength="33.4" lengthAdjust="spacingAndGlyphs" fill="#1a1a1a" >Валок</text>
<text x="277.4" y="1512" font-size="12.5" font-family="Liberation Sans" fill="#1a1a1a" ></text>
<line x1="242.9" y1="1500" x2="312" y2="1500" stroke="#222" stroke-width="1" />
<line x1="312" y1="1499.5" x2="325.3" y2="1582.2" stroke="#111" stroke-width="1" />
<text x="242.9" y="1510.8" font-size="12.5" font-family="Liberation Sans" textLength="68" lengthAdjust="spacingAndGlyphs" fill="#1a1a1a" >Д = 660 мм.</text>
<text x="497.8" y="1532" font-size="12.5" font-family="Liberation Sans" textLength="99" lengthAdjust="spacingAndGlyphs" fill="#1a1a1a" >Вилы погрузчика</text>
<text x="497.8" y="1547.5" font-size="12.5" font-family="Liberation Sans" fill="#1a1a1a" ></text>
<line x1="496.7" y1="1535.5" x2="596.8" y2="1535.5" stroke="#222" stroke-width="1" />
<line x1="496.7" y1="1535.5" x2="366" y2="1482" stroke="#111" stroke-width="1" />
<line x1="496.7" y1="1535.5" x2="462" y2="1488" stroke="#111" stroke-width="1" />
<text x="148.3" y="1695.7" font-size="12.5" font-family="Liberation Sans" textLength="174.7" lengthAdjust="spacingAndGlyphs" fill="#1a1a1a" >Строп текстильный петлевой</text>
<text x="148.3" y="1711.2" font-size="12.5" font-family="Liberation Sans" fill="#1a1a1a" ></text>
<line x1="148.3" y1="1699.2" x2="326" y2="1699.2" stroke="#222" stroke-width="1" />
<line x1="326" y1="1699" x2="358.7" y2="1583.3" stroke="#111" stroke-width="1" />
<line x1="326" y1="1699" x2="457.7" y2="1583.3" stroke="#111" stroke-width="1" />
<text x="247.4" y="1709.8" font-size="12.5" font-family="Liberation Sans" textLength="76.8" lengthAdjust="spacingAndGlyphs" fill="#1a1a1a" >СТП 4,0/2000</text>
<text x="490" y="1709" font-size="12.5" font-family="Liberation Sans" textLength="143.5" lengthAdjust="spacingAndGlyphs" fill="#1a1a1a" >Пластина-ограничитель</text>
<text x="490" y="1724.3" font-size="12.5" font-family="Liberation Sans" textLength="95.7" lengthAdjust="spacingAndGlyphs" fill="#1a1a1a" >(приваривается)</text>
<line x1="490" y1="1712.5" x2="636" y2="1712.5" stroke="#222" stroke-width="1" />
<line x1="255.8" y1="1875.8" x2="560.9" y2="1875.8" stroke="#222" stroke-width="1.1" />
<line x1="257.8" y1="1880.3" x2="266.8" y2="1871.3" stroke="#000" stroke-width="1.3" />
<line x1="291.2" y1="1880.3" x2="300.2" y2="1871.3" stroke="#000" stroke-width="1.3" />
<line x1="389" y1="1880.3" x2="398" y2="1871.3" stroke="#000" stroke-width="1.3" />
<line x1="416.1" y1="1880.3" x2="425.1" y2="1871.3" stroke="#000" stroke-width="1.3" />
<line x1="515.9" y1="1880.3" x2="524.9" y2="1871.3" stroke="#000" stroke-width="1.3" />
<line x1="548.6" y1="1880.3" x2="557.6" y2="1871.3" stroke="#000" stroke-width="1.3" />
<text x="279" y="1872.7" font-size="15" font-family="Liberation Sans" text-anchor="middle" textLength="22" lengthAdjust="spacingAndGlyphs" fill="#1a1a1a" >270</text>
<text x="346" y="1872.7" font-size="15" font-family="Liberation Sans" text-anchor="middle" textLength="22" lengthAdjust="spacingAndGlyphs" fill="#1a1a1a" >780</text>
<text x="407.7" y="1872.7" font-size="15" font-family="Liberation Sans" text-anchor="middle" textLength="22" lengthAdjust="spacingAndGlyphs" fill="#1a1a1a" >210</text>
<text x="470.8" y="1872.7" font-size="15" font-family="Liberation Sans" text-anchor="middle" textLength="22" lengthAdjust="spacingAndGlyphs" fill="#1a1a1a" >780</text>
<text x="536.4" y="1872.7" font-size="15" font-family="Liberation Sans" text-anchor="middle" textLength="22" lengthAdjust="spacingAndGlyphs" fill="#1a1a1a" >270</text>
<line x1="262.3" y1="1875.8" x2="262.3" y2="2153" stroke="#333" stroke-width="1" />
<line x1="553.1" y1="1875.8" x2="553.1" y2="2019" stroke="#333" stroke-width="1" />
<line x1="553.1" y1="2061" x2="553.1" y2="2153" stroke="#333" stroke-width="1" />
<rect x="276.4" y="1999.6" width="263.9" height="80.9" fill="#fff" stroke="#222" stroke-width="1.1" />
<rect x="262.3" y="2019.5" width="14.1" height="41.1" fill="#fff" stroke="#222" stroke-width="1" />
<rect x="540.3" y="2019.5" width="13.6" height="41.1" fill="#fff" stroke="#222" stroke-width="1" />
<line x1="232.7" y1="2039.5" x2="582.7" y2="2039.5" stroke="#6a6aa8" stroke-width="1.1" stroke-dasharray="22,4,3,4" />
<line x1="295.7" y1="1942" x2="295.7" y2="2080.5" stroke="#f0c020" stroke-width="3.3" />
<line x1="295.7" y1="1875.8" x2="295.7" y2="1942" stroke="#222" stroke-width="1" />
<circle cx="295.7" cy="1918.8" r="8.5" fill="#fffbe0" stroke="#f0e070" stroke-width="1" />
<path d="M 288.7,1911.8 L 302.7,1911.8 L 301.7,1923.8 L 300.7,1925.8 L 290.7,1925.8 L 289.7,1923.8 Z" fill="none" stroke="#111" stroke-width="1.1"/>
<line x1="287.7" y1="1919.8" x2="303.7" y2="1919.8" stroke="#111" stroke-width="1.4" />
<line x1="393.5" y1="1942" x2="393.5" y2="2080.5" stroke="#f0c020" stroke-width="3.3" />
<line x1="393.5" y1="1875.8" x2="393.5" y2="1942" stroke="#222" stroke-width="1" />
<circle cx="393.5" cy="1918.8" r="8.5" fill="#fffbe0" stroke="#f0e070" stroke-width="1" />
<path d="M 386.5,1911.8 L 400.5,1911.8 L 399.5,1923.8 L 398.5,1925.8 L 388.5,1925.8 L 387.5,1923.8 Z" fill="none" stroke="#111" stroke-width="1.1"/>
<line x1="385.5" y1="1919.8" x2="401.5" y2="1919.8" stroke="#111" stroke-width="1.4" />
<line x1="420.6" y1="1942" x2="420.6" y2="2080.5" stroke="#f0c020" stroke-width="3.3" />
<line x1="420.6" y1="1875.8" x2="420.6" y2="1942" stroke="#222" stroke-width="1" />
<circle cx="420.6" cy="1918.8" r="8.5" fill="#fffbe0" stroke="#f0e070" stroke-width="1" />
<path d="M 413.6,1911.8 L 427.6,1911.8 L 426.6,1923.8 L 425.6,1925.8 L 415.6,1925.8 L 414.6,1923.8 Z" fill="none" stroke="#111" stroke-width="1.1"/>
<line x1="412.6" y1="1919.8" x2="428.6" y2="1919.8" stroke="#111" stroke-width="1.4" />
<line x1="520.4" y1="1963" x2="520.4" y2="2080.5" stroke="#f0c020" stroke-width="3.3" />
<line x1="520.4" y1="1875.8" x2="520.4" y2="1963" stroke="#222" stroke-width="1" />
<circle cx="520.4" cy="1918.8" r="8.5" fill="#fffbe0" stroke="#f0e070" stroke-width="1" />
<path d="M 513.4,1911.8 L 527.4,1911.8 L 526.4,1923.8 L 525.4,1925.8 L 515.4,1925.8 L 514.4,1923.8 Z" fill="none" stroke="#111" stroke-width="1.1"/>
<line x1="512.4" y1="1919.8" x2="528.4" y2="1919.8" stroke="#111" stroke-width="1.4" />
<line x1="598.2" y1="1992.6" x2="598.2" y2="2087.5" stroke="#222" stroke-width="1.1" />
<line x1="593.7" y1="2004.1" x2="602.7" y2="1995.1" stroke="#000" stroke-width="1.3" />
<line x1="593.7" y1="2085" x2="602.7" y2="2076" stroke="#000" stroke-width="1.3" />
<text x="594.3" y="2039.5" font-size="15" font-family="Liberation Sans" text-anchor="middle" textLength="22" lengthAdjust="spacingAndGlyphs" transform="rotate(-90 594.3 2039.5)" fill="#1a1a1a" >640</text>
<line x1="540.3" y1="1999.6" x2="603" y2="1999.6" stroke="#222" stroke-width="1" />
<line x1="553.9" y1="2080.5" x2="603" y2="2080.5" stroke="#222" stroke-width="1" />
<line x1="255.8" y1="2147.6" x2="560.9" y2="2147.6" stroke="#222" stroke-width="1.1" />
<line x1="257.8" y1="2152.1" x2="266.8" y2="2143.1" stroke="#000" stroke-width="1.3" />
<line x1="548.6" y1="2152.1" x2="557.6" y2="2143.1" stroke="#000" stroke-width="1.3" />
<rect x="285.5" y="2080.5" width="3" height="7.5" fill="#000" stroke="none" stroke-width="1" />
<rect x="529" y="2080.5" width="3" height="7.5" fill="#000" stroke="none" stroke-width="1" />
<line x1="295.7" y1="2024.1" x2="477.2" y2="2168.7" stroke="#111" stroke-width="1" />
<line x1="394.8" y1="2020" x2="477.2" y2="2168.7" stroke="#111" stroke-width="1" />
<line x1="421.9" y1="2020" x2="339.5" y2="2168.7" stroke="#111" stroke-width="1" />
<line x1="520.4" y1="2024.1" x2="339.5" y2="2168.7" stroke="#111" stroke-width="1" />
<line x1="575" y1="2132.7" x2="287" y2="2088" stroke="#111" stroke-width="1" />
<line x1="575" y1="2132.7" x2="530.5" y2="2088" stroke="#111" stroke-width="1" />
<rect x="390" y="2132" width="36" height="15" fill="#fff" stroke="none" stroke-width="1" />
<text x="407.7" y="2145.6" font-size="15" font-family="Liberation Sans" text-anchor="middle" textLength="29" lengthAdjust="spacingAndGlyphs" fill="#1a1a1a" >2310</text>
<text x="222.4" y="2167.5" font-size="12.5" font-family="Liberation Sans" textLength="115.8" lengthAdjust="spacingAndGlyphs" fill="#1a1a1a" >Строп текстильный</text>
<text x="222.4" y="2183" font-size="12.5" font-family="Liberation Sans" fill="#1a1a1a" ></text>
<line x1="201.8" y1="2171" x2="339.5" y2="2171" stroke="#222" stroke-width="1" />
<text x="201.3" y="2182" font-size="12.5" font-family="Liberation Sans" textLength="136.9" lengthAdjust="spacingAndGlyphs" fill="#1a1a1a" >петлевой СТП 4,0/2000</text>
<text x="477.2" y="2167.5" font-size="12.5" font-family="Liberation Sans" textLength="115.8" lengthAdjust="spacingAndGlyphs" fill="#1a1a1a" >Строп текстильный</text>
<text x="477.2" y="2183" font-size="12.5" font-family="Liberation Sans" fill="#1a1a1a" ></text>
<line x1="477.2" y1="2171" x2="614.9" y2="2171" stroke="#222" stroke-width="1" />
<text x="477.2" y="2182" font-size="12.5" font-family="Liberation Sans" textLength="136.9" lengthAdjust="spacingAndGlyphs" fill="#1a1a1a" >петлевой СТП 4,0/2000</text>
<text x="167" y="1980.8" font-size="12.5" font-family="Liberation Sans" textLength="96.6" lengthAdjust="spacingAndGlyphs" fill="#1a1a1a" >Вилы погрузчика</text>
<text x="167" y="1996.3" font-size="12.5" font-family="Liberation Sans" fill="#1a1a1a" ></text>
<line x1="167" y1="1984.3" x2="266" y2="1984.3" stroke="#222" stroke-width="1" />
<line x1="266" y1="1984.3" x2="295.7" y2="1922" stroke="#111" stroke-width="1" />
<line x1="266" y1="1984.3" x2="394" y2="1919" stroke="#111" stroke-width="1" />
<text x="559.6" y="1967.8" font-size="12.5" font-family="Liberation Sans" textLength="97.8" lengthAdjust="spacingAndGlyphs" fill="#1a1a1a" >Вилы погрузчика</text>
<text x="559.6" y="1983.3" font-size="12.5" font-family="Liberation Sans" fill="#1a1a1a" ></text>
<line x1="557" y1="1971.3" x2="658.7" y2="1971.3" stroke="#222" stroke-width="1" />
<line x1="557" y1="1971.3" x2="421" y2="1919" stroke="#111" stroke-width="1" />
<line x1="557" y1="1971.3" x2="520.4" y2="1922" stroke="#111" stroke-width="1" />
<text x="575" y="2130" font-size="12.5" font-family="Liberation Sans" textLength="144" lengthAdjust="spacingAndGlyphs" fill="#1a1a1a" >Пластина-ограничитель</text>
<text x="575" y="2144.2" font-size="12.5" font-family="Liberation Sans" textLength="95.8" lengthAdjust="spacingAndGlyphs" fill="#1a1a1a" >(приваривается)</text>
<line x1="575" y1="2133.5" x2="720.4" y2="2133.5" stroke="#222" stroke-width="1" />
<linearGradient id="strapg" x1="0" y1="0" x2="0" y2="1"><stop offset="0" stop-color="#f0c850"/><stop offset="0.5" stop-color="#e2ae34"/><stop offset="1" stop-color="#c98f22"/></linearGradient>
<pattern id="straptex" width="9" height="4" patternUnits="userSpaceOnUse" patternTransform="skewX(-60)"><rect width="9" height="4" fill="url(#strapg)"/><rect width="9" height="0.9" fill="#b88420" opacity="0.7"/><rect x="0" width="1" height="4" fill="#c8962a" opacity="0.5"/></pattern>
<linearGradient id="loopg" x1="0" y1="0" x2="0" y2="1"><stop offset="0" stop-color="#f0f0f0"/><stop offset="0.6" stop-color="#bdbdbd"/><stop offset="1" stop-color="#8a8a8a"/></linearGradient>
<path d="M 995,1879 L 962,1879 C 946,1879 939,1889 939,1899 C 939,1910 947,1919 962,1919 L 995,1919 L 995,1910 L 962,1910 C 954,1910 951,1905 951,1900 C 951,1894 955,1890 962,1890 L 995,1890 Z" fill="url(#loopg)" stroke="#3a3a3a" stroke-width="1.2"/>
<path d="M 1452,1879 L 1482,1879 C 1498,1879 1505,1889 1505,1899 C 1505,1910 1497,1919 1482,1919 L 1452,1919 L 1452,1910 L 1482,1910 C 1490,1910 1493,1905 1493,1900 C 1493,1894 1489,1890 1482,1890 L 1452,1890 Z" fill="url(#loopg)" stroke="#3a3a3a" stroke-width="1.2"/>
<path d="M 988,1879 L 1060,1885 L 1390,1885 L 1458,1879 L 1460,1890 L 1395,1907 L 1055,1907 L 988,1890 Z" fill="url(#straptex)" stroke="#9a6a14" stroke-width="0.8"/>
<path d="M 988,1910 L 1060,1905 L 1390,1905 L 1458,1910 L 1458,1919 L 1390,1910 L 1060,1910 L 988,1919 Z" fill="url(#straptex)" stroke="#9a6a14" stroke-width="0.8"/>
<line x1="1095" y1="1886" x2="1101" y2="1906" stroke="#a87418" stroke-width="0.8" />
<line x1="1135" y1="1886" x2="1141" y2="1906" stroke="#a87418" stroke-width="0.8" />
<line x1="1335" y1="1886" x2="1341" y2="1906" stroke="#a87418" stroke-width="0.8" />
<line x1="1375" y1="1886" x2="1381" y2="1906" stroke="#a87418" stroke-width="0.8" />
<path d="M 995,1957 L 962,1957 C 946,1957 939,1967 939,1977 C 939,1988 947,1997 962,1997 L 995,1997 L 995,1988 L 962,1988 C 954,1988 951,1983 951,1978 C 951,1972 955,1968 962,1968 L 995,1968 Z" fill="url(#loopg)" stroke="#3a3a3a" stroke-width="1.2"/>
<path d="M 1452,1957 L 1482,1957 C 1498,1957 1505,1967 1505,1977 C 1505,1988 1497,1997 1482,1997 L 1452,1997 L 1452,1988 L 1482,1988 C 1490,1988 1493,1983 1493,1978 C 1493,1972 1489,1968 1482,1968 L 1452,1968 Z" fill="url(#loopg)" stroke="#3a3a3a" stroke-width="1.2"/>
<path d="M 988,1957 L 1060,1963 L 1390,1963 L 1458,1957 L 1460,1968 L 1395,1985 L 1055,1985 L 988,1968 Z" fill="url(#straptex)" stroke="#9a6a14" stroke-width="0.8"/>
<path d="M 988,1988 L 1060,1983 L 1390,1983 L 1458,1988 L 1458,1997 L 1390,1988 L 1060,1988 L 988,1997 Z" fill="url(#straptex)" stroke="#9a6a14" stroke-width="0.8"/>
<line x1="1095" y1="1964" x2="1101" y2="1984" stroke="#a87418" stroke-width="0.8" />
<line x1="1135" y1="1964" x2="1141" y2="1984" stroke="#a87418" stroke-width="0.8" />
<line x1="1335" y1="1964" x2="1341" y2="1984" stroke="#a87418" stroke-width="0.8" />
<line x1="1375" y1="1964" x2="1381" y2="1984" stroke="#a87418" stroke-width="0.8" />
<path d="M 995,2038.5 L 962,2038.5 C 946,2038.5 939,2048.5 939,2058.5 C 939,2069.5 947,2078.5 962,2078.5 L 995,2078.5 L 995,2069.5 L 962,2069.5 C 954,2069.5 951,2064.5 951,2059.5 C 951,2053.5 955,2049.5 962,2049.5 L 995,2049.5 Z" fill="url(#loopg)" stroke="#3a3a3a" stroke-width="1.2"/>
<path d="M 1452,2038.5 L 1482,2038.5 C 1498,2038.5 1505,2048.5 1505,2058.5 C 1505,2069.5 1497,2078.5 1482,2078.5 L 1452,2078.5 L 1452,2069.5 L 1482,2069.5 C 1490,2069.5 1493,2064.5 1493,2059.5 C 1493,2053.5 1489,2049.5 1482,2049.5 L 1452,2049.5 Z" fill="url(#loopg)" stroke="#3a3a3a" stroke-width="1.2"/>
<path d="M 988,2038.5 L 1060,2044.5 L 1390,2044.5 L 1458,2038.5 L 1460,2049.5 L 1395,2066.5 L 1055,2066.5 L 988,2049.5 Z" fill="url(#straptex)" stroke="#9a6a14" stroke-width="0.8"/>
<path d="M 988,2069.5 L 1060,2064.5 L 1390,2064.5 L 1458,2069.5 L 1458,2078.5 L 1390,2069.5 L 1060,2069.5 L 988,2078.5 Z" fill="url(#straptex)" stroke="#9a6a14" stroke-width="0.8"/>
<line x1="1095" y1="2045.5" x2="1101" y2="2065.5" stroke="#a87418" stroke-width="0.8" />
<line x1="1135" y1="2045.5" x2="1141" y2="2065.5" stroke="#a87418" stroke-width="0.8" />
<line x1="1335" y1="2045.5" x2="1341" y2="2065.5" stroke="#a87418" stroke-width="0.8" />
<line x1="1375" y1="2045.5" x2="1381" y2="2065.5" stroke="#a87418" stroke-width="0.8" />
<text x="1007.5" y="1934" font-family="Liberation Sans" font-size="15.2" fill="#1e1e1e" textLength="337" lengthAdjust="spacingAndGlyphs"><tspan font-weight="bold" font-size="19">С</tspan>троп <tspan font-weight="bold" font-size="19">Т</tspan>екстильный <tspan font-weight="bold" font-size="19">П</tspan>етлевой, исполнение 1</text>
<text x="1196" y="1956" font-size="21" font-family="Liberation Sans" text-anchor="middle" textLength="64" lengthAdjust="spacingAndGlyphs" font-weight="bold" fill="#1a1a1a" >(СТП1)</text>
<text x="1007.5" y="2011" font-family="Liberation Sans" font-size="15.2" fill="#1e1e1e" textLength="337" lengthAdjust="spacingAndGlyphs"><tspan font-weight="bold" font-size="19">С</tspan>троп <tspan font-weight="bold" font-size="19">Т</tspan>екстильный <tspan font-weight="bold" font-size="19">П</tspan>етлевой, исполнение 3</text>
<text x="1196" y="2034" font-size="21" font-family="Liberation Sans" text-anchor="middle" textLength="64" lengthAdjust="spacingAndGlyphs" font-weight="bold" fill="#1a1a1a" >(СТП3)</text>
<text x="1007.5" y="2094" font-family="Liberation Sans" font-size="15.2" fill="#1e1e1e" textLength="337" lengthAdjust="spacingAndGlyphs"><tspan font-weight="bold" font-size="19">С</tspan>троп <tspan font-weight="bold" font-size="19">Т</tspan>екстильный <tspan font-weight="bold" font-size="19">П</tspan>етлевой, исполнение 6</text>
<text x="1196" y="2117" font-size="21" font-family="Liberation Sans" text-anchor="middle" textLength="64" lengthAdjust="spacingAndGlyphs" font-weight="bold" fill="#1a1a1a" >(СТП6)</text>
<circle cx="1369" cy="1928" r="17" fill="url(#straptex)" stroke="#9a9a9a" stroke-width="1.2" />
<path d="M 1353,1931 Q 1369,1925 1385,1929" stroke="#7a5a10" stroke-width="1" fill="none"/>
<text x="1389" y="1926" font-size="7.5" font-family="Liberation Sans" textLength="24" lengthAdjust="spacingAndGlyphs" fill="#666" >1 слой</text>
<text x="1389" y="1935" font-size="7.5" font-family="Liberation Sans" textLength="20" lengthAdjust="spacingAndGlyphs" fill="#666" >ленты</text>
<line x1="1359" y1="1914" x2="1324" y2="1898" stroke="#b0b0b0" stroke-width="0.8" />
<circle cx="1371" cy="2006" r="17" fill="url(#straptex)" stroke="#9a9a9a" stroke-width="1.2" />
<path d="M 1355,2009 Q 1371,2003 1387,2007" stroke="#7a5a10" stroke-width="1" fill="none"/>
<text x="1391" y="2004" font-size="7.5" font-family="Liberation Sans" textLength="24" lengthAdjust="spacingAndGlyphs" fill="#666" >2 слоя</text>
<text x="1391" y="2013" font-size="7.5" font-family="Liberation Sans" textLength="20" lengthAdjust="spacingAndGlyphs" fill="#666" >ленты</text>
<line x1="1361" y1="1992" x2="1326" y2="1976" stroke="#b0b0b0" stroke-width="0.8" />
<circle cx="1369" cy="2090" r="17" fill="url(#straptex)" stroke="#9a9a9a" stroke-width="1.2" />
<path d="M 1353,2093 Q 1369,2087 1385,2091" stroke="#7a5a10" stroke-width="1" fill="none"/>
<text x="1389" y="2088" font-size="7.5" font-family="Liberation Sans" textLength="24" lengthAdjust="spacingAndGlyphs" fill="#666" >4 слоя</text>
<text x="1389" y="2097" font-size="7.5" font-family="Liberation Sans" textLength="20" lengthAdjust="spacingAndGlyphs" fill="#666" >ленты</text>
<line x1="1359" y1="2076" x2="1324" y2="2060" stroke="#b0b0b0" stroke-width="0.8" />
<g fill="none" stroke="#6a6a6a" stroke-width="1">
<path d="M 1672,1812 L 1672,2142 M 1688,1834 L 1688,2133 M 1688,1833 L 1845,1833 M 1665,2135 L 1845,2135"/>
<path d="M 1688,1834 l -3,9 l 6,0 z M 1688,2133 l -3,-9 l 6,0 z" fill="#6a6a6a"/>
<path d="M 1700,2155 L 1835,2155 M 1837,2155 L 1905,2155 M 1907,2155 L 2155,2155 M 1700,2171 L 2232,2171 M 1700,2138 L 1700,2175 M 1836,2120 L 1836,2160 M 1907,2140 L 1907,2160 M 2155,2140 L 2155,2160 M 2232,2100 L 2232,2175"/>
<path d="M 1760.5,2046 L 1760.5,2124 M 1763,2086.7 L 1832,2086.7 M 1850,1826 L 1905,1838 M 1880,1830 L 1905,1832 M 1900,1838 L 1915,1870 M 1915,1835 L 1920,1880"/>
</g>
<text x="1666" y="1968" font-size="10.5" font-family="Liberation Sans" text-anchor="middle" textLength="24" lengthAdjust="spacingAndGlyphs" transform="rotate(-90 1666 1968)" fill="#555" >3300</text>
<text x="1683" y="1975" font-size="10.5" font-family="Liberation Sans" text-anchor="middle" textLength="24" lengthAdjust="spacingAndGlyphs" transform="rotate(-90 1683 1975)" fill="#555" >2650</text>
<text x="1771" y="2150" font-size="11" font-family="Liberation Sans" text-anchor="middle" fill="#555" >1260</text>
<text x="1871" y="2150" font-size="11" font-family="Liberation Sans" text-anchor="middle" fill="#555" >640</text>
<text x="2001" y="2152" font-size="11" font-family="Liberation Sans" text-anchor="middle" fill="#555" >2200</text>
<text x="1961" y="2168" font-size="11" font-family="Liberation Sans" text-anchor="middle" fill="#555" >4700</text>
<text x="1798" y="2081" font-size="11" font-family="Liberation Sans" text-anchor="middle" fill="#555" >600</text>
<text x="1897" y="1840" font-size="11" font-family="Liberation Sans" text-anchor="middle" fill="#555" >12°</text>
<text x="1774" y="2054" font-size="11" font-family="Liberation Sans" text-anchor="middle" fill="#555" font-style="italic">Q</text>
<path d="M 1700,2126 L 1838,2128 L 1840,2136 L 1702,2133 Z" fill="#c8c8c8" stroke="#555" stroke-width="1"/>
<path d="M 1835,2040 L 1848,2040 L 1850,2133 L 1836,2136 Z" fill="#c8c8c8" stroke="#555" stroke-width="1"/>
<path d="M 1854.4,1833 L 1884,1833 Q 1891,1834 1891,1842 L 1891,1898 L 1879,1905 L 1879,2111 L 1854.4,2111 Z" fill="#c2c2c2" stroke="#555" stroke-width="1.2"/>
<path d="M 1858,1845 L 1858,2100 M 1864,1870 L 1864,2100 M 1872,1870 L 1872,2100 M 1855,1925 L 1879,1925 M 1855,1930 L 1879,1930" stroke="#555" stroke-width="1"/>
<path d="M 1858,1872 L 1858,2040 M 1876,1872 L 1876,2040" stroke="#333" stroke-width="2"/>
<circle cx="1866" cy="1851" r="4" fill="none" stroke="#555" stroke-width="1"/>
<path d="M 1879,1995 L 1905,1993 L 1907,2011 L 1918,2015 L 1918,1978 L 2096,1974 L 2100,1970 Q 2160,1968 2200,1984 Q 2222,1995 2226,2022 L 2228,2045 L 2233,2050 L 2231,2115 L 2211,2107 Q 2208,2042 2158,2040 Q 2106,2042 2103,2111 L 1980,2111 Q 1975,2028 1908,2026 Q 1885,2027 1879,2035 Z" fill="#c6c6c6" stroke="#555" stroke-width="1.3"/>
<path d="M 1917.5,1979 L 1925.7,1922 Q 1935,1893 1952,1879 Q 1962,1865 1972.5,1861 Q 2000,1851 2031.5,1850.5 Q 2060,1851 2074.3,1856.6 Q 2090,1866 2092.6,1881 L 2096.7,1962 L 2094.7,1975 L 2073.3,1970 L 2070,1869 Q 2050,1862 2031.5,1862.8 Q 2000,1864 1972.5,1873 Q 1948,1890 1938,1911.6 L 1927.7,1979 Z" fill="#c4c4c4" stroke="#555" stroke-width="1.2"/>
<path d="M 1968,1860 Q 1995,1846 2030,1847 L 2031,1852 M 2075,1856 L 2095,1855 L 2090,1866" fill="none" stroke="#555" stroke-width="1"/>
<rect x="2031.5" y="1862.8" width="4.1" height="114.2" fill="#b8b8b8" stroke="#555" stroke-width="0.9" />
<path d="M 2040,1960 L 2044,1920 L 2048,1906 L 2053,1908 L 2052,1970 Z M 1935,1975 L 1933,1965 L 1942,1958 L 1950,1962 L 1945,1935 L 1960,1930 L 1970,1940 L 1972,1972 Z" fill="#c0c0c0" stroke="#555" stroke-width="1"/>
<path d="M 1963,1921 L 1985,1936" stroke="#444" stroke-width="2.2"/>
<path d="M 1990,1975 L 1992,1960 M 2000,1975 L 2000,1962 M 1925,1985 L 1945,1985 L 1945,1996 L 1925,1996 Z M 1955,2004 L 1960,1990 Q 1975,1986 2005,1988 Q 2012,1992 2005,2004 Z" fill="none" stroke="#555" stroke-width="1"/>
<path d="M 2100,1988 L 2123,1988 M 2102,1988 L 2102,2008 M 2108,1988 L 2108,2008 M 2114,1988 L 2114,2008 M 2120,1988 L 2120,2008 M 1980,2045 Q 2060,2050 2120,2038 M 1985,2060 L 2060,2060 M 1985,2100 L 2045,2100 L 2045,2105 L 1985,2105 M 2090,2030 Q 2160,2015 2212,2020" fill="none" stroke="#555" stroke-width="1"/>
<path d="M 1940,2022 Q 1975,2028 1985,2060 L 1990,2110" fill="none" stroke="#444" stroke-width="1.5"/>
<circle cx="1908.4" cy="2082.6" r="55" fill="#bcbcbc" stroke="#555" stroke-width="1.4" />
<circle cx="1908.4" cy="2082.6" r="30.5" fill="#c4c4c4" stroke="#555" stroke-width="1.2" />
<circle cx="1908.4" cy="2082.6" r="18" fill="#bdbdbd" stroke="#555" stroke-width="1.2" />
<circle cx="1908.4" cy="2082.6" r="7.7" fill="#d0d0d0" stroke="#555" stroke-width="1" />
<circle cx="1932.4" cy="2082.6" r="2.4" fill="#888" stroke="#555" stroke-width="0.6" />
<circle cx="1925.37" cy="2099.57" r="2.4" fill="#888" stroke="#555" stroke-width="0.6" />
<circle cx="1908.4" cy="2106.6" r="2.4" fill="#888" stroke="#555" stroke-width="0.6" />
<circle cx="1891.43" cy="2099.57" r="2.4" fill="#888" stroke="#555" stroke-width="0.6" />
<circle cx="1884.4" cy="2082.6" r="2.4" fill="#888" stroke="#555" stroke-width="0.6" />
<circle cx="1891.43" cy="2065.63" r="2.4" fill="#888" stroke="#555" stroke-width="0.6" />
<circle cx="1908.4" cy="2058.6" r="2.4" fill="#888" stroke="#555" stroke-width="0.6" />
<circle cx="1925.37" cy="2065.63" r="2.4" fill="#888" stroke="#555" stroke-width="0.6" />
<circle cx="2157.8" cy="2094.8" r="46.8" fill="#bcbcbc" stroke="#555" stroke-width="1.4" />
<circle cx="2157.8" cy="2094.8" r="30.5" fill="#c4c4c4" stroke="#555" stroke-width="1.2" />
<circle cx="2157.8" cy="2094.8" r="18" fill="#bdbdbd" stroke="#555" stroke-width="1.2" />
<circle cx="2157.8" cy="2094.8" r="6.55" fill="#d0d0d0" stroke="#555" stroke-width="1" />
<circle cx="2181.8" cy="2094.8" r="2.4" fill="#888" stroke="#555" stroke-width="0.6" />
<circle cx="2174.77" cy="2111.77" r="2.4" fill="#888" stroke="#555" stroke-width="0.6" />
<circle cx="2157.8" cy="2118.8" r="2.4" fill="#888" stroke="#555" stroke-width="0.6" />
<circle cx="2140.83" cy="2111.77" r="2.4" fill="#888" stroke="#555" stroke-width="0.6" />
<circle cx="2133.8" cy="2094.8" r="2.4" fill="#888" stroke="#555" stroke-width="0.6" />
<circle cx="2140.83" cy="2077.83" r="2.4" fill="#888" stroke="#555" stroke-width="0.6" />
<circle cx="2157.8" cy="2070.8" r="2.4" fill="#888" stroke="#555" stroke-width="0.6" />
<circle cx="2174.77" cy="2077.83" r="2.4" fill="#888" stroke="#555" stroke-width="0.6" />
<line x1="457.7" y1="1568" x2="1031" y2="1991.5" stroke="#3a3a9a" stroke-width="1.2" />
<line x1="521" y1="2065.8" x2="1031" y2="1991.5" stroke="#3a3a9a" stroke-width="1.2" />
</svg></body></html>
